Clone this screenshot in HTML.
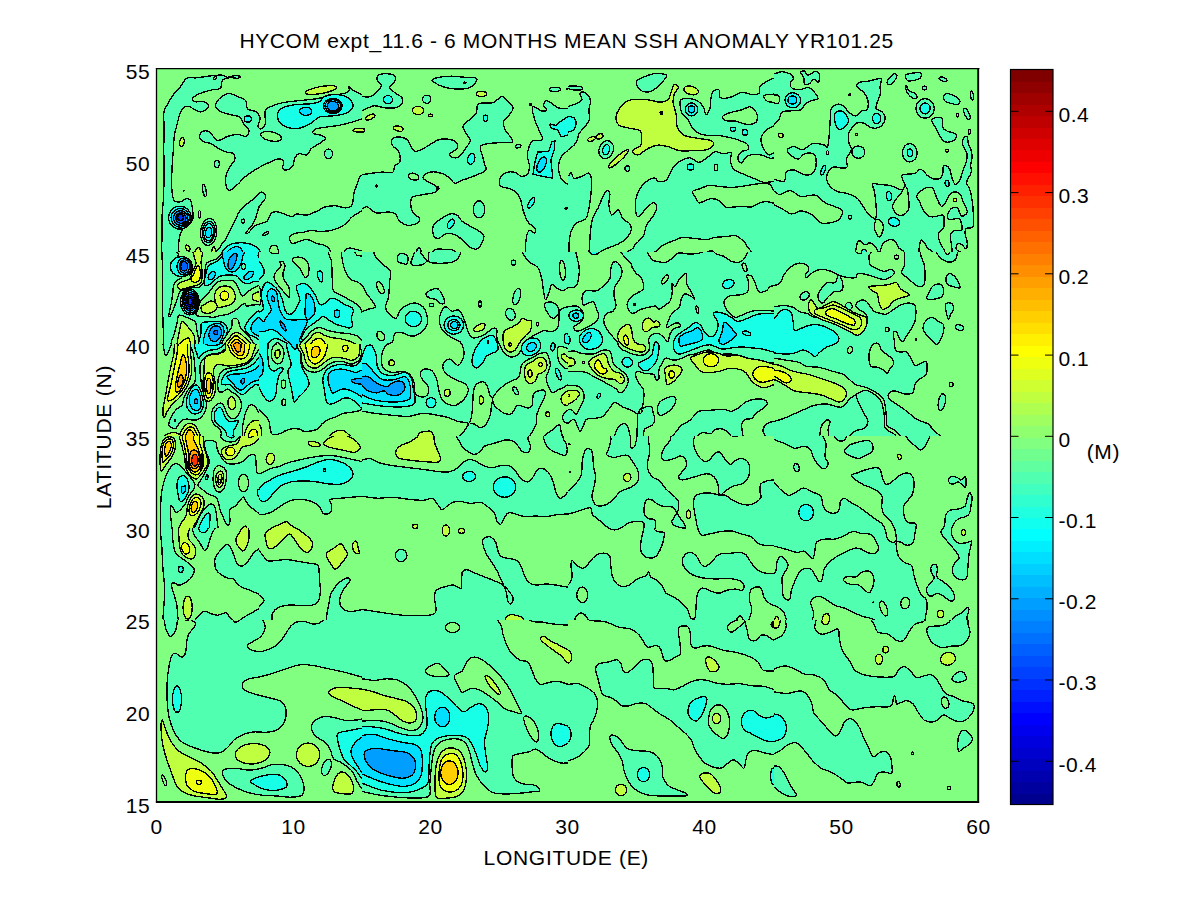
<!DOCTYPE html>
<html><head><meta charset="utf-8"><title>HYCOM expt_11.6 - 6 MONTHS MEAN SSH ANOMALY YR101.25</title>
<style>html,body{margin:0;padding:0;background:#fff}body{width:1200px;height:901px;overflow:hidden}svg{display:block}text{font-family:"Liberation Sans",Arial,Helvetica,sans-serif;font-size:21px;letter-spacing:0.55px;fill:#000}.f path,.f ellipse{stroke:#000;stroke-width:1.35;vector-effect:non-scaling-stroke;stroke-linejoin:round;shape-rendering:crispEdges}</style></head><body>
<svg width="1200" height="901" viewBox="0 0 1200 901">
<rect width="1200" height="901" fill="#fff"/>
<rect x="156.5" y="68.5" width="822" height="733.5" fill="#80FF80"/>
<defs>
<clipPath id="c0"><rect x="156.5" y="68.5" width="205.5" height="183.5"/></clipPath>
<clipPath id="c1"><rect x="362" y="68.5" width="206" height="183.5"/></clipPath>
<clipPath id="c2"><rect x="568" y="68.5" width="206" height="183.5"/></clipPath>
<clipPath id="c3"><rect x="774" y="68.5" width="204.5" height="183.5"/></clipPath>
<clipPath id="c4"><rect x="156.5" y="252" width="102.5" height="92"/></clipPath>
<clipPath id="c5"><rect x="259" y="252" width="103" height="92"/></clipPath>
<clipPath id="c6"><rect x="156.5" y="344" width="102.5" height="92"/></clipPath>
<clipPath id="c7"><rect x="259" y="344" width="103" height="92"/></clipPath>
<clipPath id="c8"><rect x="362" y="252" width="206" height="184"/></clipPath>
<clipPath id="c9"><rect x="568" y="252" width="206" height="184"/></clipPath>
<clipPath id="c10"><rect x="774" y="252" width="204.5" height="184"/></clipPath>
<clipPath id="c11"><rect x="259" y="436" width="103" height="184"/></clipPath>
<clipPath id="c12"><rect x="156.5" y="436" width="102.5" height="92"/></clipPath>
<clipPath id="c13"><rect x="156.5" y="528" width="102.5" height="92"/></clipPath>
<clipPath id="c14"><rect x="362" y="436" width="206" height="184"/></clipPath>
<clipPath id="c15"><rect x="568" y="436" width="206" height="184"/></clipPath>
<clipPath id="c16"><rect x="774" y="436" width="204.5" height="184"/></clipPath>
<clipPath id="c17"><rect x="156.5" y="620" width="205.5" height="182"/></clipPath>
<clipPath id="c18"><rect x="362" y="620" width="206" height="182"/></clipPath>
<clipPath id="c19"><rect x="568" y="620" width="206" height="182"/></clipPath>
<clipPath id="c20"><rect x="774" y="620" width="204.5" height="182"/></clipPath>
</defs>
<g class="f" clip-path="url(#c0)"><g transform="translate(156,68) scale(0.204165)">
<path d="M415,42 C412.5,40.0 395.8,37.5 385,38 C374.2,38.5 360.8,45.5 350,45 C339.2,44.5 333.3,36.2 320,35 C306.7,33.8 290.0,35.8 270,38 C250.0,40.2 220.0,46.0 200,48 C180.0,50.0 162.5,43.8 150,50 C137.5,56.2 135.8,71.7 125,85 C114.2,98.3 96.7,114.2 85,130 C73.3,145.8 62.8,165.0 55,180 C47.2,195.0 40.5,200.0 38,220 C35.5,240.0 40.0,270.0 40,300 C40.0,330.0 38.0,366.7 38,400 C38.0,433.3 40.0,466.7 40,500 C40.0,533.3 38.8,573.3 38,600 C37.2,626.7 36.3,640.0 35,660 C33.7,680.0 30.8,696.7 30,720 C29.2,743.3 29.2,761.7 30,800 C30.8,838.3 21.3,925.0 35,950 C48.7,975.0 99.5,961.7 112,950 C124.5,938.3 109.5,900.0 110,880 C110.5,860.0 111.7,845.0 115,830 C118.3,815.0 122.5,800.0 130,790 C137.5,780.0 151.7,778.3 160,770 C168.3,761.7 176.7,751.7 180,740 C183.3,728.3 181.7,715.0 180,700 C178.3,685.0 175.0,660.0 170,650 C165.0,640.0 158.3,639.2 150,640 C141.7,640.8 130.0,653.3 120,655 C110.0,656.7 97.0,659.2 90,650 C83.0,640.8 80.0,625.0 78,600 C76.0,575.0 76.8,533.3 78,500 C79.2,466.7 83.0,428.3 85,400 C87.0,371.7 86.7,351.7 90,330 C93.3,308.3 100.3,288.3 105,270 C109.7,251.7 113.0,232.5 118,220 C123.0,207.5 128.0,200.3 135,195 C142.0,189.7 146.7,184.7 160,188 C173.3,191.3 200.0,213.0 215,215 C230.0,217.0 243.3,205.8 250,200 C256.7,194.2 257.5,185.8 255,180 C252.5,174.2 245.8,167.5 235,165 C224.2,162.5 199.2,167.8 190,165 C180.8,162.2 175.8,154.7 180,148 C184.2,141.3 200.0,131.7 215,125 C230.0,118.3 253.3,112.2 270,108 C286.7,103.8 305.8,108.0 315,100 C324.2,92.0 317.5,68.7 325,60 C332.5,51.3 347.5,49.7 360,48 C372.5,46.3 390.8,51.0 400,50 C409.2,49.0 417.5,44.0 415,42 Z" fill="#50FFAF"/>
<ellipse cx="288" cy="50" rx="10" ry="5" fill="#80FF80" transform="rotate(-45 288 50)"/>
<ellipse cx="117" cy="733" rx="55" ry="56" fill="#18FFE7"/>
<ellipse cx="119" cy="734" rx="45" ry="46" fill="#00DFFF" stroke-width="0.55"/>
<ellipse cx="121" cy="735" rx="35" ry="36" fill="#009FFF" stroke-width="0.55"/>
<ellipse cx="122" cy="735" rx="25" ry="26" fill="#0060FF" stroke-width="0.55"/>
<ellipse cx="120" cy="731" rx="14" ry="16" fill="#0030FF" stroke-width="0.55"/>
<ellipse cx="143" cy="765" rx="7" ry="14" fill="#000000" transform="rotate(-35 143 765)"/>
<path d="M292,180 C294.5,172.5 299.5,159.2 310,150 C320.5,140.8 340.0,126.7 355,125 C370.0,123.3 385.8,134.2 400,140 C414.2,145.8 432.0,150.0 440,160 C448.0,170.0 439.7,190.8 448,200 C456.3,209.2 479.7,207.5 490,215 C500.3,222.5 508.3,233.3 510,245 C511.7,256.7 499.2,276.2 500,285 C500.8,293.8 509.2,299.7 515,298 C520.8,296.3 531.7,289.7 535,275 C538.3,260.3 530.8,224.2 535,210 C539.2,195.8 545.8,196.7 560,190 C574.2,183.3 596.7,175.0 620,170 C643.3,165.0 671.7,163.3 700,160 C728.3,156.7 765.0,154.2 790,150 C815.0,145.8 828.3,139.2 850,135 C871.7,130.8 904.2,129.2 920,125 C935.8,120.8 940.8,115.8 945,110 C949.2,104.2 942.5,90.8 945,90 C947.5,89.2 949.3,98.3 960,105 C970.7,111.7 994.0,125.8 1009,130 C1024.0,134.2 1043.2,111.7 1050,130 C1056.8,148.3 1056.8,220.0 1050,240 C1043.2,260.0 1024.0,245.8 1009,250 C994.0,254.2 978.2,260.0 960,265 C941.8,270.0 921.7,275.8 900,280 C878.3,284.2 850.0,286.7 830,290 C810.0,293.3 790.0,295.0 780,300 C770.0,305.0 765.0,315.0 770,320 C775.0,325.0 800.0,325.8 810,330 C820.0,334.2 831.7,338.3 830,345 C828.3,351.7 811.7,361.7 800,370 C788.3,378.3 770.0,385.8 760,395 C750.0,404.2 750.0,420.8 740,425 C730.0,429.2 710.0,417.5 700,420 C690.0,422.5 685.0,430.0 680,440 C675.0,450.0 676.7,470.0 670,480 C663.3,490.0 648.3,498.3 640,500 C631.7,501.7 622.5,496.7 620,490 C617.5,483.3 628.3,467.5 625,460 C621.7,452.5 610.8,445.0 600,445 C589.2,445.0 576.7,452.5 560,460 C543.3,467.5 520.0,478.3 500,490 C480.0,501.7 456.7,516.7 440,530 C423.3,543.3 413.3,558.3 400,570 C386.7,581.7 369.7,600.0 360,600 C350.3,600.0 344.5,583.3 342,570 C339.5,556.7 341.2,535.0 345,520 C348.8,505.0 358.3,491.7 365,480 C371.7,468.3 382.5,460.0 385,450 C387.5,440.0 387.5,426.7 380,420 C372.5,413.3 353.3,415.0 340,410 C326.7,405.0 311.7,396.7 300,390 C288.3,383.3 281.7,375.0 270,370 C258.3,365.0 239.7,365.8 230,360 C220.3,354.2 212.0,343.3 212,335 C212.0,326.7 221.2,313.3 230,310 C238.8,306.7 253.3,307.5 265,315 C276.7,322.5 285.8,351.7 300,355 C314.2,358.3 333.3,340.0 350,335 C366.7,330.0 385.0,325.0 400,325 C415.0,325.0 430.8,338.3 440,335 C449.2,331.7 456.7,315.0 455,305 C453.3,295.0 437.5,285.8 430,275 C422.5,264.2 420.0,247.5 410,240 C400.0,232.5 385.0,234.2 370,230 C355.0,225.8 332.5,220.8 320,215 C307.5,209.2 299.7,200.8 295,195 C290.3,189.2 289.5,187.5 292,180 Z" fill="#50FFAF"/>
<path d="M595,225 C597.5,213.3 605.8,202.5 620,195 C634.2,187.5 656.7,183.3 680,180 C703.3,176.7 740.0,177.5 760,175 C780.0,172.5 789.2,170.8 800,165 C810.8,159.2 813.3,145.8 825,140 C836.7,134.2 852.5,130.0 870,130 C887.5,130.0 914.7,133.3 930,140 C945.3,146.7 957.0,160.0 962,170 C967.0,180.0 967.0,190.8 960,200 C953.0,209.2 936.7,219.2 920,225 C903.3,230.8 880.0,232.5 860,235 C840.0,237.5 816.7,234.2 800,240 C783.3,245.8 776.7,260.8 760,270 C743.3,279.2 720.0,291.7 700,295 C680.0,298.3 655.8,295.0 640,290 C624.2,285.0 612.5,275.8 605,265 C597.5,254.2 592.5,236.7 595,225 Z" fill="#18FFE7"/>
<ellipse cx="733" cy="212" rx="30" ry="20" fill="#00DFFF"/>
<ellipse cx="866" cy="186" rx="46" ry="37" fill="#00DFFF"/>
<ellipse cx="866" cy="186" rx="38" ry="31" fill="#00DFFF"/>
<ellipse cx="866" cy="187" rx="28" ry="24" fill="#009FFF"/>
<ellipse cx="450" cy="250" rx="18" ry="15" fill="#18FFE7"/>
<ellipse cx="563" cy="335" rx="52" ry="22" fill="#80FF80" transform="rotate(12 563 335)"/>
<ellipse cx="808" cy="108" rx="78" ry="17" fill="#BFFF40" transform="rotate(-10 808 108)"/>
<ellipse cx="995" cy="305" rx="30" ry="9" fill="#BFFF40"/>
<ellipse cx="127" cy="362" rx="11" ry="22" fill="#BFFF40" transform="rotate(10 127 362)"/>
<ellipse cx="298" cy="470" rx="12" ry="18" fill="#50FFAF"/>
<ellipse cx="237" cy="600" rx="8" ry="30" fill="#50FFAF" transform="rotate(-10 237 600)"/>
<ellipse cx="135" cy="602" rx="2" ry="3" fill="#000000"/>
<ellipse cx="213" cy="717" rx="4" ry="18" fill="#BFFF40"/>
<ellipse cx="845" cy="420" rx="20" ry="23" fill="#50FFAF"/>
<ellipse cx="258" cy="803" rx="40" ry="66" fill="#50FFAF" transform="rotate(5 258 803)"/>
<ellipse cx="258" cy="803" rx="31" ry="52" fill="#18FFE7" stroke-width="0.8" transform="rotate(5 258 803)"/>
<ellipse cx="258" cy="804" rx="24" ry="42" fill="#18FFE7" stroke-width="0.7" transform="rotate(5 258 804)"/>
<ellipse cx="258" cy="806" rx="15" ry="26" fill="#00DFFF" stroke-width="0.7" transform="rotate(5 258 806)"/>
<path d="M510,610 C501.7,614.2 491.7,630.0 480,640 C468.3,650.0 451.7,660.0 440,670 C428.3,680.0 418.3,688.3 410,700 C401.7,711.7 397.5,725.0 390,740 C382.5,755.0 373.3,773.3 365,790 C356.7,806.7 348.8,825.0 340,840 C331.2,855.0 318.7,861.7 312,880 C305.3,898.3 210.3,938.3 300,950 C389.7,961.7 757.5,958.2 850,950 C942.5,941.8 858.3,914.3 855,901 C851.7,887.7 840.8,876.8 830,870 C819.2,863.2 805.0,865.0 790,860 C775.0,855.0 755.0,841.7 740,840 C725.0,838.3 712.5,846.7 700,850 C687.5,853.3 672.5,863.3 665,860 C657.5,856.7 652.5,838.3 655,830 C657.5,821.7 669.2,814.2 680,810 C690.8,805.8 706.7,807.5 720,805 C733.3,802.5 746.7,795.8 760,795 C773.3,794.2 783.3,800.0 800,800 C816.7,800.0 840.0,800.0 860,795 C880.0,790.0 903.3,780.8 920,770 C936.7,759.2 945.2,741.7 960,730 C974.8,718.3 994.0,706.7 1009,700 C1024.0,693.3 1043.2,720.0 1050,690 C1056.8,660.0 1056.8,547.5 1050,520 C1043.2,492.5 1018.2,521.7 1009,525 C999.8,528.3 999.0,532.5 995,540 C991.0,547.5 989.2,558.3 985,570 C980.8,581.7 974.2,593.3 970,610 C965.8,626.7 966.7,657.5 960,670 C953.3,682.5 943.3,684.2 930,685 C916.7,685.8 896.7,675.8 880,675 C863.3,674.2 845.0,675.8 830,680 C815.0,684.2 805.0,693.3 790,700 C775.0,706.7 756.7,717.5 740,720 C723.3,722.5 702.5,713.7 690,715 C677.5,716.3 673.3,727.2 665,728 C656.7,728.8 650.8,723.8 640,720 C629.2,716.2 612.5,706.7 600,705 C587.5,703.3 574.2,702.5 565,710 C555.8,717.5 552.5,741.7 545,750 C537.5,758.3 530.8,755.8 520,760 C509.2,764.2 490.8,767.5 480,775 C469.2,782.5 461.7,798.8 455,805 C448.3,811.2 441.7,812.8 440,812 C438.3,811.2 440.0,807.0 445,800 C450.0,793.0 462.5,781.7 470,770 C477.5,758.3 484.2,745.0 490,730 C495.8,715.0 497.5,695.0 505,680 C512.5,665.0 530.8,650.8 535,640 C539.2,629.2 534.2,620.0 530,615 C525.8,610.0 518.3,605.8 510,610 Z" fill="#50FFAF"/>
<path d="M915,950 C894.2,940.8 919.2,906.3 925,895 C930.8,883.7 940.0,882.8 950,882 C960.0,881.2 975.2,887.8 985,890 C994.8,892.2 998.2,893.3 1009,895 C1019.8,896.7 1043.2,890.8 1050,900 C1056.8,909.2 1072.5,941.7 1050,950 C1027.5,958.3 935.8,959.2 915,950 Z" fill="#50FFAF"/>
<ellipse cx="427" cy="750" rx="8" ry="10" fill="#50FFAF"/>
<ellipse cx="537" cy="812" rx="16" ry="6" fill="#50FFAF" transform="rotate(-30 537 812)"/>
<path d="M312,950 C279.5,941.7 317.0,914.0 325,900 C333.0,886.0 345.8,873.3 360,866 C374.2,858.7 393.3,856.7 410,856 C426.7,855.3 445.0,857.2 460,862 C475.0,866.8 490.0,870.3 500,885 C510.0,899.7 551.3,939.2 520,950 C488.7,960.8 344.5,958.3 312,950 Z" fill="#18FFE7"/>
<path d="M330,950 C315.8,942.5 337.5,916.7 345,905 C352.5,893.3 365.8,884.8 375,880 C384.2,875.2 392.5,874.3 400,876 C407.5,877.7 415.0,877.7 420,890 C425.0,902.3 445.0,940.0 430,950 C415.0,960.0 344.2,957.5 330,950 Z" fill="#00DFFF"/>
<path d="M555,950 C547.2,939.2 554.7,898.7 558,885 C561.3,871.3 568.8,868.8 575,868 C581.2,867.2 590.0,866.3 595,880 C600.0,893.7 611.7,938.3 605,950 C598.3,961.7 562.8,960.8 555,950 Z" fill="#80FF80"/>
<ellipse cx="155" cy="882" rx="9" ry="16" fill="#BFFF40" transform="rotate(-30 155 882)"/>
<path d="M185,950 C180.0,940.0 190.0,900.8 195,890 C200.0,879.2 210.0,875.0 215,885 C220.0,895.0 230.0,939.2 225,950 C220.0,960.8 190.0,960.0 185,950 Z" fill="#BFFF40"/>
<path d="M270,950 C266.7,940.0 272.0,901.7 275,890 C278.0,878.3 284.7,870.0 288,880 C291.3,890.0 298.0,938.3 295,950 C292.0,961.7 273.3,960.0 270,950 Z" fill="#BFFF40"/>
</g></g>
<g class="f" clip-path="url(#c1)"><g transform="translate(362,68) scale(0.204165)">
<path d="M-40,135 C-33.3,123.3 -13.3,139.2 0,140 C13.3,140.8 27.5,144.2 40,140 C52.5,135.8 65.8,124.2 75,115 C84.2,105.8 95.0,94.2 95,85 C95.0,75.8 77.5,68.3 75,60 C72.5,51.7 72.5,40.3 80,35 C87.5,29.7 106.7,27.5 120,28 C133.3,28.5 153.3,31.8 160,38 C166.7,44.2 164.2,55.5 160,65 C155.8,74.5 135.0,85.8 135,95 C135.0,104.2 150.0,111.7 160,120 C170.0,128.3 189.2,135.8 195,145 C200.8,154.2 200.8,166.7 195,175 C189.2,183.3 174.2,191.7 160,195 C145.8,198.3 126.7,196.7 110,195 C93.3,193.3 75.0,184.2 60,185 C45.0,185.8 30.0,196.2 20,200 C10.0,203.8 10.0,206.3 0,208 C-10.0,209.7 -33.3,222.2 -40,210 C-46.7,197.8 -46.7,146.7 -40,135 Z" fill="#50FFAF"/>
<ellipse cx="127" cy="155" rx="22" ry="20" fill="#18FFE7"/>
<path d="M343,60 C343.0,53.3 363.8,48.3 380,45 C396.2,41.7 420.0,40.0 440,40 C460.0,40.0 480.8,43.7 500,45 C519.2,46.3 545.0,44.7 555,48 C565.0,51.3 564.2,57.2 560,65 C555.8,72.8 543.3,88.7 530,95 C516.7,101.3 498.3,102.5 480,103 C461.7,103.5 436.7,101.0 420,98 C403.3,95.0 392.8,91.3 380,85 C367.2,78.7 343.0,66.7 343,60 Z" fill="#50FFAF"/>
<ellipse cx="503" cy="72" rx="7" ry="3" fill="#000000"/>
<ellipse cx="317" cy="153" rx="20" ry="20" fill="#50FFAF"/>
<ellipse cx="275" cy="208" rx="27" ry="20" fill="#BFFF40"/>
<ellipse cx="335" cy="232" rx="10" ry="6" fill="#BFFF40"/>
<ellipse cx="585" cy="127" rx="25" ry="12" fill="#BFFF40"/>
<ellipse cx="40" cy="240" rx="25" ry="11" fill="#BFFF40" transform="rotate(-25 40 240)"/>
<ellipse cx="178" cy="297" rx="24" ry="12" fill="#BFFF40" transform="rotate(15 178 297)"/>
<ellipse cx="0" cy="305" rx="12" ry="10" fill="#BFFF40"/>
<ellipse cx="945" cy="105" rx="27" ry="10" fill="#50FFAF"/>
<ellipse cx="1005" cy="102" rx="4" ry="2" fill="#000000"/>
<ellipse cx="825" cy="178" rx="4" ry="5" fill="#000000"/>
<path d="M570,175 C583.3,166.7 620.8,175.8 640,170 C659.2,164.2 672.5,140.8 685,140 C697.5,139.2 705.8,155.8 715,165 C724.2,174.2 738.3,185.0 740,195 C741.7,205.0 732.5,214.2 725,225 C717.5,235.8 699.2,247.5 695,260 C690.8,272.5 695.0,287.5 700,300 C705.0,312.5 718.8,324.7 725,335 C731.2,345.3 742.8,357.0 737,362 C731.2,367.0 709.5,363.7 690,365 C670.5,366.3 638.3,366.7 620,370 C601.7,373.3 585.0,375.0 580,385 C575.0,395.0 586.7,415.8 590,430 C593.3,444.2 597.2,458.3 600,470 C602.8,481.7 612.0,491.7 607,500 C602.0,508.3 584.5,513.3 570,520 C555.5,526.7 533.3,535.0 520,540 C506.7,545.0 500.8,545.8 490,550 C479.2,554.2 465.0,566.7 455,565 C445.0,563.3 439.2,547.5 430,540 C420.8,532.5 413.3,525.3 400,520 C386.7,514.7 365.0,508.0 350,508 C335.0,508.0 318.3,514.7 310,520 C301.7,525.3 298.3,534.2 300,540 C301.7,545.8 311.7,550.0 320,555 C328.3,560.0 341.7,564.2 350,570 C358.3,575.8 369.2,583.3 370,590 C370.8,596.7 366.7,605.0 355,610 C343.3,615.0 318.3,615.8 300,620 C281.7,624.2 255.0,625.0 245,635 C235.0,645.0 239.2,667.5 240,680 C240.8,692.5 243.3,700.8 250,710 C256.7,719.2 276.7,726.7 280,735 C283.3,743.3 280.0,754.2 270,760 C260.0,765.8 235.0,772.5 220,770 C205.0,767.5 189.2,754.2 180,745 C170.8,735.8 173.3,721.7 165,715 C156.7,708.3 145.8,705.8 130,705 C114.2,704.2 87.5,714.2 70,710 C52.5,705.8 36.7,683.3 25,680 C13.3,676.7 10.8,688.3 0,690 C-10.8,691.7 -33.3,718.3 -40,690 C-46.7,661.7 -46.7,548.0 -40,520 C-33.3,492.0 -15.0,522.8 0,522 C15.0,521.2 33.3,517.0 50,515 C66.7,513.0 83.3,510.5 100,510 C116.7,509.5 140.0,517.0 150,512 C160.0,507.0 154.2,488.7 160,480 C165.8,471.3 181.7,471.7 185,460 C188.3,448.3 185.8,423.3 180,410 C174.2,396.7 155.3,390.0 150,380 C144.7,370.0 143.8,357.0 148,350 C152.2,343.0 163.0,338.0 175,338 C187.0,338.0 209.2,342.2 220,350 C230.8,357.8 233.3,375.3 240,385 C246.7,394.7 250.0,406.3 260,408 C270.0,409.7 286.7,401.3 300,395 C313.3,388.7 326.7,377.5 340,370 C353.3,362.5 365.0,353.3 380,350 C395.0,346.7 416.3,347.5 430,350 C443.7,352.5 456.2,357.5 462,365 C467.8,372.5 470.3,385.8 465,395 C459.7,404.2 434.2,413.0 430,420 C425.8,427.0 432.5,434.5 440,437 C447.5,439.5 463.3,442.8 475,435 C486.7,427.2 500.8,403.3 510,390 C519.2,376.7 530.0,366.7 530,355 C530.0,343.3 515.8,331.7 510,320 C504.2,308.3 491.7,296.7 495,285 C498.3,273.3 519.2,260.8 530,250 C540.8,239.2 553.3,232.5 560,220 C566.7,207.5 556.7,183.3 570,175 Z" fill="#50FFAF"/>
<ellipse cx="605" cy="247" rx="10" ry="16" fill="#18FFE7"/>
<ellipse cx="535" cy="445" rx="17" ry="27" fill="#18FFE7" transform="rotate(15 535 445)"/>
<ellipse cx="253" cy="532" rx="26" ry="16" fill="#80FF80" transform="rotate(15 253 532)"/>
<ellipse cx="70" cy="578" rx="5" ry="5" fill="#000000"/>
<ellipse cx="370" cy="587" rx="6" ry="8" fill="#000000" transform="rotate(-30 370 587)"/>
<path d="M1050,200 C1043.2,75.0 1024.0,200.8 1009,200 C994.0,199.2 974.0,200.0 960,195 C946.0,190.0 935.0,175.8 925,170 C915.0,164.2 905.8,157.5 900,160 C894.2,162.5 889.2,177.5 890,185 C890.8,192.5 906.7,200.8 905,205 C903.3,209.2 891.7,212.5 880,210 C868.3,207.5 840.8,183.3 835,190 C829.2,196.7 840.0,231.7 845,250 C850.0,268.3 858.3,283.3 865,300 C871.7,316.7 889.2,340.8 885,350 C880.8,359.2 850.8,350.0 840,355 C829.2,360.0 825.0,367.5 820,380 C815.0,392.5 810.0,413.3 810,430 C810.0,446.7 820.0,465.0 820,480 C820.0,495.0 816.7,511.7 810,520 C803.3,528.3 790.8,531.7 780,530 C769.2,528.3 758.3,512.5 745,510 C731.7,507.5 711.7,509.2 700,515 C688.3,520.8 678.3,534.2 675,545 C671.7,555.8 672.5,572.5 680,580 C687.5,587.5 708.3,585.8 720,590 C731.7,594.2 740.8,596.7 750,605 C759.2,613.3 768.3,624.2 775,640 C781.7,655.8 784.2,681.7 790,700 C795.8,718.3 802.5,737.5 810,750 C817.5,762.5 828.3,768.3 835,775 C841.7,781.7 848.3,784.5 850,790 C851.7,795.5 850.0,807.2 845,808 C840.0,808.8 826.7,791.3 820,795 C813.3,798.7 808.3,812.3 805,830 C801.7,847.7 801.7,881.0 800,901 C798.3,921.0 753.3,941.8 795,950 C836.7,958.2 1007.5,1075.0 1050,950 C1092.5,825.0 1056.8,325.0 1050,200 Z" fill="#50FFAF"/>
<path d="M922,275 C925.3,272.5 941.2,282.5 950,280 C958.8,277.5 965.2,266.7 975,260 C984.8,253.3 996.5,244.2 1009,240 C1021.5,235.8 1043.2,220.0 1050,235 C1056.8,250.0 1056.8,314.5 1050,330 C1043.2,345.5 1021.5,327.2 1009,328 C996.5,328.8 983.2,338.8 975,335 C966.8,331.2 967.5,311.7 960,305 C952.5,298.3 936.3,300.0 930,295 C923.7,290.0 918.7,277.5 922,275 Z" fill="#18FFE7"/>
<path d="M860,412 L915,408 L930,362 L945,356 L942,400 L925,450 L935,540 L880,530 L838,520 L845,470 Z" fill="#18FFE7"/>
<ellipse cx="880" cy="473" rx="19" ry="40" fill="#00DFFF" transform="rotate(25 880 473)"/>
<path d="M1050,395 C1043.2,365.8 1020.7,399.2 1009,405 C997.3,410.8 987.8,417.5 980,430 C972.2,442.5 962.8,461.7 962,480 C961.2,498.3 967.2,525.0 975,540 C982.8,555.0 996.5,563.3 1009,570 C1021.5,576.7 1043.2,609.2 1050,580 C1056.8,550.8 1056.8,424.2 1050,395 Z" fill="#80FF80"/>
<ellipse cx="829" cy="660" rx="11" ry="30" fill="#18FFE7" transform="rotate(30 829 660)"/>
<ellipse cx="1000" cy="687" rx="6" ry="4" fill="#000000"/>
<ellipse cx="765" cy="383" rx="14" ry="8" fill="#50FFAF" transform="rotate(-15 765 383)"/>
<ellipse cx="573" cy="692" rx="28" ry="42" fill="#50FFAF"/>
<path d="M350,770 C355.8,756.7 371.7,749.2 385,740 C398.3,730.8 416.7,718.3 430,715 C443.3,711.7 455.0,714.2 465,720 C475.0,725.8 479.2,740.8 490,750 C500.8,759.2 515.8,766.7 530,775 C544.2,783.3 563.8,791.7 575,800 C586.2,808.3 596.2,813.3 597,825 C597.8,836.7 586.2,859.5 580,870 C573.8,880.5 569.2,887.2 560,888 C550.8,888.8 536.7,883.0 525,875 C513.3,867.0 502.5,850.0 490,840 C477.5,830.0 463.3,819.7 450,815 C436.7,810.3 422.5,808.7 410,812 C397.5,815.3 385.0,833.7 375,835 C365.0,836.3 354.2,830.8 350,820 C345.8,809.2 344.2,783.3 350,770 Z" fill="#50FFAF"/>
<ellipse cx="435" cy="763" rx="14" ry="25" fill="#18FFE7" transform="rotate(30 435 763)"/>
<path d="M262,950 C257.3,940.0 266.2,900.8 270,890 C273.8,879.2 280.3,875.0 285,885 C289.7,895.0 301.8,939.2 298,950 C294.2,960.8 266.7,960.0 262,950 Z" fill="#50FFAF"/>
<path d="M340,950 C320.8,940.3 345.0,902.3 355,892 C365.0,881.7 383.3,887.2 400,888 C416.7,888.8 443.3,886.7 455,897 C466.7,907.3 489.2,941.2 470,950 C450.8,958.8 359.2,959.7 340,950 Z" fill="#50FFAF"/>
</g></g>
<g class="f" clip-path="url(#c2)"><g transform="translate(568,68) scale(0.204165)">
<path d="M-40,195 C-33.3,158.8 -13.3,191.3 0,188 C13.3,184.7 28.7,180.5 40,175 C51.3,169.5 65.0,163.3 68,155 C71.0,146.7 56.8,131.2 58,125 C59.2,118.8 68.0,116.3 75,118 C82.0,119.7 94.2,127.2 100,135 C105.8,142.8 109.7,153.3 110,165 C110.3,176.7 102.8,190.8 102,205 C101.2,219.2 107.8,236.7 105,250 C102.2,263.3 93.3,273.3 85,285 C76.7,296.7 62.2,307.5 55,320 C47.8,332.5 48.7,348.3 42,360 C35.3,371.7 28.7,382.5 15,390 C1.3,397.5 -30.8,437.5 -40,405 C-49.2,372.5 -46.7,231.2 -40,195 Z" fill="#50FFAF"/>
<path d="M-40,235 C-33.3,221.5 -11.7,235.3 0,237 C11.7,238.7 23.3,239.5 30,245 C36.7,250.5 40.0,260.8 40,270 C40.0,279.2 36.7,292.5 30,300 C23.3,307.5 11.7,312.0 0,315 C-11.7,318.0 -33.3,331.3 -40,318 C-46.7,304.7 -46.7,248.5 -40,235 Z" fill="#18FFE7"/>
<ellipse cx="35" cy="98" rx="38" ry="10" fill="#50FFAF" transform="rotate(5 35 98)"/>
<path d="M335,65 C338.3,55.0 355.8,51.2 370,45 C384.2,38.8 403.3,30.5 420,28 C436.7,25.5 459.5,27.7 470,30 C480.5,32.3 484.7,35.3 483,42 C481.3,48.7 468.8,60.3 460,70 C451.2,79.7 441.7,92.0 430,100 C418.3,108.0 403.3,117.2 390,118 C376.7,118.8 359.2,113.8 350,105 C340.8,96.2 331.7,75.0 335,65 Z" fill="#50FFAF"/>
<ellipse cx="247" cy="445" rx="65" ry="13" fill="#BFFF40" transform="rotate(-42 247 445)"/>
<path d="M235,240 C235.8,225.8 245.8,208.0 255,195 C264.2,182.0 275.8,169.0 290,162 C304.2,155.0 321.7,153.8 340,153 C358.3,152.2 381.7,154.7 400,157 C418.3,159.3 435.0,167.3 450,167 C465.0,166.7 480.8,162.8 490,155 C499.2,147.2 500.0,132.2 505,120 C510.0,107.8 514.2,86.2 520,82 C525.8,77.8 540.0,87.0 540,95 C540.0,103.0 524.2,117.5 520,130 C515.8,142.5 513.3,153.3 515,170 C516.7,186.7 526.7,210.0 530,230 C533.3,250.0 528.3,273.3 535,290 C541.7,306.7 552.5,320.8 570,330 C587.5,339.2 618.3,340.8 640,345 C661.7,349.2 688.0,350.0 700,355 C712.0,360.0 715.3,367.5 712,375 C708.7,382.5 697.0,395.0 680,400 C663.0,405.0 632.5,404.2 610,405 C587.5,405.8 565.0,408.3 545,405 C525.0,401.7 507.5,389.5 490,385 C472.5,380.5 456.7,376.3 440,378 C423.3,379.7 405.8,387.2 390,395 C374.2,402.8 357.5,422.2 345,425 C332.5,427.8 317.5,417.0 315,412 C312.5,407.0 322.8,401.2 330,395 C337.2,388.8 353.8,389.2 358,375 C362.2,360.8 364.7,323.3 355,310 C345.3,296.7 317.5,300.0 300,295 C282.5,290.0 260.8,289.2 250,280 C239.2,270.8 234.2,254.2 235,240 Z" fill="#BFFF40"/>
<ellipse cx="457" cy="220" rx="6" ry="8" fill="#000000"/>
<ellipse cx="603" cy="110" rx="37" ry="20" fill="#BFFF40" transform="rotate(15 603 110)"/>
<ellipse cx="115" cy="348" rx="20" ry="10" fill="#BFFF40" transform="rotate(-20 115 348)"/>
<ellipse cx="155" cy="335" rx="18" ry="12" fill="#BFFF40" transform="rotate(-20 155 335)"/>
<ellipse cx="187" cy="400" rx="35" ry="45" fill="#50FFAF" transform="rotate(20 187 400)"/>
<ellipse cx="187" cy="400" rx="17" ry="25" fill="#18FFE7" transform="rotate(15 187 400)"/>
<ellipse cx="291" cy="493" rx="12" ry="13" fill="#50FFAF"/>
<path d="M553,155 C561.3,148.3 585.5,148.3 600,150 C614.5,151.7 629.2,157.5 640,165 C650.8,172.5 659.2,184.2 665,195 C670.8,205.8 670.0,229.2 675,230 C680.0,230.8 690.8,213.3 695,200 C699.2,186.7 697.5,164.2 700,150 C702.5,135.8 703.3,122.0 710,115 C716.7,108.0 734.2,103.0 740,108 C745.8,113.0 736.7,138.8 745,145 C753.3,151.2 772.5,149.2 790,145 C807.5,140.8 831.7,122.5 850,120 C868.3,117.5 885.8,129.2 900,130 C914.2,130.8 928.3,131.7 935,125 C941.7,118.3 933.3,100.0 940,90 C946.7,80.0 963.5,71.7 975,65 C986.5,58.3 996.5,54.2 1009,50 C1021.5,45.8 1043.2,-25.0 1050,40 C1056.8,105.0 1056.8,373.3 1050,440 C1043.2,506.7 1019.0,439.7 1009,440 C999.0,440.3 1001.5,444.5 990,442 C978.5,439.5 958.3,427.0 940,425 C921.7,423.0 895.0,423.3 880,430 C865.0,436.7 858.0,463.3 850,465 C842.0,466.7 832.0,449.2 832,440 C832.0,430.8 842.0,416.7 850,410 C858.0,403.3 875.0,405.8 880,400 C885.0,394.2 886.7,382.5 880,375 C873.3,367.5 855.0,360.8 840,355 C825.0,349.2 808.3,344.2 790,340 C771.7,335.8 748.3,331.7 730,330 C711.7,328.3 695.0,331.7 680,330 C665.0,328.3 651.7,325.8 640,320 C628.3,314.2 618.3,305.8 610,295 C601.7,284.2 598.3,266.7 590,255 C581.7,243.3 566.7,235.8 560,225 C553.3,214.2 551.2,201.7 550,190 C548.8,178.3 544.7,161.7 553,155 Z" fill="#50FFAF"/>
<path d="M755,240 C757.5,233.7 774.2,225.8 790,220 C805.8,214.2 833.3,210.0 850,205 C866.7,200.0 879.2,190.0 890,190 C900.8,190.0 908.7,196.7 915,205 C921.3,213.3 928.0,229.2 928,240 C928.0,250.8 924.7,264.2 915,270 C905.3,275.8 885.8,276.7 870,275 C854.2,273.3 835.8,262.8 820,260 C804.2,257.2 785.8,261.3 775,258 C764.2,254.7 752.5,246.3 755,240 Z" fill="#80FF80"/>
<path d="M960,135 C965.7,129.3 994.0,129.2 1009,128 C1024.0,126.8 1043.2,121.8 1050,128 C1056.8,134.2 1056.8,158.3 1050,165 C1043.2,171.7 1021.5,168.5 1009,168 C996.5,167.5 983.2,167.5 975,162 C966.8,156.5 954.3,140.7 960,135 Z" fill="#80FF80"/>
<path d="M1050,270 C1043.2,248.7 1023.2,275.3 1009,282 C994.8,288.7 975.7,298.7 965,310 C954.3,321.3 946.2,335.8 945,350 C943.8,364.2 951.3,382.5 958,395 C964.7,407.5 976.5,421.7 985,425 C993.5,428.3 998.2,417.5 1009,415 C1019.8,412.5 1043.2,434.2 1050,410 C1056.8,385.8 1056.8,291.3 1050,270 Z" fill="#80FF80"/>
<ellipse cx="605" cy="203" rx="30" ry="32" fill="#18FFE7"/>
<ellipse cx="605" cy="203" rx="16" ry="17" fill="#00DFFF"/>
<ellipse cx="808" cy="300" rx="13" ry="10" fill="#18FFE7"/>
<ellipse cx="867" cy="315" rx="13" ry="15" fill="#18FFE7"/>
<path d="M-40,520 C-33.3,449.7 -9.2,529.3 0,528 C9.2,526.7 10.0,510.0 15,512 C20.0,514.0 20.8,537.0 30,540 C39.2,543.0 58.3,534.2 70,530 C81.7,525.8 92.5,512.5 100,515 C107.5,517.5 113.0,527.5 115,545 C117.0,562.5 114.5,594.2 112,620 C109.5,645.8 104.5,680.0 100,700 C95.5,720.0 95.0,730.0 85,740 C75.0,750.0 51.7,750.0 40,760 C28.3,770.0 20.8,783.3 15,800 C9.2,816.7 7.5,835.0 5,860 C2.5,885.0 7.5,935.0 0,950 C-7.5,965.0 -33.3,1021.7 -40,950 C-46.7,878.3 -46.7,590.3 -40,520 Z" fill="#50FFAF"/>
<path d="M195,600 C200.0,600.0 204.2,608.3 205,620 C205.8,631.7 198.3,653.3 200,670 C201.7,686.7 207.5,715.8 215,720 C222.5,724.2 235.8,691.7 245,695 C254.2,698.3 260.8,729.2 270,740 C279.2,750.8 293.3,751.7 300,760 C306.7,768.3 311.7,778.3 310,790 C308.3,801.7 300.0,818.3 290,830 C280.0,841.7 265.0,851.7 250,860 C235.0,868.3 215.0,873.2 200,880 C185.0,886.8 168.3,889.3 160,901 C151.7,912.7 160.0,941.8 150,950 C140.0,958.2 107.5,961.7 100,950 C92.5,938.3 103.3,905.0 105,880 C106.7,855.0 107.5,823.3 110,800 C112.5,776.7 113.3,760.0 120,740 C126.7,720.0 140.8,700.0 150,680 C159.2,660.0 167.5,633.3 175,620 C182.5,606.7 190.0,600.0 195,600 Z" fill="#50FFAF"/>
<path d="M310,950 C188.3,938.3 314.2,896.7 320,880 C325.8,863.3 336.7,860.0 345,850 C353.3,840.0 363.3,833.3 370,820 C376.7,806.7 376.7,786.7 385,770 C393.3,753.3 411.7,735.0 420,720 C428.3,705.0 435.0,690.0 435,680 C435.0,670.0 427.5,660.0 420,660 C412.5,660.0 400.8,670.0 390,680 C379.2,690.0 363.7,712.5 355,720 C346.3,727.5 342.2,731.7 338,725 C333.8,718.3 330.5,695.8 330,680 C329.5,664.2 330.0,646.7 335,630 C340.0,613.3 349.2,594.2 360,580 C370.8,565.8 388.3,551.7 400,545 C411.7,538.3 423.3,538.3 430,540 C436.7,541.7 431.7,553.3 440,555 C448.3,556.7 470.0,556.7 480,550 C490.0,543.3 493.3,526.7 500,515 C506.7,503.3 510.0,490.8 520,480 C530.0,469.2 546.7,456.7 560,450 C573.3,443.3 586.7,438.0 600,440 C613.3,442.0 626.7,462.0 640,462 C653.3,462.0 666.7,448.7 680,440 C693.3,431.3 706.7,413.3 720,410 C733.3,406.7 746.7,419.2 760,420 C773.3,420.8 794.2,410.0 800,415 C805.8,420.0 793.3,436.7 795,450 C796.7,463.3 799.2,483.3 810,495 C820.8,506.7 841.7,511.7 860,520 C878.3,528.3 903.3,538.3 920,545 C936.7,551.7 945.2,558.3 960,560 C974.8,561.7 994.0,556.7 1009,555 C1024.0,553.3 1043.2,484.2 1050,550 C1056.8,615.8 1173.3,883.3 1050,950 C926.7,1016.7 431.7,961.7 310,950 Z" fill="#50FFAF"/>
<path d="M610,605 C614.2,597.5 636.7,595.0 650,590 C663.3,585.0 675.0,576.7 690,575 C705.0,573.3 721.7,578.3 740,580 C758.3,581.7 781.7,585.0 800,585 C818.3,585.0 833.3,582.2 850,580 C866.7,577.8 883.3,574.5 900,572 C916.7,569.5 935.0,565.3 950,565 C965.0,564.7 980.2,564.2 990,570 C999.8,575.8 999.0,591.7 1009,600 C1019.0,608.3 1043.2,609.2 1050,620 C1056.8,630.8 1056.8,658.0 1050,665 C1043.2,672.0 1021.5,663.7 1009,662 C996.5,660.3 986.5,655.3 975,655 C963.5,654.7 952.5,655.8 940,660 C927.5,664.2 915.0,677.0 900,680 C885.0,683.0 866.7,677.7 850,678 C833.3,678.3 813.3,681.7 800,682 C786.7,682.3 780.0,685.3 770,680 C760.0,674.7 751.7,656.7 740,650 C728.3,643.3 713.3,639.2 700,640 C686.7,640.8 670.0,651.7 660,655 C650.0,658.3 645.8,663.3 640,660 C634.2,656.7 630.0,644.2 625,635 C620.0,625.8 605.8,612.5 610,605 Z" fill="#80FF80"/>
<path d="M415,950 C341.7,940.0 430.8,904.2 440,890 C449.2,875.8 456.7,872.5 470,865 C483.3,857.5 505.0,850.8 520,845 C535.0,839.2 543.3,831.7 560,830 C576.7,828.3 600.0,833.3 620,835 C640.0,836.7 663.3,840.8 680,840 C696.7,839.2 703.3,832.5 720,830 C736.7,827.5 763.3,826.7 780,825 C796.7,823.3 808.3,817.5 820,820 C831.7,822.5 840.8,831.7 850,840 C859.2,848.3 870.0,851.7 875,870 C880.0,888.3 956.7,936.7 880,950 C803.3,963.3 488.3,960.0 415,950 Z" fill="#80FF80"/>
<ellipse cx="600" cy="485" rx="16" ry="15" fill="#18FFE7"/>
<ellipse cx="725" cy="487" rx="8" ry="16" fill="#80FF80"/>
<ellipse cx="700" cy="899" rx="14" ry="3" fill="#000000"/>
</g></g>
<g class="f" clip-path="url(#c3)"><g transform="translate(774,68) scale(0.204165)">
<path d="M-40,20 C-33.3,-22.0 -13.3,28.3 0,28 C13.3,27.7 26.7,17.7 40,18 C53.3,18.3 70.8,24.7 80,30 C89.2,35.3 95.0,42.5 95,50 C95.0,57.5 80.8,66.7 80,75 C79.2,83.3 81.7,95.0 90,100 C98.3,105.0 116.7,105.8 130,105 C143.3,104.2 159.2,93.3 170,95 C180.8,96.7 187.5,105.8 195,115 C202.5,124.2 217.5,142.5 215,150 C212.5,157.5 190.8,155.0 180,160 C169.2,165.0 158.3,172.5 150,180 C141.7,187.5 141.7,200.0 130,205 C118.3,210.0 95.0,208.3 80,210 C65.0,211.7 49.2,208.3 40,215 C30.8,221.7 31.7,240.0 25,250 C18.3,260.0 10.8,270.0 0,275 C-10.8,280.0 -33.3,322.5 -40,280 C-46.7,237.5 -46.7,62.0 -40,20 Z" fill="#50FFAF"/>
<path d="M-40,130 C-33.3,123.3 -10.3,131.2 0,132 C10.3,132.8 17.3,131.2 22,135 C26.7,138.8 28.3,148.8 28,155 C27.7,161.2 24.7,169.2 20,172 C15.3,174.8 10.0,172.0 0,172 C-10.0,172.0 -33.3,179.0 -40,172 C-46.7,165.0 -46.7,136.7 -40,130 Z" fill="#80FF80"/>
<ellipse cx="92" cy="158" rx="38" ry="37" fill="#18FFE7"/>
<ellipse cx="90" cy="157" rx="22" ry="20" fill="#00DFFF"/>
<path d="M130,20 C130.8,15.0 144.2,12.5 150,15 C155.8,17.5 156.7,34.5 165,35 C173.3,35.5 190.5,19.2 200,18 C209.5,16.8 219.0,19.3 222,28 C225.0,36.7 222.5,65.5 218,70 C213.5,74.5 202.2,54.2 195,55 C187.8,55.8 182.5,71.2 175,75 C167.5,78.8 155.0,83.0 150,78 C145.0,73.0 148.3,54.7 145,45 C141.7,35.3 129.2,25.0 130,20 Z" fill="#50FFAF"/>
<path d="M405,90 C401.7,81.7 410.8,74.2 420,70 C429.2,65.8 446.7,67.5 460,65 C473.3,62.5 489.2,57.2 500,55 C510.8,52.8 521.7,46.2 525,52 C528.3,57.8 520.8,77.0 520,90 C519.2,103.0 522.5,116.7 520,130 C517.5,143.3 508.3,158.3 505,170 C501.7,181.7 495.8,192.5 500,200 C504.2,207.5 522.5,207.5 530,215 C537.5,222.5 545.0,234.2 545,245 C545.0,255.8 537.5,271.7 530,280 C522.5,288.3 510.0,293.3 500,295 C490.0,296.7 480.0,294.2 470,290 C460.0,285.8 450.8,273.3 440,270 C429.2,266.7 414.2,266.7 405,270 C395.8,273.3 391.7,281.7 385,290 C378.3,298.3 367.8,306.7 365,320 C362.2,333.3 365.5,356.7 368,370 C370.5,383.3 382.2,387.5 380,400 C377.8,412.5 358.7,430.8 355,445 C351.3,459.2 362.2,477.5 358,485 C353.8,492.5 341.3,490.0 330,490 C318.7,490.0 300.8,481.7 290,485 C279.2,488.3 270.3,500.0 265,510 C259.7,520.0 256.3,533.3 258,545 C259.7,556.7 266.3,570.0 275,580 C283.7,590.0 295.8,599.2 310,605 C324.2,610.8 343.3,609.2 360,615 C376.7,620.8 394.8,625.7 410,640 C425.2,654.3 439.2,685.8 451,701 C462.8,716.2 473.2,724.8 481,731 C488.8,737.2 494.7,743.0 498,738 C501.3,733.0 501.0,715.5 501,701 C501.0,686.5 499.7,667.7 498,651 C496.3,634.3 493.5,614.8 491,601 C488.5,587.2 478.0,573.0 483,568 C488.0,563.0 506.3,569.7 521,571 C535.7,572.3 554.3,571.8 571,576 C587.7,580.2 610.2,594.0 621,596 C631.8,598.0 632.7,592.2 636,588 C639.3,583.8 642.3,578.8 641,571 C639.7,563.2 629.7,549.0 628,541 C626.3,533.0 620.5,527.2 631,523 C641.5,518.8 677.7,520.2 691,516 C704.3,511.8 704.3,500.2 711,498 C717.7,495.8 724.3,498.3 731,503 C737.7,507.7 742.7,519.3 751,526 C759.3,532.7 771.0,540.5 781,543 C791.0,545.5 803.5,544.7 811,541 C818.5,537.3 823.2,530.2 826,521 C828.8,511.8 825.5,493.2 828,486 C830.5,478.8 835.5,476.3 841,478 C846.5,479.7 856.0,486.3 861,496 C866.0,505.7 866.5,523.5 871,536 C875.5,548.5 881.3,569.3 888,571 C894.7,572.7 904.7,557.7 911,546 C917.3,534.3 921.0,515.2 926,501 C931.0,486.8 937.8,474.5 941,461 C944.2,447.5 947.7,433.5 945,420 C942.3,406.5 928.3,391.7 925,380 C921.7,368.3 921.7,357.5 925,350 C928.3,342.5 940.5,331.7 945,335 C949.5,338.3 948.7,359.2 952,370 C955.3,380.8 962.0,388.3 965,400 C968.0,411.7 970.3,427.3 970,440 C969.7,452.7 963.7,464.2 963,476 C962.3,487.8 969.3,496.8 966,511 C962.7,525.2 944.3,547.7 943,561 C941.7,574.3 953.3,576.0 958,591 C962.7,606.0 968.0,631.0 971,651 C974.0,671.0 975.2,690.2 976,711 C976.8,731.8 981.8,763.5 976,776 C970.2,788.5 947.7,780.2 941,786 C934.3,791.8 935.2,800.2 936,811 C936.8,821.8 945.2,838.5 946,851 C946.8,863.5 945.2,883.5 941,886 C936.8,888.5 927.7,870.2 921,866 C914.3,861.8 906.0,857.7 901,861 C896.0,864.3 892.3,871.2 891,886 C889.7,900.8 1048.2,939.3 893,950 C737.8,960.7 115.5,1018.3 -40,950 C-195.5,881.7 -46.7,607.5 -40,540 C-33.3,472.5 -15.0,542.5 0,545 C15.0,547.5 40.0,560.8 50,555 C60.0,549.2 51.7,519.2 60,510 C68.3,500.8 83.3,497.5 100,500 C116.7,502.5 143.3,525.0 160,525 C176.7,525.0 192.5,514.2 200,500 C207.5,485.8 206.7,453.3 205,440 C203.3,426.7 199.2,423.3 190,420 C180.8,416.7 161.7,415.8 150,420 C138.3,424.2 130.8,443.3 120,445 C109.2,446.7 94.2,437.5 85,430 C75.8,422.5 62.5,407.5 65,400 C67.5,392.5 87.5,385.0 100,385 C112.5,385.0 125.0,402.5 140,400 C155.0,397.5 173.3,374.2 190,370 C206.7,365.8 228.0,372.5 240,375 C252.0,377.5 257.0,392.5 262,385 C267.0,377.5 267.8,350.8 270,330 C272.2,309.2 273.3,281.7 275,260 C276.7,238.3 274.2,213.7 280,200 C285.8,186.3 300.0,180.5 310,178 C320.0,175.5 330.8,178.8 340,185 C349.2,191.2 355.0,206.7 365,215 C375.0,223.3 389.2,235.8 400,235 C410.8,234.2 420.8,215.0 430,210 C439.2,205.0 450.0,213.3 455,205 C460.0,196.7 462.5,174.2 460,160 C457.5,145.8 449.2,131.7 440,120 C430.8,108.3 408.3,98.3 405,90 Z" fill="#50FFAF"/>
<ellipse cx="413" cy="412" rx="32" ry="30" fill="#50FFAF"/>
<path d="M-40,600 C-33.3,590.0 -11.7,601.7 0,605 C11.7,608.3 16.7,620.8 30,620 C43.3,619.2 63.3,598.3 80,600 C96.7,601.7 115.0,625.8 130,630 C145.0,634.2 156.7,625.8 170,625 C183.3,624.2 196.7,619.2 210,625 C223.3,630.8 235.0,650.8 250,660 C265.0,669.2 285.8,673.3 300,680 C314.2,686.7 331.7,690.0 335,700 C338.3,710.0 327.5,730.8 320,740 C312.5,749.2 304.2,751.7 290,755 C275.8,758.3 250.0,764.2 235,760 C220.0,755.8 210.8,738.3 200,730 C189.2,721.7 181.7,715.0 170,710 C158.3,705.0 144.2,699.2 130,700 C115.8,700.8 100.0,716.7 85,715 C70.0,713.3 54.2,697.5 40,690 C25.8,682.5 13.3,674.2 0,670 C-13.3,665.8 -33.3,676.7 -40,665 C-46.7,653.3 -46.7,610.0 -40,600 Z" fill="#80FF80"/>
<path d="M496,751 C493.5,757.7 490.2,771.0 491,781 C491.8,791.0 496.8,803.2 501,811 C505.2,818.8 511.5,828.0 516,828 C520.5,828.0 524.7,818.8 528,811 C531.3,803.2 536.0,790.2 536,781 C536.0,771.8 533.0,762.7 528,756 C523.0,749.3 511.3,741.8 506,741 C500.7,740.2 498.5,744.3 496,751 Z" fill="#80FF80"/>
<path d="M636,588 C631.8,593.7 628.5,605.5 621,616 C613.5,626.5 597.7,640.2 591,651 C584.3,661.8 580.2,671.0 581,681 C581.8,691.0 589.3,704.0 596,711 C602.7,718.0 612.7,723.0 621,723 C629.3,723.0 639.3,717.2 646,711 C652.7,704.8 659.0,700.2 661,686 C663.0,671.8 659.3,641.0 658,626 C656.7,611.0 655.0,603.3 653,596 C651.0,588.7 648.8,583.3 646,582 C643.2,580.7 640.2,582.3 636,588 Z" fill="#80FF80"/>
<path d="M698,628 C699.7,619.7 713.0,608.0 721,601 C729.0,594.0 736.8,588.2 746,586 C755.2,583.8 768.5,582.2 776,588 C783.5,593.8 785.7,608.8 791,621 C796.3,633.2 803.0,651.5 808,661 C813.0,670.5 816.3,677.2 821,678 C825.7,678.8 831.0,673.0 836,666 C841.0,659.0 846.0,644.3 851,636 C856.0,627.7 861.0,620.8 866,616 C871.0,611.2 875.2,607.8 881,607 C886.8,606.2 895.2,607.8 901,611 C906.8,614.2 911.8,618.5 916,626 C920.2,633.5 921.8,646.0 926,656 C930.2,666.0 937.7,677.7 941,686 C944.3,694.3 947.7,699.8 946,706 C944.3,712.2 936.0,720.2 931,723 C926.0,725.8 919.8,725.8 916,723 C912.2,720.2 910.5,711.8 908,706 C905.5,700.2 904.7,691.8 901,688 C897.3,684.2 891.8,682.5 886,683 C880.2,683.5 871.5,686.3 866,691 C860.5,695.7 855.5,704.3 853,711 C850.5,717.7 850.5,726.0 851,731 C851.5,736.0 851.0,739.5 856,741 C861.0,742.5 873.5,740.8 881,740 C888.5,739.2 895.7,735.0 901,736 C906.3,737.0 909.7,739.3 913,746 C916.3,752.7 920.2,767.7 921,776 C921.8,784.3 921.3,792.7 918,796 C914.7,799.3 907.2,795.7 901,796 C894.8,796.3 886.8,795.5 881,798 C875.2,800.5 869.0,805.5 866,811 C863.0,816.5 862.7,823.5 863,831 C863.3,838.5 866.7,847.7 868,856 C869.3,864.3 870.2,865.3 871,881 C871.8,896.7 878.0,938.5 873,950 C868.0,961.5 847.2,958.7 841,950 C834.8,941.3 839.3,911.2 836,898 C832.7,884.8 825.7,880.5 821,871 C816.3,861.5 810.5,851.0 808,841 C805.5,831.0 804.7,818.5 806,811 C807.3,803.5 811.8,801.0 816,796 C820.2,791.0 828.2,788.5 831,781 C833.8,773.5 833.0,760.7 833,751 C833.0,741.3 833.8,728.0 831,723 C828.2,718.0 822.7,720.2 816,721 C809.3,721.8 799.3,726.8 791,728 C782.7,729.2 773.5,730.0 766,728 C758.5,726.0 752.7,723.0 746,716 C739.3,709.0 731.8,696.8 726,686 C720.2,675.2 715.7,660.7 711,651 C706.3,641.3 696.3,636.3 698,628 Z" fill="#80FF80"/>
<path d="M405,950 C386.7,936.7 402.3,887.3 405,870 C407.7,852.7 414.2,846.7 421,846 C427.8,845.3 437.7,864.3 446,866 C454.3,867.7 462.7,854.3 471,856 C479.3,857.7 489.3,868.5 496,876 C502.7,883.5 507.8,888.7 511,901 C514.2,913.3 532.7,941.8 515,950 C497.3,958.2 423.3,963.3 405,950 Z" fill="#80FF80"/>
<path d="M526,950 C507.3,936.8 521.3,889.2 528,871 C534.7,852.8 554.7,844.3 566,841 C577.3,837.7 588.5,844.3 596,851 C603.5,857.7 604.3,872.7 611,881 C617.7,889.3 631.2,889.5 636,901 C640.8,912.5 658.3,941.8 640,950 C621.7,958.2 544.7,963.2 526,950 Z" fill="#80FF80"/>
<path d="M713,950 C702.3,933.5 712.7,867.5 716,851 C719.3,834.5 727.2,846.0 733,851 C738.8,856.0 743.8,872.7 751,881 C758.2,889.3 771.2,889.5 776,901 C780.8,912.5 790.5,941.8 780,950 C769.5,958.2 723.7,966.5 713,950 Z" fill="#80FF80"/>
<ellipse cx="588" cy="754" rx="29" ry="21" fill="#18FFE7" transform="rotate(10 588 754)"/>
<ellipse cx="563" cy="627" rx="13" ry="23" fill="#18FFE7" transform="rotate(-5 563 627)"/>
<ellipse cx="848" cy="565" rx="10" ry="15" fill="#18FFE7" transform="rotate(-10 848 565)"/>
<ellipse cx="887" cy="646" rx="7" ry="8" fill="#EFFF10"/>
<ellipse cx="441" cy="898" rx="12" ry="8" fill="#18FFE7"/>
<path d="M298,225 C301.3,215.0 312.2,210.8 320,210 C327.8,209.2 337.5,212.5 345,220 C352.5,227.5 364.2,244.2 365,255 C365.8,265.8 357.5,277.5 350,285 C342.5,292.5 328.3,302.5 320,300 C311.7,297.5 303.7,282.5 300,270 C296.3,257.5 294.7,235.0 298,225 Z" fill="#18FFE7"/>
<ellipse cx="503" cy="247" rx="20" ry="25" fill="#18FFE7"/>
<ellipse cx="241" cy="500" rx="9" ry="25" fill="#18FFE7" transform="rotate(20 241 500)"/>
<ellipse cx="262" cy="415" rx="5" ry="10" fill="#BFFF40"/>
<ellipse cx="404" cy="325" rx="5" ry="5" fill="#BFFF40"/>
<ellipse cx="370" cy="130" rx="3" ry="5" fill="#000000"/>
<ellipse cx="372" cy="731" rx="8" ry="10" fill="#50FFAF"/>
<ellipse cx="578" cy="55" rx="32" ry="14" fill="#50FFAF" transform="rotate(-50 578 55)"/>
<path d="M645,35 C649.2,28.8 667.5,26.7 680,25 C692.5,23.3 714.2,20.8 720,25 C725.8,29.2 720.0,44.2 715,50 C710.0,55.8 700.0,58.0 690,60 C680.0,62.0 662.5,66.2 655,62 C647.5,57.8 640.8,41.2 645,35 Z" fill="#50FFAF"/>
<path d="M648,85 C650.5,86.7 653.0,103.3 660,110 C667.0,116.7 683.3,119.2 690,125 C696.7,130.8 701.7,141.2 700,145 C698.3,148.8 687.5,151.3 680,148 C672.5,144.7 660.8,133.0 655,125 C649.2,117.0 646.2,106.7 645,100 C643.8,93.3 645.5,83.3 648,85 Z" fill="#50FFAF"/>
<ellipse cx="737" cy="98" rx="10" ry="9" fill="#50FFAF"/>
<ellipse cx="828" cy="55" rx="20" ry="9" fill="#50FFAF" transform="rotate(20 828 55)"/>
<path d="M832,135 C834.5,129.2 840.3,124.2 850,125 C859.7,125.8 880.0,134.2 890,140 C900.0,145.8 908.3,153.7 910,160 C911.7,166.3 908.3,176.0 900,178 C891.7,180.0 870.8,175.0 860,172 C849.2,169.0 839.7,166.2 835,160 C830.3,153.8 829.5,140.8 832,135 Z" fill="#50FFAF"/>
<ellipse cx="970" cy="135" rx="8" ry="22" fill="#50FFAF" transform="rotate(-10 970 135)"/>
<ellipse cx="945" cy="225" rx="11" ry="30" fill="#50FFAF" transform="rotate(-25 945 225)"/>
<ellipse cx="898" cy="232" rx="5" ry="9" fill="#BFFF40"/>
<ellipse cx="957" cy="313" rx="5" ry="12" fill="#50FFAF" transform="rotate(10 957 313)"/>
<ellipse cx="848" cy="405" rx="7" ry="7" fill="#BFFF40"/>
<ellipse cx="33" cy="330" rx="12" ry="10" fill="#BFFF40"/>
<ellipse cx="740" cy="198" rx="45" ry="48" fill="#50FFAF"/>
<ellipse cx="740" cy="198" rx="25" ry="27" fill="#18FFE7"/>
<path d="M772,255 C773.7,247.0 791.2,242.8 800,242 C808.8,241.2 820.8,242.0 825,250 C829.2,258.0 820.8,280.0 825,290 C829.2,300.0 840.0,305.0 850,310 C860.0,315.0 877.8,315.0 885,320 C892.2,325.0 895.5,333.3 893,340 C890.5,346.7 879.7,356.7 870,360 C860.3,363.3 845.0,365.0 835,360 C825.0,355.0 817.5,341.7 810,330 C802.5,318.3 796.3,302.5 790,290 C783.7,277.5 770.3,263.0 772,255 Z" fill="#50FFAF"/>
<ellipse cx="665" cy="415" rx="36" ry="45" fill="#50FFAF"/>
<ellipse cx="666" cy="415" rx="13" ry="18" fill="#18FFE7"/>
</g></g>
<g class="f" clip-path="url(#c4)"><g transform="translate(156,252) scale(0.102082)">
<path d="M-20,-20 L1030,-20 L1030,920 L-20,920 Z" fill="#50FFAF"/>
<path d="M-20,-20 L60,-20 L62,300 L66,600 L76,920 L-20,920 Z" fill="#80FF80"/>
<path d="M222,-20 C149.0,-12.5 224.0,12.5 222,25 C220.0,37.5 207.0,34.2 210,55 C213.0,75.8 232.5,118.3 240,150 C247.5,181.7 261.7,223.3 255,245 C248.3,266.7 213.8,265.8 200,280 C186.2,294.2 177.8,310.0 172,330 C166.2,350.0 168.7,371.7 165,400 C161.3,428.3 156.2,466.7 150,500 C143.8,533.3 132.2,577.5 128,600 C123.8,622.5 121.3,633.3 125,635 C128.7,636.7 139.2,630.8 150,610 C160.8,589.2 177.5,543.3 190,510 C202.5,476.7 215.0,432.5 225,410 C235.0,387.5 237.5,384.2 250,375 C262.5,365.8 284.2,360.0 300,355 C315.8,350.0 328.3,345.8 345,345 C361.7,344.2 383.3,352.5 400,350 C416.7,347.5 433.3,340.8 445,330 C456.7,319.2 464.5,306.7 470,285 C475.5,263.3 473.0,230.0 478,200 C483.0,170.0 481.3,126.7 500,105 C518.7,83.3 568.3,82.5 590,70 C611.7,57.5 618.3,45.0 630,30 C641.7,15.0 728.0,-11.7 660,-20 C592.0,-28.3 295.0,-27.5 222,-20 Z" fill="#80FF80"/>
<path d="M365,-20 C352.7,-6.7 373.5,38.3 378,60 C382.5,81.7 392.0,95.0 392,110 C392.0,125.0 384.7,135.0 378,150 C371.3,165.0 358.3,183.3 352,200 C345.7,216.7 347.0,237.5 340,250 C333.0,262.5 323.3,268.3 310,275 C296.7,281.7 275.0,284.2 260,290 C245.0,295.8 227.5,300.8 220,310 C212.5,319.2 212.5,335.8 215,345 C217.5,354.2 224.2,362.5 235,365 C245.8,367.5 262.5,364.2 280,360 C297.5,355.8 316.7,346.7 340,340 C363.3,333.3 402.5,328.3 420,320 C437.5,311.7 439.7,310.0 445,290 C450.3,270.0 452.5,231.7 452,200 C451.5,168.3 442.0,136.7 442,100 C442.0,63.3 464.8,0.0 452,-20 C439.2,-40.0 377.3,-33.3 365,-20 Z" fill="#BFFF40"/>
<path d="M410,135 C417.5,133.3 425.7,154.2 430,170 C434.3,185.8 437.7,211.7 436,230 C434.3,248.3 428.5,268.8 420,280 C411.5,291.2 396.7,296.2 385,297 C373.3,297.8 356.7,291.2 350,285 C343.3,278.8 342.5,270.0 345,260 C347.5,250.0 358.3,238.3 365,225 C371.7,211.7 377.5,195.0 385,180 C392.5,165.0 402.5,136.7 410,135 Z" fill="#EFFF10"/>
<path d="M700,-20 C644.2,-10.0 666.7,21.7 650,40 C633.3,58.3 621.7,75.0 600,90 C578.3,105.0 538.0,111.7 520,130 C502.0,148.3 500.3,171.7 492,200 C483.7,228.3 468.7,278.3 470,300 C471.3,321.7 485.0,331.7 500,330 C515.0,328.3 540.0,305.0 560,290 C580.0,275.0 596.7,250.8 620,240 C643.3,229.2 671.7,225.8 700,225 C728.3,224.2 766.7,224.2 790,235 C813.3,245.8 821.7,277.5 840,290 C858.3,302.5 880.0,310.0 900,310 C920.0,310.0 938.3,297.0 960,290 C981.7,283.0 1018.3,301.3 1030,268 C1041.7,234.7 1035.0,128.0 1030,90 C1025.0,52.0 1007.5,58.3 1000,40 C992.5,21.7 1035.0,-10.0 985,-20 C935.0,-30.0 755.8,-30.0 700,-20 Z" fill="#18FFE7"/>
<path d="M405,625 C391.7,616.7 394.2,604.2 400,580 C405.8,555.8 423.3,506.7 440,480 C456.7,453.3 480.0,443.3 500,420 C520.0,396.7 541.7,361.7 560,340 C578.3,318.3 590.0,300.0 610,290 C630.0,280.0 655.0,280.8 680,280 C705.0,279.2 740.0,275.0 760,285 C780.0,295.0 788.3,319.2 800,340 C811.7,360.8 821.7,395.0 830,410 C838.3,425.0 838.3,433.3 850,430 C861.7,426.7 881.7,403.3 900,390 C918.3,376.7 938.3,358.7 960,350 C981.7,341.3 1018.3,313.8 1030,338 C1041.7,362.2 1045.0,464.7 1030,495 C1015.0,525.3 964.2,514.2 940,520 C915.8,525.8 896.7,532.5 885,530 C873.3,527.5 877.5,506.7 870,505 C862.5,503.3 855.0,509.2 840,520 C825.0,530.8 803.3,555.0 780,570 C756.7,585.0 726.7,600.8 700,610 C673.3,619.2 643.3,620.0 620,625 C596.7,630.0 583.3,639.2 560,640 C536.7,640.8 505.8,632.5 480,630 C454.2,627.5 418.3,633.3 405,625 Z" fill="#80FF80"/>
<path d="M575,420 C578.3,400.0 585.8,374.2 600,360 C614.2,345.8 638.3,337.5 660,335 C681.7,332.5 711.7,334.2 730,345 C748.3,355.8 762.5,380.8 770,400 C777.5,419.2 780.0,441.7 775,460 C770.0,478.3 755.8,498.3 740,510 C724.2,521.7 701.7,524.2 680,530 C658.3,535.8 624.2,546.7 610,545 C595.8,543.3 600.0,530.8 595,520 C590.0,509.2 583.3,496.7 580,480 C576.7,463.3 571.7,440.0 575,420 Z" fill="#BFFF40"/>
<path d="M440,540 C443.3,526.7 463.3,520.0 480,510 C496.7,500.0 522.5,481.7 540,480 C557.5,478.3 575.0,490.0 585,500 C595.0,510.0 602.5,526.7 600,540 C597.5,553.3 583.3,570.0 570,580 C556.7,590.0 538.3,598.3 520,600 C501.7,601.7 473.3,600.0 460,590 C446.7,580.0 436.7,553.3 440,540 Z" fill="#BFFF40"/>
<ellipse cx="670" cy="428" rx="42" ry="45" fill="#EFFF10"/>
<path d="M1030,395 C1023.3,381.2 1003.3,390.8 990,395 C976.7,399.2 957.5,410.8 950,420 C942.5,429.2 942.5,440.8 945,450 C947.5,459.2 950.8,470.3 965,475 C979.2,479.7 1019.2,491.3 1030,478 C1040.8,464.7 1036.7,408.8 1030,395 Z" fill="#BFFF40"/>
<ellipse cx="248" cy="143" rx="108" ry="98" fill="#18FFE7"/>
<ellipse cx="275" cy="143" rx="70" ry="84" fill="#00DFFF" stroke-width="0.7"/>
<ellipse cx="280" cy="142" rx="52" ry="66" fill="#009FFF" stroke-width="0.7"/>
<ellipse cx="276" cy="140" rx="33" ry="46" fill="#0060FF" stroke-width="0.7"/>
<path d="M320,90 C322.2,90.0 340.3,113.3 345,130 C349.7,146.7 350.5,174.2 348,190 C345.5,205.8 332.2,226.7 330,225 C327.8,223.3 334.7,195.8 335,180 C335.3,164.2 334.5,145.0 332,130 C329.5,115.0 317.8,90.0 320,90 Z" fill="#000000"/>
<ellipse cx="330" cy="488" rx="90" ry="128" fill="#18FFE7"/>
<ellipse cx="332" cy="488" rx="76" ry="110" fill="#00DFFF" stroke-width="0.7"/>
<ellipse cx="334" cy="488" rx="62" ry="91" fill="#0060FF" stroke-width="0.7"/>
<ellipse cx="336" cy="488" rx="48" ry="72" fill="#0030FF" stroke-width="0.7"/>
<ellipse cx="336" cy="487" rx="34" ry="53" fill="#0000BF" stroke-width="0.7"/>
<ellipse cx="335" cy="485" rx="20" ry="34" fill="#0030FF" stroke-width="0.7"/>
<path d="M395,400 C397.7,396.7 413.5,430.0 418,450 C422.5,470.0 424.2,498.3 422,520 C419.8,541.7 411.2,565.0 405,580 C398.8,595.0 385.8,616.7 385,610 C384.2,603.3 397.2,563.3 400,540 C402.8,516.7 402.8,493.3 402,470 C401.2,446.7 392.3,403.3 395,400 Z" fill="#000000"/>
<path d="M262,400 C267.0,388.3 273.7,377.0 285,370 C296.3,363.0 327.5,355.5 330,358 C332.5,360.5 309.2,373.0 300,385 C290.8,397.0 281.3,414.2 275,430 C268.7,445.8 265.3,478.3 262,480 C258.7,481.7 255.0,453.3 255,440 C255.0,426.7 257.0,411.7 262,400 Z" fill="#000000"/>
<path d="M660,-20 C628.3,0.0 660.0,68.3 665,100 C670.0,131.7 677.5,154.2 690,170 C702.5,185.8 723.3,193.3 740,195 C756.7,196.7 775.0,192.5 790,180 C805.0,167.5 820.0,143.3 830,120 C840.0,96.7 845.8,63.3 850,40 C854.2,16.7 886.7,-10.0 855,-20 C823.3,-30.0 691.7,-40.0 660,-20 Z" fill="#00DFFF"/>
<path d="M705,120 C705.8,103.3 710.8,76.7 720,60 C729.2,43.3 748.3,27.5 760,20 C771.7,12.5 785.0,8.3 790,15 C795.0,21.7 793.3,42.5 790,60 C786.7,77.5 778.3,102.5 770,120 C761.7,137.5 749.2,158.3 740,165 C730.8,171.7 720.8,167.5 715,160 C709.2,152.5 704.2,136.7 705,120 Z" fill="#009FFF"/>
<ellipse cx="858" cy="142" rx="20" ry="28" fill="#50FFAF"/>
<ellipse cx="545" cy="232" rx="28" ry="45" fill="#00DFFF" transform="rotate(35 545 232)"/>
<ellipse cx="908" cy="230" rx="28" ry="55" fill="#00DFFF" transform="rotate(50 908 230)"/>
<path d="M225,620 C240.8,610.0 274.2,630.0 300,640 C325.8,650.0 363.3,660.0 380,680 C396.7,700.0 396.7,720.0 400,760 C403.3,800.0 440.0,893.3 400,920 C360.0,946.7 196.7,940.0 160,920 C123.3,900.0 172.5,836.7 180,800 C187.5,763.3 197.5,730.0 205,700 C212.5,670.0 209.2,630.0 225,620 Z" fill="#80FF80"/>
<path d="M255,680 C265.0,680.0 284.2,703.3 300,720 C315.8,736.7 337.5,761.7 350,780 C362.5,798.3 371.7,806.7 375,830 C378.3,853.3 396.7,905.0 370,920 C343.3,935.0 239.2,940.0 215,920 C190.8,900.0 220.8,833.3 225,800 C229.2,766.7 235.0,740.0 240,720 C245.0,700.0 245.0,680.0 255,680 Z" fill="#BFFF40"/>
<path d="M235,920 C223.3,911.7 245.8,882.5 260,870 C274.2,857.5 308.3,836.7 320,845 C331.7,853.3 344.2,907.5 330,920 C315.8,932.5 246.7,928.3 235,920 Z" fill="#EFFF10"/>
<path d="M445,700 C455.0,680.8 474.2,688.3 500,685 C525.8,681.7 571.7,677.5 600,680 C628.3,682.5 653.3,686.7 670,700 C686.7,713.3 698.3,738.3 700,760 C701.7,781.7 690.0,803.3 680,830 C670.0,856.7 681.7,905.0 640,920 C598.3,935.0 463.3,940.0 430,920 C396.7,900.0 437.5,836.7 440,800 C442.5,763.3 435.0,719.2 445,700 Z" fill="#18FFE7"/>
<path d="M470,920 C450.0,900.0 471.7,831.7 480,800 C488.3,768.3 501.7,746.7 520,730 C538.3,713.3 568.3,701.7 590,700 C611.7,698.3 637.5,705.0 650,720 C662.5,735.0 666.7,766.7 665,790 C663.3,813.3 650.8,838.3 640,860 C629.2,881.7 628.3,910.0 600,920 C571.7,930.0 490.0,940.0 470,920 Z" fill="#00DFFF"/>
<ellipse cx="580" cy="800" rx="60" ry="78" fill="#009FFF" transform="rotate(20 580 800)"/>
<ellipse cx="585" cy="788" rx="20" ry="22" fill="#0060FF"/>
<path d="M660,920 C615.0,900.0 686.7,830.0 700,800 C713.3,770.0 731.7,763.3 740,740 C748.3,716.7 740.0,673.3 750,660 C760.0,646.7 788.3,650.0 800,660 C811.7,670.0 811.7,701.7 820,720 C828.3,738.3 835.8,753.3 850,770 C864.2,786.7 886.7,798.3 905,820 C923.3,841.7 949.2,883.3 960,900 C970.8,916.7 1020.0,916.7 970,920 C920.0,923.3 705.0,940.0 660,920 Z" fill="#80FF80"/>
<path d="M685,920 C650.8,906.7 705.8,861.7 720,840 C734.2,818.3 754.2,797.5 770,790 C785.8,782.5 798.3,786.7 815,795 C831.7,803.3 851.7,819.2 870,840 C888.3,860.8 955.8,906.7 925,920 C894.2,933.3 719.2,933.3 685,920 Z" fill="#BFFF40"/>
<path d="M712,920 C689.2,907.0 735.8,858.7 748,842 C760.2,825.3 772.2,819.5 785,820 C797.8,820.5 808.3,828.3 825,845 C841.7,861.7 903.8,907.5 885,920 C866.2,932.5 734.8,933.0 712,920 Z" fill="#EFFF10"/>
<path d="M738,920 C724.3,910.3 757.3,872.0 768,862 C778.7,852.0 788.3,850.3 802,860 C815.7,869.7 860.7,910.0 850,920 C839.3,930.0 751.7,929.7 738,920 Z" fill="#FFCF00"/>
<path d="M765,920 C758.8,915.0 777.5,894.2 785,890 C792.5,885.8 803.8,890.0 810,895 C816.2,900.0 829.5,915.8 822,920 C814.5,924.2 771.2,925.0 765,920 Z" fill="#FF9F00"/>
<path d="M870,740 C870.0,720.0 886.7,700.0 900,680 C913.3,660.0 928.3,635.8 950,620 C971.7,604.2 1016.7,548.3 1030,585 C1043.3,621.7 1041.7,799.2 1030,840 C1018.3,880.8 981.7,836.7 960,830 C938.3,823.3 915.0,815.0 900,800 C885.0,785.0 870.0,760.0 870,740 Z" fill="#18FFE7"/>
<path d="M930,760 C928.3,741.7 933.3,710.0 950,690 C966.7,670.0 1016.7,619.2 1030,640 C1043.3,660.8 1041.7,788.3 1030,815 C1018.3,841.7 976.7,809.2 960,800 C943.3,790.8 931.7,778.3 930,760 Z" fill="#00DFFF"/>
</g></g>
<g class="f" clip-path="url(#c5)"><g transform="translate(259,252) scale(0.102082)">
<path d="M-20,-20 L1030,-20 L1030,920 L-20,920 Z" fill="#50FFAF"/>
<path d="M705,-20 C652.0,0.0 710.3,63.3 712,100 C713.7,136.7 713.7,166.7 715,200 C716.3,233.3 717.5,270.0 720,300 C722.5,330.0 716.7,360.0 730,380 C743.3,400.0 776.7,406.7 800,420 C823.3,433.3 846.7,446.7 870,460 C893.3,473.3 920.0,485.8 940,500 C960.0,514.2 975.0,530.0 990,545 C1005.0,560.0 1023.3,684.2 1030,590 C1036.7,495.8 1084.2,81.7 1030,-20 C975.8,-121.7 758.0,-40.0 705,-20 Z" fill="#80FF80"/>
<path d="M815,-20 C799.2,0.0 814.2,63.3 820,100 C825.8,136.7 836.7,171.7 850,200 C863.3,228.3 881.7,255.0 900,270 C918.3,285.0 938.3,282.5 960,290 C981.7,297.5 1018.3,351.7 1030,315 C1041.7,278.3 1041.7,117.5 1030,70 C1018.3,22.5 979.2,45.0 960,30 C940.8,15.0 939.2,-11.7 915,-20 C890.8,-28.3 830.8,-40.0 815,-20 Z" fill="#50FFAF"/>
<path d="M330,70 C334.2,62.0 345.0,54.5 360,52 C375.0,49.5 403.3,50.3 420,55 C436.7,59.7 449.2,69.2 460,80 C470.8,90.8 480.3,100.0 485,120 C489.7,140.0 489.7,180.0 488,200 C486.3,220.0 481.3,232.5 475,240 C468.7,247.5 458.3,250.0 450,245 C441.7,240.0 433.3,224.2 425,210 C416.7,195.8 410.8,175.0 400,160 C389.2,145.0 370.8,130.0 360,120 C349.2,110.0 340.0,108.3 335,100 C330.0,91.7 325.8,78.0 330,70 Z" fill="#80FF80"/>
<path d="M205,95 C208.3,89.2 226.7,87.5 235,95 C243.3,102.5 255.0,120.8 255,140 C255.0,159.2 236.7,188.3 235,210 C233.3,231.7 235.8,248.3 245,270 C254.2,291.7 280.8,318.3 290,340 C299.2,361.7 299.2,382.5 300,400 C300.8,417.5 301.7,443.3 295,445 C288.3,446.7 275.8,427.5 260,410 C244.2,392.5 217.5,361.7 200,340 C182.5,318.3 163.3,300.0 155,280 C146.7,260.0 144.2,238.3 150,220 C155.8,201.7 179.2,185.0 190,170 C200.8,155.0 212.5,142.5 215,130 C217.5,117.5 201.7,100.8 205,95 Z" fill="#80FF80"/>
<path d="M115,-20 C103.3,-15.0 108.3,4.7 120,10 C131.7,15.3 173.3,17.0 185,12 C196.7,7.0 201.7,-14.7 190,-20 C178.3,-25.3 126.7,-25.0 115,-20 Z" fill="#80FF80"/>
<path d="M575,195 C581.2,186.7 603.7,182.5 612,190 C620.3,197.5 623.7,223.3 625,240 C626.3,256.7 625.0,282.5 620,290 C615.0,297.5 602.5,293.3 595,285 C587.5,276.7 578.3,255.0 575,240 C571.7,225.0 568.8,203.3 575,195 Z" fill="#18FFE7"/>
<path d="M-20,85 C-16.7,54.2 -7.5,84.2 0,90 C7.5,95.8 16.7,105.0 25,120 C33.3,135.0 47.5,161.7 50,180 C52.5,198.3 48.3,215.0 40,230 C31.7,245.0 10.0,262.5 0,270 C-10.0,277.5 -16.7,305.8 -20,275 C-23.3,244.2 -23.3,115.8 -20,85 Z" fill="#18FFE7"/>
<path d="M-20,340 C-15.0,311.7 3.0,345.0 10,360 C17.0,375.0 21.2,406.7 22,430 C22.8,453.3 22.0,483.3 15,500 C8.0,516.7 -14.2,556.7 -20,530 C-25.8,503.3 -25.0,368.3 -20,340 Z" fill="#80FF80"/>
<path d="M-20,590 C-16.7,535.0 -10.0,595.0 0,590 C10.0,585.0 34.2,575.0 40,560 C45.8,545.0 38.3,521.7 35,500 C31.7,478.3 19.2,456.7 20,430 C20.8,403.3 30.0,362.5 40,340 C50.0,317.5 65.0,298.3 80,295 C95.0,291.7 111.7,305.8 130,320 C148.3,334.2 173.3,355.0 190,380 C206.7,405.0 219.2,438.3 230,470 C240.8,501.7 245.0,546.7 255,570 C265.0,593.3 275.8,606.7 290,610 C304.2,613.3 323.3,608.3 340,590 C356.7,571.7 380.0,520.0 390,500 C400.0,480.0 401.7,486.7 400,470 C398.3,453.3 385.8,421.7 380,400 C374.2,378.3 361.7,354.2 365,340 C368.3,325.8 385.8,320.0 400,315 C414.2,310.0 433.3,304.2 450,310 C466.7,315.8 483.3,331.7 500,350 C516.7,368.3 536.7,396.7 550,420 C563.3,443.3 570.0,473.3 580,490 C590.0,506.7 598.3,518.3 610,520 C621.7,521.7 636.7,510.0 650,500 C663.3,490.0 675.0,467.5 690,460 C705.0,452.5 721.7,450.0 740,455 C758.3,460.0 781.7,479.2 800,490 C818.3,500.8 831.7,510.8 850,520 C868.3,529.2 897.5,535.0 910,545 C922.5,555.0 925.8,564.2 925,580 C924.2,595.8 906.7,616.7 905,640 C903.3,663.3 917.5,702.5 915,720 C912.5,737.5 904.2,743.3 890,745 C875.8,746.7 851.7,735.8 830,730 C808.3,724.2 783.3,720.0 760,710 C736.7,700.0 711.7,683.3 690,670 C668.3,656.7 646.7,631.7 630,630 C613.3,628.3 608.3,646.7 590,660 C571.7,673.3 541.7,693.3 520,710 C498.3,726.7 476.7,740.0 460,760 C443.3,780.0 431.7,803.3 420,830 C408.3,856.7 463.3,905.0 390,920 C316.7,935.0 48.3,975.0 -20,920 C-88.3,865.0 -23.3,645.0 -20,590 Z" fill="#18FFE7"/>
<path d="M-20,650 C-9.2,610.0 30.0,681.7 45,680 C60.0,678.3 57.5,658.3 70,640 C82.5,621.7 115.0,591.7 120,570 C125.0,548.3 106.7,531.7 100,510 C93.3,488.3 81.7,461.7 80,440 C78.3,418.3 81.7,393.3 90,380 C98.3,366.7 116.7,358.3 130,360 C143.3,361.7 160.8,371.7 170,390 C179.2,408.3 180.0,441.7 185,470 C190.0,498.3 192.5,535.0 200,560 C207.5,585.0 218.3,603.3 230,620 C241.7,636.7 250.0,652.5 270,660 C290.0,667.5 316.7,663.7 350,665 C383.3,666.3 455.0,652.2 470,668 C485.0,683.8 451.7,729.7 440,760 C428.3,790.3 411.7,823.3 400,850 C388.3,876.7 440.0,908.3 370,920 C300.0,931.7 45.0,965.0 -20,920 C-85.0,875.0 -30.8,690.0 -20,650 Z" fill="#00DFFF"/>
<path d="M465,410 C471.7,405.0 489.2,410.0 500,420 C510.8,430.0 522.0,450.0 530,470 C538.0,490.0 545.5,518.3 548,540 C550.5,561.7 553.0,581.7 545,600 C537.0,618.3 512.5,640.0 500,650 C487.5,660.0 478.3,668.3 470,660 C461.7,651.7 452.5,623.3 450,600 C447.5,576.7 453.3,545.0 455,520 C456.7,495.0 458.3,468.3 460,450 C461.7,431.7 458.3,415.0 465,410 Z" fill="#00DFFF"/>
<ellipse cx="765" cy="605" rx="27" ry="37" fill="#00DFFF"/>
<ellipse cx="137" cy="460" rx="15" ry="28" fill="#009FFF" transform="rotate(-10 137 460)"/>
<ellipse cx="235" cy="725" rx="14" ry="55" fill="#009FFF" transform="rotate(-30 235 725)"/>
<path d="M-20,795 C-6.7,770.8 35.0,780.8 60,775 C85.0,769.2 106.7,755.8 130,760 C153.3,764.2 178.3,783.3 200,800 C221.7,816.7 243.3,840.0 260,860 C276.7,880.0 346.7,910.0 300,920 C253.3,930.0 33.3,940.8 -20,920 C-73.3,899.2 -33.3,819.2 -20,795 Z" fill="#18FFE7"/>
<path d="M80,920 C57.5,908.3 125.0,858.3 150,850 C175.0,841.7 207.5,858.3 230,870 C252.5,881.7 310.0,911.7 285,920 C260.0,928.3 102.5,931.7 80,920 Z" fill="#50FFAF"/>
<path d="M150,920 C145.0,914.2 170.0,885.0 180,885 C190.0,885.0 215.0,914.2 210,920 C205.0,925.8 155.0,925.8 150,920 Z" fill="#80FF80"/>
<path d="M440,920 C351.7,905.0 456.7,855.0 470,830 C483.3,805.0 500.0,785.0 520,770 C540.0,755.0 563.3,740.0 590,740 C616.7,740.0 648.3,761.7 680,770 C711.7,778.3 746.7,785.0 780,790 C813.3,795.0 850.0,795.0 880,800 C910.0,805.0 941.7,811.7 960,820 C978.3,828.3 983.3,833.3 990,850 C996.7,866.7 1091.7,908.3 1000,920 C908.3,931.7 528.3,935.0 440,920 Z" fill="#80FF80"/>
<path d="M470,920 C400.0,908.3 488.3,870.0 500,850 C511.7,830.0 525.0,810.0 540,800 C555.0,790.0 571.7,786.7 590,790 C608.3,793.3 628.3,811.7 650,820 C671.7,828.3 695.0,835.0 720,840 C745.0,845.0 770.0,843.3 800,850 C830.0,856.7 880.0,868.3 900,880 C920.0,891.7 991.7,913.3 920,920 C848.3,926.7 540.0,931.7 470,920 Z" fill="#BFFF40"/>
<path d="M510,920 C490.8,911.7 519.2,882.0 530,870 C540.8,858.0 560.0,849.7 575,848 C590.0,846.3 608.3,848.0 620,860 C631.7,872.0 663.3,910.0 645,920 C626.7,930.0 529.2,928.3 510,920 Z" fill="#EFFF10"/>
</g></g>
<g class="f" clip-path="url(#c6)"><g transform="translate(156,344) scale(0.102082)">
<path d="M-20,-20 L1030,-20 L1030,920 L-20,920 Z" fill="#80FF80"/>
<path d="M75,-20 C62.2,-6.7 74.7,38.3 78,60 C81.3,81.7 88.8,105.0 95,110 C101.2,115.0 107.5,103.3 115,90 C122.5,76.7 133.3,48.3 140,30 C146.7,11.7 165.8,-11.7 155,-20 C144.2,-28.3 87.8,-33.3 75,-20 Z" fill="#50FFAF"/>
<path d="M195,-20 C168.3,0.0 182.5,63.3 175,100 C167.5,136.7 159.2,158.3 150,200 C140.8,241.7 129.2,300.0 120,350 C110.8,400.0 103.3,455.0 95,500 C86.7,545.0 74.2,586.7 70,620 C65.8,653.3 67.5,684.2 70,700 C72.5,715.8 78.3,721.7 85,715 C91.7,708.3 97.5,680.8 110,660 C122.5,639.2 143.3,609.2 160,590 C176.7,570.8 195.0,560.0 210,545 C225.0,530.0 236.7,517.5 250,500 C263.3,482.5 278.3,460.0 290,440 C301.7,420.0 310.8,403.3 320,380 C329.2,356.7 340.0,330.0 345,300 C350.0,270.0 350.8,233.3 350,200 C349.2,166.7 342.5,136.7 340,100 C337.5,63.3 359.2,0.0 335,-20 C310.8,-40.0 221.7,-40.0 195,-20 Z" fill="#BFFF40"/>
<path d="M225,-20 C209.2,0.0 213.3,55.0 205,100 C196.7,145.0 185.0,200.0 175,250 C165.0,300.0 154.2,358.3 145,400 C135.8,441.7 125.0,474.2 120,500 C115.0,525.8 108.3,547.5 115,555 C121.7,562.5 143.3,554.2 160,545 C176.7,535.8 197.5,517.5 215,500 C232.5,482.5 250.8,461.7 265,440 C279.2,418.3 290.8,393.3 300,370 C309.2,346.7 316.3,328.3 320,300 C323.7,271.7 323.7,233.3 322,200 C320.3,166.7 313.7,136.7 310,100 C306.3,63.3 314.2,0.0 300,-20 C285.8,-40.0 240.8,-40.0 225,-20 Z" fill="#EFFF10"/>
<path d="M268,105 C273.8,110.0 284.7,125.8 290,150 C295.3,174.2 300.8,216.7 300,250 C299.2,283.3 293.3,320.0 285,350 C276.7,380.0 261.7,410.0 250,430 C238.3,450.0 225.0,465.8 215,470 C205.0,474.2 193.3,470.0 190,455 C186.7,440.0 190.8,409.2 195,380 C199.2,350.8 207.5,313.3 215,280 C222.5,246.7 233.3,206.7 240,180 C246.7,153.3 250.3,132.5 255,120 C259.7,107.5 262.2,100.0 268,105 Z" fill="#FFCF00"/>
<path d="M245,300 C251.7,296.7 258.7,308.3 262,320 C265.3,331.7 267.8,355.0 265,370 C262.2,385.0 252.5,401.7 245,410 C237.5,418.3 225.5,423.3 220,420 C214.5,416.7 211.7,403.3 212,390 C212.3,376.7 216.5,355.0 222,340 C227.5,325.0 238.3,303.3 245,300 Z" fill="#FF9F00"/>
<path d="M360,-20 C303.8,0.0 365.0,63.3 368,100 C371.0,136.7 375.2,166.7 378,200 C380.8,233.3 384.7,271.7 385,300 C385.3,328.3 387.5,350.0 380,370 C372.5,390.0 353.3,403.3 340,420 C326.7,436.7 311.7,450.0 300,470 C288.3,490.0 277.5,518.3 270,540 C262.5,561.7 266.7,583.3 255,600 C243.3,616.7 217.5,621.7 200,640 C182.5,658.3 162.5,685.0 150,710 C137.5,735.0 125.0,772.5 125,790 C125.0,807.5 139.2,808.3 150,815 C160.8,821.7 179.2,833.3 190,830 C200.8,826.7 205.0,808.3 215,795 C225.0,781.7 235.8,760.0 250,750 C264.2,740.0 281.7,735.8 300,735 C318.3,734.2 341.7,744.2 360,745 C378.3,745.8 395.0,745.8 410,740 C425.0,734.2 438.3,723.3 450,710 C461.7,696.7 472.5,680.0 480,660 C487.5,640.0 495.8,616.7 495,590 C494.2,563.3 482.2,525.0 475,500 C467.8,475.0 457.8,465.0 452,440 C446.2,415.0 443.7,381.7 440,350 C436.3,318.3 430.0,278.3 430,250 C430.0,221.7 431.7,200.0 440,180 C448.3,160.0 463.3,143.7 480,130 C496.7,116.3 516.7,105.0 540,98 C563.3,91.0 596.7,96.8 620,88 C643.3,79.2 665.8,63.0 680,45 C694.2,27.0 758.3,-9.2 705,-20 C651.7,-30.8 416.2,-40.0 360,-20 Z" fill="#50FFAF"/>
<ellipse cx="185" cy="750" rx="6" ry="14" fill="#000000"/>
<path d="M395,-20 C350.3,0.0 397.8,73.3 402,100 C406.2,126.7 412.0,140.0 420,140 C428.0,140.0 433.3,113.0 450,100 C466.7,87.0 495.0,70.0 520,62 C545.0,54.0 578.3,59.0 600,52 C621.7,45.0 638.3,32.0 650,20 C661.7,8.0 712.5,-13.3 670,-20 C627.5,-26.7 439.7,-40.0 395,-20 Z" fill="#18FFE7"/>
<path d="M470,-20 C450.0,-14.2 498.3,10.0 520,15 C541.7,20.0 580.0,15.8 600,10 C620.0,4.2 661.7,-15.0 640,-20 C618.3,-25.0 490.0,-25.8 470,-20 Z" fill="#00DFFF"/>
<path d="M300,560 C300.8,540.0 301.7,521.7 310,500 C318.3,478.3 335.8,446.7 350,430 C364.2,413.3 381.7,398.3 395,400 C408.3,401.7 420.0,420.0 430,440 C440.0,460.0 449.2,493.3 455,520 C460.8,546.7 467.5,576.7 465,600 C462.5,623.3 452.5,645.8 440,660 C427.5,674.2 406.7,683.3 390,685 C373.3,686.7 354.2,680.8 340,670 C325.8,659.2 311.7,638.3 305,620 C298.3,601.7 299.2,580.0 300,560 Z" fill="#18FFE7"/>
<path d="M325,560 C323.3,540.0 328.3,517.5 335,500 C341.7,482.5 354.2,463.8 365,455 C375.8,446.2 390.0,442.8 400,447 C410.0,451.2 418.7,462.8 425,480 C431.3,497.2 435.5,528.3 438,550 C440.5,571.7 443.8,594.2 440,610 C436.2,625.8 425.0,638.3 415,645 C405.0,651.7 391.7,654.2 380,650 C368.3,645.8 354.2,635.0 345,620 C335.8,605.0 326.7,580.0 325,560 Z" fill="#00DFFF"/>
<ellipse cx="392" cy="560" rx="15" ry="25" fill="#009FFF"/>
<path d="M480,140 C491.7,110.8 516.7,112.5 540,105 C563.3,97.5 596.7,102.5 620,95 C643.3,87.5 665.8,79.2 680,60 C694.2,40.8 658.3,-6.7 705,-20 C751.7,-33.3 918.3,-36.7 960,-20 C1001.7,-3.3 960.0,53.3 955,80 C950.0,106.7 942.5,122.5 930,140 C917.5,157.5 901.7,174.2 880,185 C858.3,195.8 830.0,200.0 800,205 C770.0,210.0 728.3,215.8 700,215 C671.7,214.2 650.0,200.0 630,200 C610.0,200.0 591.3,201.7 580,215 C568.7,228.3 562.8,257.5 562,280 C561.2,302.5 571.7,321.7 575,350 C578.3,378.3 584.2,421.7 582,450 C579.8,478.3 572.3,501.7 562,520 C551.7,538.3 533.7,556.7 520,560 C506.3,563.3 489.2,553.3 480,540 C470.8,526.7 468.3,506.7 465,480 C461.7,453.3 459.2,413.3 460,380 C460.8,346.7 466.7,320.0 470,280 C473.3,240.0 468.3,169.2 480,140 Z" fill="#BFFF40"/>
<path d="M715,-20 C685.0,-6.7 717.5,38.3 725,60 C732.5,81.7 744.2,95.8 760,110 C775.8,124.2 800.0,141.7 820,145 C840.0,148.3 865.8,140.8 880,130 C894.2,119.2 900.8,105.0 905,80 C909.2,55.0 936.7,-3.3 905,-20 C873.3,-36.7 745.0,-33.3 715,-20 Z" fill="#EFFF10"/>
<path d="M738,-20 C719.3,-8.3 741.0,30.8 748,50 C755.0,69.2 766.3,84.2 780,95 C793.7,105.8 816.7,115.8 830,115 C843.3,114.2 854.2,104.2 860,90 C865.8,75.8 865.0,48.3 865,30 C865.0,11.7 881.2,-11.7 860,-20 C838.8,-28.3 756.7,-31.7 738,-20 Z" fill="#FFCF00"/>
<path d="M762,-20 C752.8,-10.0 764.5,24.2 770,40 C775.5,55.8 785.8,70.0 795,75 C804.2,80.0 818.8,77.5 825,70 C831.2,62.5 832.0,45.0 832,30 C832.0,15.0 836.7,-11.7 825,-20 C813.3,-28.3 771.2,-30.0 762,-20 Z" fill="#FF9F00"/>
<path d="M480,330 C483.7,306.7 491.7,297.5 500,290 C508.3,282.5 520.8,280.0 530,285 C539.2,290.0 550.0,297.5 555,320 C560.0,342.5 561.7,390.0 560,420 C558.3,450.0 552.5,481.7 545,500 C537.5,518.3 524.2,528.3 515,530 C505.8,531.7 496.2,526.7 490,510 C483.8,493.3 479.7,460.0 478,430 C476.3,400.0 476.3,353.3 480,330 Z" fill="#EFFF10"/>
<ellipse cx="517" cy="410" rx="22" ry="75" fill="#FFCF00"/>
<path d="M1030,85 C1016.7,0.8 971.7,122.5 950,140 C928.3,157.5 925.0,175.8 900,190 C875.0,204.2 833.3,216.7 800,225 C766.7,233.3 726.7,232.5 700,240 C673.3,247.5 654.7,255.0 640,270 C625.3,285.0 617.8,308.3 612,330 C606.2,351.7 605.0,378.3 605,400 C605.0,421.7 604.5,448.3 612,460 C619.5,471.7 635.3,473.3 650,470 C664.7,466.7 685.0,440.0 700,440 C715.0,440.0 725.0,460.0 740,470 C755.0,480.0 775.0,485.0 790,500 C805.0,515.0 822.5,540.0 830,560 C837.5,580.0 836.7,601.7 835,620 C833.3,638.3 827.5,654.2 820,670 C812.5,685.8 800.0,705.0 790,715 C780.0,725.0 771.7,729.2 760,730 C748.3,730.8 731.7,730.0 720,720 C708.3,710.0 699.2,688.3 690,670 C680.8,651.7 673.3,625.0 665,610 C656.7,595.0 650.8,583.3 640,580 C629.2,576.7 613.3,581.7 600,590 C586.7,598.3 569.2,615.0 560,630 C550.8,645.0 547.5,661.7 545,680 C542.5,698.3 540.8,721.7 545,740 C549.2,758.3 557.5,775.0 570,790 C582.5,805.0 608.3,816.7 620,830 C631.7,843.3 635.0,855.0 640,870 C645.0,885.0 618.3,911.7 650,920 C681.7,928.3 796.7,940.0 830,920 C863.3,900.0 843.3,836.7 850,800 C856.7,763.3 861.7,730.0 870,700 C878.3,670.0 890.0,637.5 900,620 C910.0,602.5 918.3,596.7 930,595 C941.7,593.3 953.3,601.7 970,610 C986.7,618.3 1020.0,732.5 1030,645 C1040.0,557.5 1043.3,169.2 1030,85 Z" fill="#50FFAF"/>
<path d="M1030,130 C1018.3,98.3 981.7,173.3 960,190 C938.3,206.7 923.3,220.0 900,230 C876.7,240.0 848.3,244.2 820,250 C791.7,255.8 753.3,258.3 730,265 C706.7,271.7 693.3,277.5 680,290 C666.7,302.5 656.7,323.3 650,340 C643.3,356.7 635.0,380.0 640,390 C645.0,400.0 666.7,399.2 680,400 C693.3,400.8 706.7,390.0 720,395 C733.3,400.0 746.7,417.5 760,430 C773.3,442.5 786.7,459.2 800,470 C813.3,480.8 826.7,493.3 840,495 C853.3,496.7 866.7,489.2 880,480 C893.3,470.8 905.0,453.3 920,440 C935.0,426.7 951.7,410.0 970,400 C988.3,390.0 1020.0,425.0 1030,380 C1040.0,335.0 1041.7,161.7 1030,130 Z" fill="#18FFE7"/>
<path d="M1030,200 C1021.7,185.0 998.3,228.3 980,240 C961.7,251.7 941.7,261.7 920,270 C898.3,278.3 876.7,285.8 850,290 C823.3,294.2 784.2,291.7 760,295 C735.8,298.3 715.0,304.2 705,310 C695.0,315.8 694.2,320.0 700,330 C705.8,340.0 726.7,355.0 740,370 C753.3,385.0 766.7,406.7 780,420 C793.3,433.3 808.3,445.8 820,450 C831.7,454.2 838.3,451.7 850,445 C861.7,438.3 873.3,422.5 890,410 C906.7,397.5 926.7,383.3 950,370 C973.3,356.7 1016.7,358.3 1030,330 C1043.3,301.7 1038.3,215.0 1030,200 Z" fill="#00DFFF"/>
<ellipse cx="850" cy="365" rx="18" ry="28" fill="#009FFF" transform="rotate(15 850 365)"/>
<path d="M705,560 C706.7,545.8 712.5,531.7 720,525 C727.5,518.3 740.8,515.0 750,520 C759.2,525.0 769.7,541.7 775,555 C780.3,568.3 783.7,586.7 782,600 C780.3,613.3 773.7,628.3 765,635 C756.3,641.7 739.2,644.2 730,640 C720.8,635.8 714.2,623.3 710,610 C705.8,596.7 703.3,574.2 705,560 Z" fill="#BFFF40"/>
<path d="M570,700 C570.0,683.3 573.3,672.5 580,660 C586.7,647.5 600.8,630.8 610,625 C619.2,619.2 627.5,619.2 635,625 C642.5,630.8 647.5,644.2 655,660 C662.5,675.8 669.2,703.3 680,720 C690.8,736.7 705.0,754.2 720,760 C735.0,765.8 755.8,756.7 770,755 C784.2,753.3 801.7,742.5 805,750 C808.3,757.5 797.5,783.3 790,800 C782.5,816.7 766.7,830.0 760,850 C753.3,870.0 760.0,908.3 750,920 C740.0,931.7 710.0,928.3 700,920 C690.0,911.7 696.7,885.0 690,870 C683.3,855.0 671.7,841.7 660,830 C648.3,818.3 633.3,811.7 620,800 C606.7,788.3 588.3,776.7 580,760 C571.7,743.3 570.0,716.7 570,700 Z" fill="#18FFE7"/>
<path d="M235,920 C208.3,905.0 247.5,853.3 260,830 C272.5,806.7 291.7,786.7 310,780 C328.3,773.3 353.3,780.0 370,790 C386.7,800.0 401.7,818.3 410,840 C418.3,861.7 449.2,906.7 420,920 C390.8,933.3 261.7,935.0 235,920 Z" fill="#BFFF40"/>
<path d="M265,920 C245.8,908.3 275.8,867.5 285,850 C294.2,832.5 307.5,820.0 320,815 C332.5,810.0 348.3,812.5 360,820 C371.7,827.5 383.3,843.3 390,860 C396.7,876.7 420.8,910.0 400,920 C379.2,930.0 284.2,931.7 265,920 Z" fill="#EFFF10"/>
<path d="M290,920 C278.3,910.0 297.5,873.3 305,860 C312.5,846.7 325.0,838.3 335,840 C345.0,841.7 358.3,856.7 365,870 C371.7,883.3 387.5,911.7 375,920 C362.5,928.3 301.7,930.0 290,920 Z" fill="#FFCF00"/>
<path d="M75,920 C53.3,913.3 99.2,888.3 120,880 C140.8,871.7 178.3,863.3 200,870 C221.7,876.7 270.8,911.7 250,920 C229.2,928.3 96.7,926.7 75,920 Z" fill="#BFFF40"/>
<path d="M870,920 C846.7,903.3 880.0,845.8 890,820 C900.0,794.2 915.0,776.7 930,765 C945.0,753.3 963.3,749.2 980,750 C996.7,750.8 1021.7,741.7 1030,770 C1038.3,798.3 1056.7,895.0 1030,920 C1003.3,945.0 893.3,936.7 870,920 Z" fill="#BFFF40"/>
<path d="M905,920 C893.3,910.0 911.7,874.2 920,860 C928.3,845.8 944.2,836.7 955,835 C965.8,833.3 979.2,835.8 985,850 C990.8,864.2 1003.3,908.3 990,920 C976.7,931.7 916.7,930.0 905,920 Z" fill="#EFFF10"/>
</g></g>
<g class="f" clip-path="url(#c7)"><g transform="translate(259,344) scale(0.102082)">
<path d="M-20,-20 L1030,-20 L1030,920 L-20,920 Z" fill="#50FFAF"/>
<path d="M-20,640 C-16.7,594.2 -11.7,636.7 0,645 C11.7,653.3 34.2,672.5 50,690 C65.8,707.5 85.0,726.7 95,750 C105.0,773.3 104.2,807.5 110,830 C115.8,852.5 115.0,876.7 130,885 C145.0,893.3 178.3,885.8 200,880 C221.7,874.2 238.3,858.3 260,850 C281.7,841.7 306.7,832.5 330,830 C353.3,827.5 381.7,830.8 400,835 C418.3,839.2 420.0,852.5 440,855 C460.0,857.5 496.7,854.2 520,850 C543.3,845.8 563.3,841.7 580,830 C596.7,818.3 603.3,795.0 620,780 C636.7,765.0 656.7,751.7 680,740 C703.3,728.3 736.7,720.0 760,710 C783.3,700.0 796.7,686.7 820,680 C843.3,673.3 873.3,674.2 900,670 C926.7,665.8 958.3,658.3 980,655 C1001.7,651.7 1021.7,605.8 1030,650 C1038.3,694.2 1205.0,875.0 1030,920 C855.0,965.0 155.0,966.7 -20,920 C-195.0,873.3 -23.3,685.8 -20,640 Z" fill="#80FF80"/>
<path d="M690,920 C661.7,912.5 706.7,887.0 720,875 C733.3,863.0 751.7,852.2 770,848 C788.3,843.8 813.3,844.7 830,850 C846.7,855.3 860.0,868.3 870,880 C880.0,891.7 920.0,913.3 890,920 C860.0,926.7 718.3,927.5 690,920 Z" fill="#BFFF40"/>
<path d="M-20,785 C-15.0,765.0 2.5,789.2 10,800 C17.5,810.8 23.3,830.0 25,850 C26.7,870.0 27.5,908.3 20,920 C12.5,931.7 -13.3,942.5 -20,920 C-26.7,897.5 -25.0,805.0 -20,785 Z" fill="#BFFF40"/>
<path d="M-20,420 C-16.7,495.0 -11.7,413.3 0,430 C11.7,446.7 33.3,498.3 50,520 C66.7,541.7 85.0,556.7 100,560 C115.0,563.3 129.2,551.7 140,540 C150.8,528.3 159.2,513.3 165,490 C170.8,466.7 170.0,430.0 175,400 C180.0,370.0 185.8,333.3 195,310 C204.2,286.7 223.3,271.7 230,260 C236.7,248.3 240.0,244.2 235,240 C230.0,235.8 214.2,230.8 200,235 C185.8,239.2 165.0,263.3 150,265 C135.0,266.7 119.2,255.8 110,245 C100.8,234.2 99.2,224.2 95,200 C90.8,175.8 87.5,136.7 85,100 C82.5,63.3 97.5,0.0 80,-20 C62.5,-40.0 -3.3,-93.3 -20,-20 C-36.7,53.3 -23.3,345.0 -20,420 Z" fill="#18FFE7"/>
<ellipse cx="183" cy="95" rx="62" ry="100" fill="#80FF80"/>
<path d="M160,70 C166.3,58.3 192.5,55.0 200,60 C207.5,65.0 206.7,87.5 205,100 C203.3,112.5 197.2,130.0 190,135 C182.8,140.0 167.0,140.8 162,130 C157.0,119.2 153.7,81.7 160,70 Z" fill="#BFFF40"/>
<path d="M-20,110 C-13.3,74.2 10.0,105.0 20,120 C30.0,135.0 37.5,171.7 40,200 C42.5,228.3 41.7,268.3 35,290 C28.3,311.7 9.2,322.5 0,330 C-9.2,337.5 -16.7,371.7 -20,335 C-23.3,298.3 -26.7,145.8 -20,110 Z" fill="#00DFFF"/>
<path d="M275,-20 C253.3,0.0 283.3,63.3 290,100 C296.7,136.7 315.8,173.3 315,200 C314.2,226.7 289.2,240.0 285,260 C280.8,280.0 285.8,296.7 290,320 C294.2,343.3 303.3,370.0 310,400 C316.7,430.0 324.2,471.7 330,500 C335.8,528.3 335.0,566.7 345,570 C355.0,573.3 372.5,538.3 390,520 C407.5,501.7 433.3,481.7 450,460 C466.7,438.3 486.7,413.3 490,390 C493.3,366.7 480.0,343.3 470,320 C460.0,296.7 440.0,273.3 430,250 C420.0,226.7 413.7,208.3 410,180 C406.3,151.7 406.3,113.3 408,80 C409.7,46.7 442.2,-3.3 420,-20 C397.8,-36.7 296.7,-40.0 275,-20 Z" fill="#18FFE7"/>
<path d="M305,-20 C295.8,-11.7 321.7,18.3 330,30 C338.3,41.7 347.5,50.8 355,50 C362.5,49.2 370.0,36.7 375,25 C380.0,13.3 396.7,-12.5 385,-20 C373.3,-27.5 314.2,-28.3 305,-20 Z" fill="#00DFFF"/>
<ellipse cx="240" cy="395" rx="21" ry="42" fill="#80FF80"/>
<ellipse cx="243" cy="572" rx="19" ry="32" fill="#80FF80"/>
<path d="M1030,40 C1025.8,-36.7 1016.7,112.5 1005,140 C993.3,167.5 977.5,192.5 960,205 C942.5,217.5 923.3,215.8 900,215 C876.7,214.2 846.7,200.8 820,200 C793.3,199.2 763.3,203.3 740,210 C716.7,216.7 696.7,226.7 680,240 C663.3,253.3 649.2,270.0 640,290 C630.8,310.0 625.0,333.3 625,360 C625.0,386.7 634.2,416.7 640,450 C645.8,483.3 651.7,536.7 660,560 C668.3,583.3 673.3,588.3 690,590 C706.7,591.7 738.3,579.2 760,570 C781.7,560.8 800.0,541.7 820,535 C840.0,528.3 860.0,525.8 880,530 C900.0,534.2 915.0,548.3 940,560 C965.0,571.7 1015.0,686.7 1030,600 C1045.0,513.3 1034.2,116.7 1030,40 Z" fill="#18FFE7"/>
<path d="M1030,270 C1016.7,231.7 975.0,281.7 950,280 C925.0,278.3 905.0,265.8 880,260 C855.0,254.2 826.7,245.0 800,245 C773.3,245.0 740.0,250.8 720,260 C700.0,269.2 686.7,280.0 680,300 C673.3,320.0 676.7,356.7 680,380 C683.3,403.3 693.3,423.3 700,440 C706.7,456.7 708.3,476.7 720,480 C731.7,483.3 753.3,466.7 770,460 C786.7,453.3 801.7,441.7 820,440 C838.3,438.3 858.3,443.3 880,450 C901.7,456.7 925.0,470.0 950,480 C975.0,490.0 1016.7,545.0 1030,510 C1043.3,475.0 1043.3,308.3 1030,270 Z" fill="#00DFFF"/>
<path d="M905,355 C908.3,349.5 919.2,344.8 940,342 C960.8,339.2 1015.0,329.7 1030,338 C1045.0,346.3 1041.7,383.7 1030,392 C1018.3,400.3 978.3,390.8 960,388 C941.7,385.2 929.2,380.5 920,375 C910.8,369.5 901.7,360.5 905,355 Z" fill="#009FFF"/>
<path d="M415,-20 C317.3,0.0 411.2,66.7 412,100 C412.8,133.3 413.7,156.7 420,180 C426.3,203.3 436.7,225.0 450,240 C463.3,255.0 481.7,264.2 500,270 C518.3,275.8 540.0,278.3 560,275 C580.0,271.7 600.0,262.5 620,250 C640.0,237.5 656.7,213.3 680,200 C703.3,186.7 735.0,174.2 760,170 C785.0,165.8 806.7,170.3 830,175 C853.3,179.7 880.0,197.2 900,198 C920.0,198.8 935.2,188.5 950,180 C964.8,171.5 979.2,167.2 989,147 C998.8,126.8 1007.5,86.8 1009,59 C1010.5,31.2 1097.0,-6.8 998,-20 C899.0,-33.2 512.7,-40.0 415,-20 Z" fill="#80FF80"/>
<path d="M440,-20 C350.8,0.0 436.7,66.7 440,100 C443.3,133.3 450.0,159.2 460,180 C470.0,200.8 483.3,215.8 500,225 C516.7,234.2 540.0,239.2 560,235 C580.0,230.8 600.0,214.2 620,200 C640.0,185.8 658.3,161.7 680,150 C701.7,138.3 725.0,131.7 750,130 C775.0,128.3 805.0,135.0 830,140 C855.0,145.0 880.8,158.7 900,160 C919.2,161.3 931.7,156.3 945,148 C958.3,139.7 972.7,133.0 980,110 C987.3,87.0 989.8,31.7 989,10 C988.2,-11.7 1066.5,-15.0 975,-20 C883.5,-25.0 529.2,-40.0 440,-20 Z" fill="#BFFF40"/>
<path d="M470,-20 C438.8,-1.7 468.8,60.0 473,90 C477.2,120.0 483.8,142.5 495,160 C506.2,177.5 524.2,191.7 540,195 C555.8,198.3 575.0,189.2 590,180 C605.0,170.8 619.2,156.7 630,140 C640.8,123.3 650.0,106.7 655,80 C660.0,53.3 690.8,-3.3 660,-20 C629.2,-36.7 501.2,-38.3 470,-20 Z" fill="#EFFF10"/>
<path d="M515,60 C519.7,48.8 530.0,33.8 540,28 C550.0,22.2 565.3,20.5 575,25 C584.7,29.5 595.5,42.5 598,55 C600.5,67.5 596.3,87.2 590,100 C583.7,112.8 570.8,127.3 560,132 C549.2,136.7 533.0,134.2 525,128 C517.0,121.8 513.7,106.3 512,95 C510.3,83.7 510.3,71.2 515,60 Z" fill="#FFCF00"/>
<path d="M820,30 C824.7,22.8 841.7,12.0 850,12 C858.3,12.0 867.5,21.2 870,30 C872.5,38.8 870.0,57.5 865,65 C860.0,72.5 847.2,76.7 840,75 C832.8,73.3 825.3,62.5 822,55 C818.7,47.5 815.3,37.2 820,30 Z" fill="#EFFF10"/>
</g></g>
<g class="f" clip-path="url(#c8)"><g transform="translate(362,252) scale(0.204165)">
<path d="M-40,-40 C-24.2,-176.3 38.3,-48.3 55,-40 C71.7,-31.7 55.0,-4.2 60,10 C65.0,24.2 75.0,34.2 85,45 C95.0,55.8 110.8,66.7 120,75 C129.2,83.3 137.5,82.5 140,95 C142.5,107.5 136.7,129.2 135,150 C133.3,170.8 133.3,200.0 130,220 C126.7,240.0 115.0,256.7 115,270 C115.0,283.3 121.7,290.8 130,300 C138.3,309.2 155.8,326.7 165,325 C174.2,323.3 177.5,300.0 185,290 C192.5,280.0 197.5,271.7 210,265 C222.5,258.3 245.0,249.2 260,250 C275.0,250.8 290.3,260.0 300,270 C309.7,280.0 314.7,296.7 318,310 C321.3,323.3 323.0,337.5 320,350 C317.0,362.5 310.0,375.0 300,385 C290.0,395.0 271.7,405.8 260,410 C248.3,414.2 240.8,412.5 230,410 C219.2,407.5 206.7,396.7 195,395 C183.3,393.3 167.5,392.5 160,400 C152.5,407.5 156.7,430.8 150,440 C143.3,449.2 128.3,446.7 120,455 C111.7,463.3 104.2,475.8 100,490 C95.8,504.2 93.3,525.8 95,540 C96.7,554.2 100.8,566.7 110,575 C119.2,583.3 135.0,588.3 150,590 C165.0,591.7 185.8,583.3 200,585 C214.2,586.7 225.8,590.8 235,600 C244.2,609.2 250.8,625.0 255,640 C259.2,655.0 254.2,678.3 260,690 C265.8,701.7 280.0,708.3 290,710 C300.0,711.7 314.2,708.3 320,700 C325.8,691.7 328.3,671.7 325,660 C321.7,648.3 306.7,640.0 300,630 C293.3,620.0 285.0,609.2 285,600 C285.0,590.8 290.8,578.3 300,575 C309.2,571.7 329.2,572.5 340,580 C350.8,587.5 359.2,605.0 365,620 C370.8,635.0 370.8,653.3 375,670 C379.2,686.7 382.5,707.5 390,720 C397.5,732.5 408.3,740.0 420,745 C431.7,750.0 446.7,754.2 460,750 C473.3,745.8 490.0,731.7 500,720 C510.0,708.3 518.3,691.7 520,680 C521.7,668.3 518.3,658.3 510,650 C501.7,641.7 483.3,636.7 470,630 C456.7,623.3 441.7,618.3 430,610 C418.3,601.7 405.0,590.8 400,580 C395.0,569.2 395.0,554.2 400,545 C405.0,535.8 418.3,523.3 430,525 C441.7,526.7 459.2,555.8 470,555 C480.8,554.2 490.3,532.5 495,520 C499.7,507.5 500.5,493.3 498,480 C495.5,466.7 489.7,450.0 480,440 C470.3,430.0 453.3,428.3 440,420 C426.7,411.7 410.0,401.7 400,390 C390.0,378.3 382.5,365.0 380,350 C377.5,335.0 380.0,313.7 385,300 C390.0,286.3 400.8,269.7 410,268 C419.2,266.3 429.2,287.2 440,290 C450.8,292.8 465.0,278.3 475,285 C485.0,291.7 492.5,312.5 500,330 C507.5,347.5 513.3,375.0 520,390 C526.7,405.0 528.3,416.7 540,420 C551.7,423.3 573.3,417.5 590,410 C606.7,402.5 628.3,380.0 640,375 C651.7,370.0 656.7,373.0 660,380 C663.3,387.0 658.0,405.2 660,417 C662.0,428.8 666.2,438.7 672,451 C677.8,463.3 685.5,480.5 695,491 C704.5,501.5 718.5,511.5 729,514 C739.5,516.5 749.3,511.7 758,506 C766.7,500.3 773.3,491.0 781,480 C788.7,469.0 796.3,450.5 804,440 C811.7,429.5 817.3,423.8 827,417 C836.7,410.2 851.5,404.3 862,399 C872.5,393.7 878.7,386.5 890,385 C901.3,383.5 918.7,392.5 930,390 C941.3,387.5 952.2,380.0 958,370 C963.8,360.0 963.0,344.2 965,330 C967.0,315.8 962.7,295.3 970,285 C977.3,274.7 995.7,271.8 1009,268 C1022.3,264.2 1043.2,148.3 1050,262 C1056.8,375.7 1145.0,835.3 1050,950 C955.0,1064.7 571.7,961.7 480,950 C388.3,938.3 493.3,898.3 500,880 C506.7,861.7 525.0,848.3 520,840 C515.0,831.7 486.7,835.0 470,830 C453.3,825.0 436.7,815.0 420,810 C403.3,805.0 390.0,803.3 370,800 C350.0,796.7 323.3,789.2 300,790 C276.7,790.8 255.0,803.3 230,805 C205.0,806.7 178.3,802.5 150,800 C121.7,797.5 85.0,793.3 60,790 C35.0,786.7 16.7,782.0 0,780 C-16.7,778.0 -33.3,914.7 -40,778 C-46.7,641.3 -55.8,96.3 -40,-40 Z" fill="#50FFAF"/>
<path d="M795,-40 C755.0,-26.7 799.2,20.8 810,40 C820.8,59.2 848.3,60.0 860,75 C871.7,90.0 875.0,109.2 880,130 C885.0,150.8 886.7,182.5 890,200 C893.3,217.5 895.8,235.0 900,235 C904.2,235.0 910.0,212.5 915,200 C920.0,187.5 923.3,163.7 930,160 C936.7,156.3 945.8,173.0 955,178 C964.2,183.0 976.0,190.5 985,190 C994.0,189.5 998.2,178.3 1009,175 C1019.8,171.7 1043.2,205.8 1050,170 C1056.8,134.2 1092.5,-5.0 1050,-40 C1007.5,-75.0 835.0,-53.3 795,-40 Z" fill="#50FFAF"/>
<path d="M895,255 C898.3,245.8 919.2,242.5 930,245 C940.8,247.5 954.2,261.7 960,270 C965.8,278.3 968.3,285.8 965,295 C961.7,304.2 949.2,324.2 940,325 C930.8,325.8 917.5,311.7 910,300 C902.5,288.3 891.7,264.2 895,255 Z" fill="#50FFAF"/>
<ellipse cx="982" cy="90" rx="14" ry="48" fill="#80FF80" transform="rotate(-5 982 90)"/>
<path d="M-40,165 C-33.3,143.8 -10.0,159.2 0,165 C10.0,170.8 11.7,187.5 20,200 C28.3,212.5 42.5,228.3 50,240 C57.5,251.7 68.3,263.3 65,270 C61.7,276.7 40.8,276.3 30,280 C19.2,283.7 11.7,290.0 0,292 C-11.7,294.0 -33.3,313.2 -40,292 C-46.7,270.8 -46.7,186.2 -40,165 Z" fill="#80FF80"/>
<path d="M545,693 C547.3,676.7 548.3,662.7 556,653 C563.7,643.3 581.8,635.0 591,635 C600.2,635.0 604.8,641.5 611,653 C617.2,664.5 623.2,693.0 628,704 C632.8,715.0 639.0,710.3 640,719 C641.0,727.7 636.0,743.0 634,756 C632.0,769.0 632.3,782.5 628,797 C623.7,811.5 616.2,832.5 608,843 C599.8,853.5 588.5,860.0 579,860 C569.5,860.0 559.5,846.8 551,843 C542.5,839.2 530.5,842.8 528,837 C525.5,831.2 533.7,822.3 536,808 C538.3,793.7 540.5,770.2 542,751 C543.5,731.8 542.7,709.3 545,693 Z" fill="#80FF80"/>
<path d="M640,716 C642.3,710.2 644.8,703.5 654,693 C663.2,682.5 681.5,663.5 695,653 C708.5,642.5 722.7,636.8 735,630 C747.3,623.2 761.3,624.5 769,612 C776.7,599.5 775.2,568.3 781,555 C786.8,541.7 794.3,538.8 804,532 C813.7,525.2 827.5,519.8 839,514 C850.5,508.2 862.5,500.3 873,497 C883.5,493.7 894.8,490.2 902,494 C909.2,497.8 912.7,509.8 916,520 C919.3,530.2 922.5,544.3 922,555 C921.5,565.7 916.3,574.5 913,584 C909.7,593.5 902.8,601.5 902,612 C901.2,622.5 903.2,634.5 908,647 C912.8,659.5 922.5,682.2 931,687 C939.5,691.8 949.5,679.8 959,676 C968.5,672.2 972.8,668.3 988,664 C1003.2,659.7 1039.7,602.3 1050,650 C1060.3,697.7 1088.7,900.0 1050,950 C1011.3,1000.0 853.2,963.0 818,950 C782.8,937.0 833.2,889.8 839,872 C844.8,854.2 850.2,855.5 853,843 C855.8,830.5 852.7,811.5 856,797 C859.3,782.5 867.3,768.5 873,756 C878.7,743.5 885.7,732.5 890,722 C894.3,711.5 899.0,700.7 899,693 C899.0,685.3 896.2,678.0 890,676 C883.8,674.0 870.2,678.2 862,681 C853.8,683.8 845.3,686.2 841,693 C836.7,699.8 837.3,712.3 836,722 C834.7,731.7 836.5,743.8 833,751 C829.5,758.2 822.7,764.2 815,765 C807.3,765.8 796.5,758.3 787,756 C777.5,753.7 764.8,748.0 758,751 C751.2,754.0 750.8,766.8 746,774 C741.2,781.2 736.7,791.2 729,794 C721.3,796.8 709.5,794.3 700,791 C690.5,787.7 680.7,780.7 672,774 C663.3,767.3 653.3,758.7 648,751 C642.7,743.3 641.3,733.8 640,728 C638.7,722.2 637.7,721.8 640,716 Z" fill="#80FF80"/>
<path d="M890,950 C876.0,941.8 889.2,914.0 896,901 C902.8,888.0 919.5,881.2 931,872 C942.5,862.8 957.8,846.0 965,846 C972.2,846.0 971.5,854.7 974,872 C976.5,889.3 994.0,937.0 980,950 C966.0,963.0 904.0,958.2 890,950 Z" fill="#50FFAF"/>
<ellipse cx="90" cy="175" rx="14" ry="32" fill="#80FF80" transform="rotate(-25 90 175)"/>
<ellipse cx="92" cy="412" rx="17" ry="25" fill="#80FF80" transform="rotate(-30 92 412)"/>
<ellipse cx="252" cy="328" rx="40" ry="38" fill="#18FFE7"/>
<ellipse cx="450" cy="358" rx="48" ry="45" fill="#18FFE7"/>
<ellipse cx="450" cy="358" rx="30" ry="27" fill="#18FFE7"/>
<ellipse cx="452" cy="358" rx="18" ry="17" fill="#00DFFF"/>
<path d="M545,500 C550.0,484.2 560.8,463.3 570,450 C579.2,436.7 588.3,426.7 600,420 C611.7,413.3 630.0,406.7 640,410 C650.0,413.3 655.8,428.3 660,440 C664.2,451.7 668.3,470.8 665,480 C661.7,489.2 649.2,490.0 640,495 C630.8,500.0 618.3,501.7 610,510 C601.7,518.3 598.3,535.3 590,545 C581.7,554.7 568.3,568.0 560,568 C551.7,568.0 542.5,556.3 540,545 C537.5,533.7 540.0,515.8 545,500 Z" fill="#18FFE7"/>
<ellipse cx="617" cy="440" rx="4" ry="7" fill="#000000"/>
<path d="M-40,530 C-34.2,493.7 -13.3,528.3 -5,520 C3.3,511.7 5.2,490.0 10,480 C14.8,470.0 17.3,463.3 24,460 C30.7,456.7 42.3,451.7 50,460 C57.7,468.3 65.8,493.3 70,510 C74.2,526.7 70.0,545.8 75,560 C80.0,574.2 87.5,587.5 100,595 C112.5,602.5 131.7,605.8 150,605 C168.3,604.2 195.0,588.3 210,590 C225.0,591.7 233.3,603.3 240,615 C246.7,626.7 247.0,639.2 250,660 C253.0,680.8 266.3,723.7 258,740 C249.7,756.3 226.3,755.5 200,758 C173.7,760.5 133.3,758.0 100,755 C66.7,752.0 23.3,742.8 0,740 C-23.3,737.2 -33.3,773.0 -40,738 C-46.7,703.0 -45.8,566.3 -40,530 Z" fill="#18FFE7"/>
<path d="M-40,545 C-33.3,519.5 -10.8,544.2 0,545 C10.8,545.8 15.0,542.5 25,550 C35.0,557.5 47.5,577.5 60,590 C72.5,602.5 83.3,619.2 100,625 C116.7,630.8 141.7,627.5 160,625 C178.3,622.5 198.0,607.5 210,610 C222.0,612.5 227.3,625.0 232,640 C236.7,655.0 239.2,685.8 238,700 C236.8,714.2 239.7,719.2 225,725 C210.3,730.8 177.5,735.0 150,735 C122.5,735.0 85.0,730.8 60,725 C35.0,719.2 16.7,704.5 0,700 C-16.7,695.5 -33.3,723.8 -40,698 C-46.7,672.2 -46.7,570.5 -40,545 Z" fill="#00DFFF"/>
<path d="M-40,610 C-33.3,602.5 -11.7,610.0 0,610 C11.7,610.0 18.3,605.0 30,610 C41.7,615.0 55.0,631.7 70,640 C85.0,648.3 106.7,660.0 120,660 C133.3,660.0 139.2,644.7 150,640 C160.8,635.3 175.3,630.3 185,632 C194.7,633.7 204.7,642.0 208,650 C211.3,658.0 209.7,671.7 205,680 C200.3,688.3 192.5,697.0 180,700 C167.5,703.0 141.7,701.3 130,698 C118.3,694.7 120.0,681.3 110,680 C100.0,678.7 83.3,690.0 70,690 C56.7,690.0 41.7,685.8 30,680 C18.3,674.2 11.7,659.2 0,655 C-11.7,650.8 -33.3,662.5 -40,655 C-46.7,647.5 -46.7,617.5 -40,610 Z" fill="#009FFF"/>
<ellipse cx="338" cy="738" rx="24" ry="25" fill="#18FFE7"/>
<ellipse cx="828" cy="465" rx="50" ry="40" fill="#18FFE7" transform="rotate(-35 828 465)"/>
<ellipse cx="830" cy="465" rx="26" ry="20" fill="#00DFFF" transform="rotate(-40 830 465)"/>
<ellipse cx="935" cy="465" rx="10" ry="20" fill="#18FFE7" transform="rotate(10 935 465)"/>
<ellipse cx="1003" cy="425" rx="12" ry="25" fill="#18FFE7"/>
<ellipse cx="962" cy="598" rx="10" ry="30" fill="#18FFE7" transform="rotate(-20 962 598)"/>
<path d="M690,420 C690.0,405.8 691.7,394.2 700,385 C708.3,375.8 728.3,371.7 740,365 C751.7,358.3 762.5,351.7 770,345 C777.5,338.3 778.3,326.7 785,325 C791.7,323.3 802.5,332.5 810,335 C817.5,337.5 827.5,331.7 830,340 C832.5,348.3 830.0,373.3 825,385 C820.0,396.7 808.3,400.8 800,410 C791.7,419.2 783.3,428.3 775,440 C766.7,451.7 758.3,471.7 750,480 C741.7,488.3 733.3,491.7 725,490 C716.7,488.3 705.8,481.7 700,470 C694.2,458.3 690.0,434.2 690,420 Z" fill="#BFFF40"/>
<ellipse cx="725" cy="452" rx="6" ry="9" fill="#EFFF10"/>
<path d="M548,375 C551.3,369.2 566.3,359.2 575,355 C583.7,350.8 596.2,346.7 600,350 C603.8,353.3 602.2,368.7 598,375 C593.8,381.3 582.2,385.5 575,388 C567.8,390.5 559.5,392.2 555,390 C550.5,387.8 544.7,380.8 548,375 Z" fill="#BFFF40"/>
<path d="M795,578 C797.2,568.3 802.7,556.2 810,549 C817.3,541.8 830.3,540.3 839,535 C847.7,529.7 853.5,519.5 862,517 C870.5,514.5 882.8,515.7 890,520 C897.2,524.3 903.0,534.3 905,543 C907.0,551.7 905.3,564.3 902,572 C898.7,579.7 891.7,584.2 885,589 C878.3,593.8 867.8,594.2 862,601 C856.2,607.8 855.8,622.8 850,630 C844.2,637.2 834.2,643.2 827,644 C819.8,644.8 812.0,641.2 807,635 C802.0,628.8 799.0,616.5 797,607 C795.0,597.5 792.8,587.7 795,578 Z" fill="#BFFF40"/>
<ellipse cx="823" cy="595" rx="10" ry="18" fill="#EFFF10" transform="rotate(-10 823 595)"/>
<ellipse cx="874" cy="551" rx="9" ry="9" fill="#EFFF10"/>
<path d="M959,468 C963.2,462.3 973.7,462.0 982,463 C990.3,464.0 997.7,471.2 1009,474 C1020.3,476.8 1043.2,463.2 1050,480 C1056.8,496.8 1056.8,559.7 1050,575 C1043.2,590.3 1019.3,573.5 1009,572 C998.7,570.5 995.3,571.8 988,566 C980.7,560.2 970.2,548.5 965,537 C959.8,525.5 958.0,508.5 957,497 C956.0,485.5 954.8,473.7 959,468 Z" fill="#80FF80"/>
<path d="M977,506 C979.5,502.7 988.7,498.7 994,500 C999.3,501.3 999.7,509.0 1009,514 C1018.3,519.0 1043.2,522.3 1050,530 C1056.8,537.7 1056.8,557.3 1050,560 C1043.2,562.7 1018.3,549.8 1009,546 C999.7,542.2 999.0,541.3 994,537 C989.0,532.7 981.8,525.2 979,520 C976.2,514.8 974.5,509.3 977,506 Z" fill="#BFFF40"/>
<ellipse cx="145" cy="543" rx="14" ry="14" fill="#BFFF40"/>
<ellipse cx="418" cy="690" rx="14" ry="17" fill="#BFFF40"/>
<ellipse cx="585" cy="725" rx="10" ry="20" fill="#BFFF40"/>
<ellipse cx="910" cy="795" rx="10" ry="12" fill="#BFFF40"/>
<path d="M270,950 C258.3,940.0 271.7,902.0 280,890 C288.3,878.0 309.2,878.8 320,878 C330.8,877.2 340.0,873.0 345,885 C350.0,897.0 362.5,939.2 350,950 C337.5,960.8 281.7,960.0 270,950 Z" fill="#BFFF40"/>
<path d="M1050,675 C1043.2,663.0 1019.8,676.7 1009,680 C998.2,683.3 990.7,688.3 985,695 C979.3,701.7 975.0,711.7 975,720 C975.0,728.3 979.3,739.7 985,745 C990.7,750.3 998.2,750.8 1009,752 C1019.8,753.2 1043.2,764.8 1050,752 C1056.8,739.2 1056.8,687.0 1050,675 Z" fill="#BFFF40"/>
<path d="M1050,770 C1043.2,759.5 1019.0,771.7 1009,775 C999.0,778.3 994.5,783.3 990,790 C985.5,796.7 981.2,807.5 982,815 C982.8,822.5 990.5,831.2 995,835 C999.5,838.8 999.8,837.5 1009,838 C1018.2,838.5 1043.2,849.3 1050,838 C1056.8,826.7 1056.8,780.5 1050,770 Z" fill="#50FFAF"/>
<ellipse cx="752" cy="679" rx="10" ry="22" fill="#50FFAF" transform="rotate(-30 752 679)"/>
<path d="M178,15 C183.0,8.8 197.2,6.3 205,8 C212.8,9.7 222.5,16.7 225,25 C227.5,33.3 225.0,53.0 220,58 C215.0,63.0 202.5,57.2 195,55 C187.5,52.8 177.8,51.7 175,45 C172.2,38.3 173.0,21.2 178,15 Z" fill="#50FFAF"/>
<path d="M262,-10 L285,0 L318,45 L300,62 L250,68 L238,55 L250,20 Z" fill="#50FFAF"/>
<path d="M340,-10 C364.2,-17.5 448.0,-16.7 470,-10 C492.0,-3.3 477.0,20.0 472,30 C467.0,40.0 455.3,45.8 440,50 C424.7,54.2 398.3,55.0 380,55 C361.7,55.0 339.2,53.3 330,50 C320.8,46.7 323.3,45.0 325,35 C326.7,25.0 315.8,-2.5 340,-10 Z" fill="#50FFAF"/>
<path d="M312,205 C312.0,199.2 321.2,194.5 330,190 C338.8,185.5 355.8,177.2 365,178 C374.2,178.8 379.2,187.2 385,195 C390.8,202.8 397.0,215.8 400,225 C403.0,234.2 405.5,245.5 403,250 C400.5,254.5 392.2,255.0 385,252 C377.8,249.0 369.2,236.5 360,232 C350.8,227.5 338.0,229.5 330,225 C322.0,220.5 312.0,210.8 312,205 Z" fill="#50FFAF"/>
<ellipse cx="340" cy="260" rx="10" ry="8" fill="#50FFAF"/>
<ellipse cx="578" cy="255" rx="6" ry="17" fill="#50FFAF"/>
<ellipse cx="742" cy="52" rx="10" ry="12" fill="#50FFAF"/>
<ellipse cx="758" cy="218" rx="17" ry="42" fill="#50FFAF" transform="rotate(15 758 218)"/>
<ellipse cx="727" cy="305" rx="23" ry="30" fill="#50FFAF" transform="rotate(-20 727 305)"/>
<ellipse cx="860" cy="353" rx="5" ry="9" fill="#BFFF40"/>
</g></g>
<g class="f" clip-path="url(#c9)"><g transform="translate(568,252) scale(0.204165)">
<path d="M-40,-40 C-30.0,-75.8 5.0,-55.0 20,-40 C35.0,-25.0 44.2,26.7 50,50 C55.8,73.3 56.7,80.8 55,100 C53.3,119.2 49.2,152.5 40,165 C30.8,177.5 13.3,173.3 0,175 C-13.3,176.7 -33.3,210.8 -40,175 C-46.7,139.2 -50.0,-4.2 -40,-40 Z" fill="#50FFAF"/>
<path d="M310,-40 C433.3,-56.7 926.7,-138.3 1050,-40 C1173.3,58.3 1056.8,452.5 1050,550 C1043.2,647.5 1030.7,548.3 1009,545 C987.3,541.7 944.8,534.2 920,530 C895.2,525.8 880.0,525.0 860,520 C840.0,515.0 820.0,503.3 800,500 C780.0,496.7 758.3,503.3 740,500 C721.7,496.7 705.0,481.7 690,480 C675.0,478.3 661.7,486.7 650,490 C638.3,493.3 630.0,497.5 620,500 C610.0,502.5 600.0,501.7 590,505 C580.0,508.3 571.7,515.8 560,520 C548.3,524.2 533.3,530.0 520,530 C506.7,530.0 490.0,517.5 480,520 C470.0,522.5 465.8,535.0 460,545 C454.2,555.0 447.5,567.5 445,580 C442.5,592.5 447.5,612.5 445,620 C442.5,627.5 434.2,628.3 430,625 C425.8,621.7 428.3,605.0 420,600 C411.7,595.0 393.3,597.5 380,595 C366.7,592.5 348.3,584.2 340,585 C331.7,585.8 329.2,590.8 330,600 C330.8,609.2 338.7,628.3 345,640 C351.3,651.7 363.5,660.0 368,670 C372.5,680.0 372.0,688.3 372,700 C372.0,711.7 370.0,728.3 368,740 C366.0,751.7 364.3,761.2 360,770 C355.7,778.8 350.3,792.2 342,793 C333.7,793.8 322.0,780.5 310,775 C298.0,769.5 282.5,766.2 270,760 C257.5,753.8 243.3,740.8 235,738 C226.7,735.2 225.8,737.7 220,743 C214.2,748.3 208.3,759.7 200,770 C191.7,780.3 181.7,797.5 170,805 C158.3,812.5 143.3,812.5 130,815 C116.7,817.5 101.7,809.5 90,820 C78.3,830.5 70.0,878.0 60,878 C50.0,878.0 40.0,826.3 30,820 C20.0,813.7 11.7,835.8 0,840 C-11.7,844.2 -33.3,940.3 -40,845 C-46.7,749.7 -46.7,364.2 -40,268 C-33.3,171.8 -14.2,268.5 0,268 C14.2,267.5 33.3,261.3 45,265 C56.7,268.7 65.0,280.8 70,290 C75.0,299.2 76.7,310.8 75,320 C73.3,329.2 67.5,337.5 60,345 C52.5,352.5 34.2,358.3 30,365 C25.8,371.7 30.0,381.7 35,385 C40.0,388.3 49.2,388.3 60,385 C70.8,381.7 86.7,372.5 100,365 C113.3,357.5 131.7,349.2 140,340 C148.3,330.8 150.0,320.0 150,310 C150.0,300.0 144.2,290.8 140,280 C135.8,269.2 131.7,250.0 125,245 C118.3,240.0 108.3,247.5 100,250 C91.7,252.5 80.0,265.8 75,260 C70.0,254.2 67.5,226.7 70,215 C72.5,203.3 78.3,194.2 90,190 C101.7,185.8 125.8,194.2 140,190 C154.2,185.8 164.2,175.0 175,165 C185.8,155.0 199.5,140.8 205,130 C210.5,119.2 206.3,111.7 208,100 C209.7,88.3 210.2,68.7 215,60 C219.8,51.3 229.2,44.7 237,48 C244.8,51.3 258.2,68.0 262,80 C265.8,92.0 265.3,105.0 260,120 C254.7,135.0 235.8,155.0 230,170 C224.2,185.0 224.2,195.0 225,210 C225.8,225.0 235.8,246.7 235,260 C234.2,273.3 227.5,283.3 220,290 C212.5,296.7 197.5,293.3 190,300 C182.5,306.7 175.8,318.3 175,330 C174.2,341.7 178.3,356.7 185,370 C191.7,383.3 205.8,398.3 215,410 C224.2,421.7 233.3,430.0 240,440 C246.7,450.0 246.7,461.7 255,470 C263.3,478.3 275.8,484.2 290,490 C304.2,495.8 325.0,503.3 340,505 C355.0,506.7 370.0,505.8 380,500 C390.0,494.2 397.5,481.7 400,470 C402.5,458.3 393.3,440.8 395,430 C396.7,419.2 401.7,410.0 410,405 C418.3,400.0 435.0,397.5 445,400 C455.0,402.5 462.5,413.3 470,420 C477.5,426.7 485.0,443.3 490,440 C495.0,436.7 495.0,410.8 500,400 C505.0,389.2 511.7,380.8 520,375 C528.3,369.2 545.8,369.2 550,365 C554.2,360.8 550.0,352.5 545,350 C540.0,347.5 530.0,346.7 520,350 C510.0,353.3 490.0,371.7 485,370 C480.0,368.3 485.8,351.7 490,340 C494.2,328.3 500.8,311.7 510,300 C519.2,288.3 537.5,281.7 545,270 C552.5,258.3 550.8,240.8 555,230 C559.2,219.2 562.5,207.5 570,205 C577.5,202.5 591.7,210.8 600,215 C608.3,219.2 620.0,234.2 620,230 C620.0,225.8 606.7,203.3 600,190 C593.3,176.7 583.3,164.2 580,150 C576.7,135.8 585.8,107.5 580,105 C574.2,102.5 554.2,124.2 545,135 C535.8,145.8 530.8,166.7 525,170 C519.2,173.3 512.5,150.0 510,155 C507.5,160.0 511.7,185.8 510,200 C508.3,214.2 506.7,229.2 500,240 C493.3,250.8 479.2,258.3 470,265 C460.8,271.7 451.7,280.0 445,280 C438.3,280.0 437.5,266.7 430,265 C422.5,263.3 411.7,267.5 400,270 C388.3,272.5 373.3,275.0 360,280 C346.7,285.0 330.0,298.3 320,300 C310.0,301.7 305.0,297.5 300,290 C295.0,282.5 288.3,266.7 290,255 C291.7,243.3 301.7,229.2 310,220 C318.3,210.8 330.0,206.7 340,200 C350.0,193.3 366.7,191.7 370,180 C373.3,168.3 366.7,143.3 360,130 C353.3,116.7 338.3,111.7 330,100 C321.7,88.3 313.3,83.3 310,60 C306.7,36.7 186.7,-23.3 310,-40 Z" fill="#50FFAF"/>
<path d="M342,793 C345.3,783.8 352.8,775.8 360,770 C367.2,764.2 376.7,759.7 385,758 C393.3,756.3 404.5,754.7 410,760 C415.5,765.3 415.5,780.0 418,790 C420.5,800.0 425.5,810.8 425,820 C424.5,829.2 420.8,838.3 415,845 C409.2,851.7 397.2,855.0 390,860 C382.8,865.0 375.3,860.0 372,875 C368.7,890.0 375.3,937.5 370,950 C364.7,962.5 345.0,970.8 340,950 C335.0,929.2 339.7,851.2 340,825 C340.3,798.8 338.7,802.2 342,793 Z" fill="#50FFAF"/>
<ellipse cx="355" cy="780" rx="7" ry="11" fill="#80FF80" transform="rotate(20 355 780)"/>
<path d="M222,950 C209.2,941.7 224.2,915.0 228,900 C231.8,885.0 238.0,870.0 245,860 C252.0,850.0 262.5,841.7 270,840 C277.5,838.3 284.7,841.7 290,850 C295.3,858.3 299.5,873.3 302,890 C304.5,906.7 318.3,940.0 305,950 C291.7,960.0 234.8,958.3 222,950 Z" fill="#50FFAF"/>
<path d="M438,770 C438.0,759.2 441.3,744.7 450,735 C458.7,725.3 478.3,716.5 490,712 C501.7,707.5 513.7,705.0 520,708 C526.3,711.0 529.7,720.5 528,730 C526.3,739.5 518.0,755.0 510,765 C502.0,775.0 490.0,784.2 480,790 C470.0,795.8 457.0,803.3 450,800 C443.0,796.7 438.0,780.8 438,770 Z" fill="#50FFAF"/>
<path d="M520,950 C469.2,935.0 533.3,880.0 545,860 C556.7,840.0 577.5,840.0 590,830 C602.5,820.0 611.7,808.3 620,800 C628.3,791.7 626.7,784.2 640,780 C653.3,775.8 680.0,776.7 700,775 C720.0,773.3 743.3,769.2 760,770 C776.7,770.8 786.7,781.7 800,780 C813.3,778.3 828.3,767.5 840,760 C851.7,752.5 856.7,741.7 870,735 C883.3,728.3 904.2,721.7 920,720 C935.8,718.3 955.8,720.8 965,725 C974.2,729.2 977.5,737.5 975,745 C972.5,752.5 959.2,762.5 950,770 C940.8,777.5 928.3,782.5 920,790 C911.7,797.5 908.3,810.0 900,815 C891.7,820.0 878.3,815.0 870,820 C861.7,825.0 852.5,833.3 850,845 C847.5,856.7 855.0,872.5 855,890 C855.0,907.5 905.8,940.0 850,950 C794.2,960.0 570.8,965.0 520,950 Z" fill="#50FFAF"/>
<path d="M630,950 C600.8,941.8 630.0,911.8 635,901 C640.0,890.2 649.2,886.8 660,885 C670.8,883.2 690.0,892.5 700,890 C710.0,887.5 710.0,873.7 720,870 C730.0,866.3 748.3,864.7 760,868 C771.7,871.3 781.7,876.3 790,890 C798.3,903.7 836.7,940.0 810,950 C783.3,960.0 659.2,958.2 630,950 Z" fill="#80FF80"/>
<path d="M955,870 C956.7,860.0 966.0,846.7 975,840 C984.0,833.3 996.5,831.7 1009,830 C1021.5,828.3 1043.2,810.0 1050,830 C1056.8,850.0 1060.8,930.0 1050,950 C1039.2,970.0 999.2,958.3 985,950 C970.8,941.7 970.0,913.3 965,900 C960.0,886.7 953.3,880.0 955,870 Z" fill="#50FFAF"/>
<path d="M-40,487 C-33.3,470.8 -11.7,488.3 0,488 C11.7,487.7 20.0,483.8 30,485 C40.0,486.2 48.3,492.5 60,495 C71.7,497.5 88.3,499.5 100,500 C111.7,500.5 119.2,500.8 130,498 C140.8,495.2 155.0,486.0 165,483 C175.0,480.0 182.8,478.8 190,480 C197.2,481.2 203.8,484.2 208,490 C212.2,495.8 212.2,505.0 215,515 C217.8,525.0 217.5,539.2 225,550 C232.5,560.8 250.0,571.7 260,580 C270.0,588.3 279.2,590.8 285,600 C290.8,609.2 295.8,623.3 295,635 C294.2,646.7 286.7,660.8 280,670 C273.3,679.2 262.5,690.0 255,690 C247.5,690.0 244.2,676.7 235,670 C225.8,663.3 211.7,656.7 200,650 C188.3,643.3 177.5,636.7 165,630 C152.5,623.3 137.5,616.7 125,610 C112.5,603.3 102.5,594.2 90,590 C77.5,585.8 65.0,585.8 50,585 C35.0,584.2 15.0,585.0 0,585 C-15.0,585.0 -33.3,601.3 -40,585 C-46.7,568.7 -46.7,503.2 -40,487 Z" fill="#80FF80"/>
<path d="M102,540 C104.0,533.3 112.0,525.8 120,520 C128.0,514.2 140.8,508.7 150,505 C159.2,501.3 168.3,496.3 175,498 C181.7,499.7 185.8,506.3 190,515 C194.2,523.7 194.2,538.3 200,550 C205.8,561.7 215.0,577.5 225,585 C235.0,592.5 251.7,590.0 260,595 C268.3,600.0 273.0,607.8 275,615 C277.0,622.2 275.3,633.0 272,638 C268.7,643.0 262.0,647.2 255,645 C248.0,642.8 240.8,629.2 230,625 C219.2,620.8 203.3,623.3 190,620 C176.7,616.7 160.8,610.8 150,605 C139.2,599.2 132.0,592.5 125,585 C118.0,577.5 111.8,567.5 108,560 C104.2,552.5 100.0,546.7 102,540 Z" fill="#BFFF40"/>
<path d="M132,545 C135.0,538.3 145.0,528.0 150,528 C155.0,528.0 158.7,538.8 162,545 C165.3,551.2 165.3,560.0 170,565 C174.7,570.0 187.0,570.8 190,575 C193.0,579.2 191.3,586.2 188,590 C184.7,593.8 176.7,598.3 170,598 C163.3,597.7 154.3,593.0 148,588 C141.7,583.0 134.7,575.2 132,568 C129.3,560.8 129.0,551.7 132,545 Z" fill="#EFFF10"/>
<ellipse cx="258" cy="614" rx="2" ry="2" fill="#000000"/>
<path d="M-40,520 C-33.3,513.0 -10.8,517.7 0,518 C10.8,518.3 19.2,518.3 25,522 C30.8,525.7 34.5,534.5 35,540 C35.5,545.5 33.8,551.7 28,555 C22.2,558.3 11.3,559.2 0,560 C-11.3,560.8 -33.3,566.7 -40,560 C-46.7,553.3 -46.7,527.0 -40,520 Z" fill="#BFFF40"/>
<ellipse cx="75" cy="540" rx="5" ry="5" fill="#BFFF40"/>
<path d="M-40,655 C-33.3,635.3 -11.7,655.3 0,655 C11.7,654.7 20.0,651.7 30,653 C40.0,654.3 52.5,657.7 60,663 C67.5,668.3 72.0,675.5 75,685 C78.0,694.5 79.7,709.2 78,720 C76.3,730.8 69.7,740.0 65,750 C60.3,760.0 54.2,772.5 50,780 C45.8,787.5 45.0,795.8 40,795 C35.0,794.2 26.7,778.7 20,775 C13.3,771.3 10.0,773.3 0,773 C-10.0,772.7 -33.3,792.7 -40,773 C-46.7,753.3 -46.7,674.7 -40,655 Z" fill="#80FF80"/>
<path d="M-40,680 C-33.3,669.2 -11.7,680.3 0,680 C11.7,679.7 21.7,677.5 30,678 C38.3,678.5 45.8,679.3 50,683 C54.2,686.7 56.7,693.8 55,700 C53.3,706.2 45.8,714.2 40,720 C34.2,725.8 26.7,730.8 20,735 C13.3,739.2 10.0,743.3 0,745 C-10.0,746.7 -33.3,755.8 -40,745 C-46.7,734.2 -46.7,690.8 -40,680 Z" fill="#BFFF40"/>
<ellipse cx="0" cy="703" rx="7" ry="6" fill="#EFFF10"/>
<ellipse cx="150" cy="705" rx="7" ry="14" fill="#18FFE7" transform="rotate(20 150 705)"/>
<ellipse cx="290" cy="540" rx="26" ry="23" fill="#18FFE7" transform="rotate(15 290 540)"/>
<ellipse cx="40" cy="312" rx="36" ry="28" fill="#18FFE7"/>
<ellipse cx="38" cy="312" rx="14" ry="13" fill="#00DFFF"/>
<path d="M55,430 C53.3,417.5 61.7,404.2 70,395 C78.3,385.8 92.5,376.7 105,375 C117.5,373.3 134.5,377.5 145,385 C155.5,392.5 165.5,408.3 168,420 C170.5,431.7 167.2,445.8 160,455 C152.8,464.2 138.3,472.5 125,475 C111.7,477.5 91.7,477.5 80,470 C68.3,462.5 56.7,442.5 55,430 Z" fill="#18FFE7"/>
<ellipse cx="93" cy="420" rx="16" ry="28" fill="#00DFFF" transform="rotate(35 93 420)"/>
<ellipse cx="0" cy="432" rx="10" ry="20" fill="#18FFE7"/>
<path d="M345,545 C348.3,538.3 364.2,536.7 375,530 C385.8,523.3 402.5,516.7 410,505 C417.5,493.3 416.7,470.8 420,460 C423.3,449.2 425.8,440.8 430,440 C434.2,439.2 443.0,445.0 445,455 C447.0,465.0 444.5,485.8 442,500 C439.5,514.2 436.2,528.3 430,540 C423.8,551.7 413.3,563.0 405,570 C396.7,577.0 388.3,582.0 380,582 C371.7,582.0 360.8,576.2 355,570 C349.2,563.8 341.7,551.7 345,545 Z" fill="#18FFE7"/>
<path d="M520,480 C515.8,468.3 515.8,443.3 520,430 C524.2,416.7 533.3,410.0 545,400 C556.7,390.0 576.7,379.2 590,370 C603.3,360.8 615.0,346.7 625,345 C635.0,343.3 642.5,351.7 650,360 C657.5,368.3 661.7,385.8 670,395 C678.3,404.2 690.8,415.0 700,415 C709.2,415.0 719.2,405.8 725,395 C730.8,384.2 736.7,364.2 735,350 C733.3,335.8 717.5,319.2 715,310 C712.5,300.8 712.5,296.7 720,295 C727.5,293.3 746.7,295.8 760,300 C773.3,304.2 788.3,313.3 800,320 C811.7,326.7 816.7,339.2 830,340 C843.3,340.8 863.3,330.8 880,325 C896.7,319.2 908.5,309.2 930,305 C951.5,300.8 989.0,301.2 1009,300 C1029.0,298.8 1043.2,266.3 1050,298 C1056.8,329.7 1056.8,458.0 1050,490 C1043.2,522.0 1025.7,492.5 1009,490 C992.3,487.5 968.2,478.3 950,475 C931.8,471.7 916.7,471.7 900,470 C883.3,468.3 866.7,465.0 850,465 C833.3,465.0 816.7,468.3 800,470 C783.3,471.7 766.7,477.5 750,475 C733.3,472.5 715.0,457.5 700,455 C685.0,452.5 673.3,456.7 660,460 C646.7,463.3 633.3,470.0 620,475 C606.7,480.0 592.5,485.8 580,490 C567.5,494.2 555.0,501.7 545,500 C535.0,498.3 524.2,491.7 520,480 Z" fill="#18FFE7"/>
<path d="M545,420 C548.3,410.0 559.2,405.8 570,400 C580.8,394.2 599.2,390.0 610,385 C620.8,380.0 627.5,368.3 635,370 C642.5,371.7 651.7,385.0 655,395 C658.3,405.0 660.8,421.7 655,430 C649.2,438.3 632.5,440.8 620,445 C607.5,449.2 591.7,452.5 580,455 C568.3,457.5 555.8,465.8 550,460 C544.2,454.2 541.7,430.0 545,420 Z" fill="#00DFFF"/>
<path d="M740,430 C741.7,420.3 750.8,404.2 755,390 C759.2,375.8 759.2,350.0 765,345 C770.8,340.0 782.5,353.3 790,360 C797.5,366.7 804.2,377.5 810,385 C815.8,392.5 826.7,397.5 825,405 C823.3,412.5 809.2,422.5 800,430 C790.8,437.5 779.2,447.0 770,450 C760.8,453.0 750.0,451.3 745,448 C740.0,444.7 738.3,439.7 740,430 Z" fill="#00DFFF"/>
<ellipse cx="875" cy="398" rx="20" ry="10" fill="#18FFE7" transform="rotate(15 875 398)"/>
<ellipse cx="785" cy="157" rx="30" ry="21" fill="#18FFE7" transform="rotate(-20 785 157)"/>
<ellipse cx="475" cy="135" rx="11" ry="25" fill="#80FF80" transform="rotate(35 475 135)"/>
<ellipse cx="633" cy="282" rx="6" ry="18" fill="#80FF80" transform="rotate(-10 633 282)"/>
<ellipse cx="865" cy="75" rx="10" ry="22" fill="#80FF80" transform="rotate(-20 865 75)"/>
<ellipse cx="325" cy="257" rx="5" ry="5" fill="#000000"/>
<path d="M405,-40 C355.8,-28.3 400.8,15.8 405,30 C409.2,44.2 417.5,41.7 430,45 C442.5,48.3 466.7,52.5 480,50 C493.3,47.5 500.0,37.5 510,30 C520.0,22.5 525.0,8.3 540,5 C555.0,1.7 580.0,10.8 600,10 C620.0,9.2 643.3,8.3 660,0 C676.7,-8.3 742.5,-33.3 700,-40 C657.5,-46.7 454.2,-51.7 405,-40 Z" fill="#80FF80"/>
<path d="M715,-40 C688.3,-32.5 712.5,-5.0 720,5 C727.5,15.0 746.7,13.3 760,20 C773.3,26.7 786.7,40.0 800,45 C813.3,50.0 828.3,54.2 840,50 C851.7,45.8 863.3,35.0 870,20 C876.7,5.0 905.8,-30.0 880,-40 C854.2,-50.0 741.7,-47.5 715,-40 Z" fill="#80FF80"/>
<path d="M765,240 C768.3,230.8 777.5,220.0 790,215 C802.5,210.0 825.0,213.3 840,210 C855.0,206.7 872.5,205.0 880,195 C887.5,185.0 885.8,163.3 885,150 C884.2,136.7 872.5,120.0 875,115 C877.5,110.0 892.5,112.5 900,120 C907.5,127.5 914.2,147.5 920,160 C925.8,172.5 926.7,190.0 935,195 C943.3,200.0 960.8,194.2 970,190 C979.2,185.8 983.5,174.2 990,170 C996.5,165.8 999.0,166.7 1009,165 C1019.0,163.3 1043.2,139.2 1050,160 C1056.8,180.8 1056.8,268.3 1050,290 C1043.2,311.7 1024.0,290.8 1009,290 C994.0,289.2 978.2,285.0 960,285 C941.8,285.0 918.3,285.8 900,290 C881.7,294.2 863.3,305.0 850,310 C836.7,315.0 830.0,321.7 820,320 C810.0,318.3 798.3,308.3 790,300 C781.7,291.7 774.2,280.0 770,270 C765.8,260.0 761.7,249.2 765,240 Z" fill="#80FF80"/>
<path d="M105,-40 C96.7,-32.5 105.0,-3.7 110,5 C115.0,13.7 127.5,12.8 135,12 C142.5,11.2 150.8,8.7 155,0 C159.2,-8.7 168.3,-33.3 160,-40 C151.7,-46.7 113.3,-47.5 105,-40 Z" fill="#18FFE7"/>
<path d="M245,400 C248.3,390.8 255.8,377.5 265,370 C274.2,362.5 292.2,352.5 300,355 C307.8,357.5 308.7,372.5 312,385 C315.3,397.5 315.3,419.2 320,430 C324.7,440.8 331.7,445.8 340,450 C348.3,454.2 363.3,450.8 370,455 C376.7,459.2 380.8,469.2 380,475 C379.2,480.8 373.3,488.3 365,490 C356.7,491.7 342.5,488.3 330,485 C317.5,481.7 301.7,475.8 290,470 C278.3,464.2 267.5,457.5 260,450 C252.5,442.5 247.5,433.3 245,425 C242.5,416.7 241.7,409.2 245,400 Z" fill="#BFFF40"/>
<ellipse cx="285" cy="432" rx="11" ry="25" fill="#EFFF10" transform="rotate(-10 285 432)"/>
<path d="M365,355 C366.3,345.8 372.2,335.0 378,330 C383.8,325.0 393.0,322.5 400,325 C407.0,327.5 415.0,343.3 420,345 C425.0,346.7 425.3,334.2 430,335 C434.7,335.8 445.5,345.0 448,350 C450.5,355.0 450.5,361.7 445,365 C439.5,368.3 424.2,366.2 415,370 C405.8,373.8 397.5,385.5 390,388 C382.5,390.5 374.2,390.5 370,385 C365.8,379.5 363.7,364.2 365,355 Z" fill="#BFFF40"/>
<path d="M475,570 C480.3,560.8 498.3,556.7 510,555 C521.7,553.3 537.0,555.8 545,560 C553.0,564.2 558.8,571.7 558,580 C557.2,588.3 548.0,600.0 540,610 C532.0,620.0 519.2,633.7 510,640 C500.8,646.3 490.3,653.0 485,648 C479.7,643.0 479.7,623.0 478,610 C476.3,597.0 469.7,579.2 475,570 Z" fill="#BFFF40"/>
<ellipse cx="508" cy="600" rx="13" ry="18" fill="#EFFF10"/>
<path d="M600,520 C601.7,512.5 616.7,510.0 630,505 C643.3,500.0 663.3,491.7 680,490 C696.7,488.3 713.3,491.7 730,495 C746.7,498.3 763.3,508.3 780,510 C796.7,511.7 813.3,503.3 830,505 C846.7,506.7 861.7,515.8 880,520 C898.3,524.2 918.5,525.0 940,530 C961.5,535.0 990.7,545.0 1009,550 C1027.3,555.0 1043.2,545.0 1050,560 C1056.8,575.0 1056.8,625.0 1050,640 C1043.2,655.0 1024.0,645.8 1009,650 C994.0,654.2 974.8,665.0 960,665 C945.2,665.0 931.7,657.5 920,650 C908.3,642.5 898.3,630.0 890,620 C881.7,610.0 878.3,597.5 870,590 C861.7,582.5 853.3,578.3 840,575 C826.7,571.7 806.7,568.3 790,570 C773.3,571.7 756.7,581.7 740,585 C723.3,588.3 705.0,590.0 690,590 C675.0,590.0 661.7,591.7 650,585 C638.3,578.3 628.3,560.8 620,550 C611.7,539.2 598.3,527.5 600,520 Z" fill="#BFFF40"/>
<ellipse cx="700" cy="530" rx="38" ry="32" fill="#EFFF10"/>
<path d="M905,600 C904.2,590.0 910.8,576.7 920,570 C929.2,563.3 945.2,560.0 960,560 C974.8,560.0 994.0,567.5 1009,570 C1024.0,572.5 1043.2,566.7 1050,575 C1056.8,583.3 1056.8,611.7 1050,620 C1043.2,628.3 1024.0,622.0 1009,625 C994.0,628.0 974.0,637.2 960,638 C946.0,638.8 934.2,636.3 925,630 C915.8,623.7 905.8,610.0 905,600 Z" fill="#EFFF10"/>
</g></g>
<g class="f" clip-path="url(#c10)"><g transform="translate(774,252) scale(0.204165)">
<path d="M-40,165 C-33.3,199.2 -11.7,167.5 0,165 C11.7,162.5 21.7,159.2 30,150 C38.3,140.8 41.7,122.5 50,110 C58.3,97.5 68.3,84.2 80,75 C91.7,65.8 106.7,56.7 120,55 C133.3,53.3 151.7,59.2 160,65 C168.3,70.8 170.8,82.5 170,90 C169.2,97.5 156.7,104.2 155,110 C153.3,115.8 154.2,126.7 160,125 C165.8,123.3 178.3,106.7 190,100 C201.7,93.3 215.0,85.8 230,85 C245.0,84.2 265.0,90.0 280,95 C295.0,100.0 306.7,110.0 320,115 C333.3,120.0 346.7,123.3 360,125 C373.3,126.7 391.7,128.3 400,125 C408.3,121.7 401.7,107.5 410,105 C418.3,102.5 435.0,106.7 450,110 C465.0,113.3 485.0,120.8 500,125 C515.0,129.2 527.5,135.8 540,135 C552.5,134.2 566.7,125.8 575,120 C583.3,114.2 590.8,105.8 590,100 C589.2,94.2 578.3,85.8 570,85 C561.7,84.2 551.7,95.8 540,95 C528.3,94.2 511.7,85.8 500,80 C488.3,74.2 475.8,70.0 470,60 C464.2,50.0 467.5,36.7 465,20 C462.5,3.3 539.2,-30.0 455,-40 C370.8,-50.0 42.5,-74.2 -40,-40 C-122.5,-5.8 -46.7,130.8 -40,165 Z" fill="#50FFAF"/>
<ellipse cx="600" cy="25" rx="10" ry="10" fill="#80FF80"/>
<ellipse cx="418" cy="2" rx="12" ry="7" fill="#80FF80"/>
<path d="M625,100 C623.3,89.2 637.5,73.3 640,60 C642.5,46.7 638.3,36.7 640,20 C641.7,3.3 638.3,-30.0 650,-40 C661.7,-50.0 698.3,-50.0 710,-40 C721.7,-30.0 715.8,3.3 720,20 C724.2,36.7 731.7,43.3 735,60 C738.3,76.7 740.0,103.3 740,120 C740.0,136.7 740.0,151.7 735,160 C730.0,168.3 719.2,171.7 710,170 C700.8,168.3 690.0,157.5 680,150 C670.0,142.5 659.2,133.3 650,125 C640.8,116.7 626.7,110.8 625,100 Z" fill="#50FFAF"/>
<path d="M790,-40 C774.2,-31.7 791.7,-4.2 800,10 C808.3,24.2 826.7,39.2 840,45 C853.3,50.8 870.8,49.2 880,45 C889.2,40.8 892.5,34.2 895,20 C897.5,5.8 912.5,-30.0 895,-40 C877.5,-50.0 805.8,-48.3 790,-40 Z" fill="#50FFAF"/>
<ellipse cx="850" cy="3" rx="10" ry="8" fill="#80FF80"/>
<path d="M842,125 C843.7,116.2 852.8,105.8 860,105 C867.2,104.2 877.5,112.5 885,120 C892.5,127.5 900.8,140.8 905,150 C909.2,159.2 913.3,171.3 910,175 C906.7,178.7 895.0,174.8 885,172 C875.0,169.2 857.2,165.8 850,158 C842.8,150.2 840.3,133.8 842,125 Z" fill="#50FFAF"/>
<path d="M750,230 C743.3,224.5 755.0,205.8 760,195 C765.0,184.2 770.8,171.2 780,165 C789.2,158.8 806.7,155.5 815,158 C823.3,160.5 828.3,170.5 830,180 C831.7,189.5 830.0,207.0 825,215 C820.0,223.0 812.5,225.5 800,228 C787.5,230.5 756.7,235.5 750,230 Z" fill="#50FFAF"/>
<path d="M840,255 C844.2,247.0 863.3,247.8 870,252 C876.7,256.2 880.8,271.2 880,280 C879.2,288.8 869.2,296.7 865,305 C860.8,313.3 858.3,330.8 855,330 C851.7,329.2 847.5,312.5 845,300 C842.5,287.5 835.8,263.0 840,255 Z" fill="#50FFAF"/>
<ellipse cx="908" cy="370" rx="20" ry="13" fill="#50FFAF" transform="rotate(20 908 370)"/>
<path d="M730,370 C730.0,358.3 737.5,343.3 745,335 C752.5,326.7 765.0,319.2 775,320 C785.0,320.8 795.8,334.2 805,340 C814.2,345.8 826.2,345.0 830,355 C833.8,365.0 831.3,385.8 828,400 C824.7,414.2 815.5,431.3 810,440 C804.5,448.7 801.7,453.7 795,452 C788.3,450.3 778.3,437.8 770,430 C761.7,422.2 751.7,415.0 745,405 C738.3,395.0 730.0,381.7 730,370 Z" fill="#50FFAF"/>
<ellipse cx="822" cy="735" rx="17" ry="42" fill="#50FFAF" transform="rotate(10 822 735)"/>
<path d="M215,210 C217.2,199.2 227.5,185.0 235,175 C242.5,165.0 249.2,154.2 260,150 C270.8,145.8 291.3,155.3 300,150 C308.7,144.7 307.8,123.0 312,118 C316.2,113.0 320.7,112.2 325,120 C329.3,127.8 337.2,153.3 338,165 C338.8,176.7 337.2,185.0 330,190 C322.8,195.0 305.8,190.0 295,195 C284.2,200.0 274.2,210.8 265,220 C255.8,229.2 247.2,246.7 240,250 C232.8,253.3 226.2,246.7 222,240 C217.8,233.3 212.8,220.8 215,210 Z" fill="#50FFAF"/>
<ellipse cx="150" cy="215" rx="25" ry="18" fill="#50FFAF" transform="rotate(-35 150 215)"/>
<ellipse cx="367" cy="265" rx="16" ry="18" fill="#50FFAF" transform="rotate(-20 367 265)"/>
<path d="M-40,268 C-33.3,154.3 -15.0,269.0 0,268 C15.0,267.0 35.0,261.7 50,262 C65.0,262.3 76.7,264.5 90,270 C103.3,275.5 118.3,290.0 130,295 C141.7,300.0 148.3,295.8 160,300 C171.7,304.2 176.7,315.0 200,320 C223.3,325.0 266.7,328.3 300,330 C333.3,331.7 374.2,330.0 400,330 C425.8,330.0 447.5,335.0 455,330 C462.5,325.0 450.8,307.5 445,300 C439.2,292.5 427.5,291.3 420,285 C412.5,278.7 400.0,269.8 400,262 C400.0,254.2 411.7,241.7 420,238 C428.3,234.3 441.7,235.5 450,240 C458.3,244.5 463.3,256.7 470,265 C476.7,273.3 481.7,284.2 490,290 C498.3,295.8 510.0,297.5 520,300 C530.0,302.5 540.0,307.5 550,305 C560.0,302.5 568.3,292.5 580,285 C591.7,277.5 606.7,265.8 620,260 C633.3,254.2 648.3,249.7 660,250 C671.7,250.3 684.2,253.7 690,262 C695.8,270.3 695.0,287.0 695,300 C695.0,313.0 694.2,326.7 690,340 C685.8,353.3 676.7,368.3 670,380 C663.3,391.7 656.7,400.0 650,410 C643.3,420.0 636.7,439.2 630,440 C623.3,440.8 615.0,423.3 610,415 C605.0,406.7 604.2,393.3 600,390 C595.8,386.7 586.7,386.7 585,395 C583.3,403.3 588.3,425.8 590,440 C591.7,454.2 590.0,471.7 595,480 C600.0,488.3 610.8,488.3 620,490 C629.2,491.7 641.7,485.0 650,490 C658.3,495.0 663.3,509.2 670,520 C676.7,530.8 681.7,550.8 690,555 C698.3,559.2 710.8,548.3 720,545 C729.2,541.7 740.0,532.5 745,535 C750.0,537.5 750.0,549.2 750,560 C750.0,570.8 751.7,589.2 745,600 C738.3,610.8 719.2,616.7 710,625 C700.8,633.3 695.0,639.2 690,650 C685.0,660.8 688.3,682.5 680,690 C671.7,697.5 655.0,696.7 640,695 C625.0,693.3 603.0,680.0 590,680 C577.0,680.0 566.2,688.3 562,695 C557.8,701.7 558.7,711.7 565,720 C571.3,728.3 585.8,735.0 600,745 C614.2,755.0 633.3,767.5 650,780 C666.7,792.5 683.3,810.0 700,820 C716.7,830.0 738.3,833.3 750,840 C761.7,846.7 767.5,841.7 770,860 C772.5,878.3 900.0,935.0 765,950 C630.0,965.0 94.2,1063.7 -40,950 C-174.2,836.3 -46.7,381.7 -40,268 Z" fill="#50FFAF"/>
<path d="M465,520 C464.2,506.7 465.8,491.7 470,480 C474.2,468.3 482.5,454.7 490,450 C497.5,445.3 509.2,447.0 515,452 C520.8,457.0 519.2,472.0 525,480 C530.8,488.0 540.8,492.5 550,500 C559.2,507.5 574.2,516.7 580,525 C585.8,533.3 587.5,541.7 585,550 C582.5,558.3 570.0,567.5 565,575 C560.0,582.5 559.2,594.2 555,595 C550.8,595.8 547.5,585.0 540,580 C532.5,575.0 520.8,568.3 510,565 C499.2,561.7 482.5,567.5 475,560 C467.5,552.5 465.8,533.3 465,520 Z" fill="#80FF80"/>
<ellipse cx="372" cy="480" rx="12" ry="18" fill="#80FF80" transform="rotate(15 372 480)"/>
<ellipse cx="555" cy="380" rx="9" ry="11" fill="#80FF80"/>
<path d="M225,950 C218.3,935.0 225.0,880.8 230,860 C235.0,839.2 247.5,830.0 255,825 C262.5,820.0 273.3,822.5 275,830 C276.7,837.5 265.8,850.0 265,870 C264.2,890.0 276.7,936.7 270,950 C263.3,963.3 231.7,965.0 225,950 Z" fill="#80FF80"/>
<path d="M-40,520 C-33.3,468.0 -16.7,518.3 0,520 C16.7,521.7 40.0,526.7 60,530 C80.0,533.3 103.3,535.0 120,540 C136.7,545.0 143.3,555.8 160,560 C176.7,564.2 198.3,560.8 220,565 C241.7,569.2 270.0,579.2 290,585 C310.0,590.8 326.7,593.3 340,600 C353.3,606.7 360.0,616.7 370,625 C380.0,633.3 386.7,643.7 400,650 C413.3,656.3 433.3,656.7 450,663 C466.7,669.3 485.5,678.2 500,688 C514.5,697.8 528.8,705.0 537,722 C545.2,739.0 546.2,768.7 549,790 C551.8,811.3 545.5,835.0 554,850 C562.5,865.0 584.0,863.3 600,880 C616.0,896.7 645.0,938.3 650,950 C655.0,961.7 640.0,959.5 630,950 C620.0,940.5 604.2,907.7 590,893 C575.8,878.3 553.5,879.2 545,862 C536.5,844.8 542.3,811.7 539,790 C535.7,768.3 532.3,747.0 525,732 C517.7,717.0 507.5,709.0 495,700 C482.5,691.0 463.3,679.7 450,678 C436.7,676.3 423.3,686.3 415,690 C406.7,693.7 407.5,695.0 400,700 C392.5,705.0 381.7,710.0 370,720 C358.3,730.0 348.3,755.8 330,760 C311.7,764.2 281.7,746.7 260,745 C238.3,743.3 218.3,745.8 200,750 C181.7,754.2 173.3,760.0 150,770 C126.7,780.0 85.0,800.0 60,810 C35.0,820.0 16.7,826.3 0,830 C-16.7,833.7 -33.3,883.7 -40,832 C-46.7,780.3 -46.7,572.0 -40,520 Z" fill="#80FF80"/>
<path d="M170,250 C172.8,244.2 177.5,230.8 185,235 C192.5,239.2 204.2,270.5 215,275 C225.8,279.5 237.5,267.3 250,262 C262.5,256.7 276.7,243.3 290,243 C303.3,242.7 316.7,253.0 330,260 C343.3,267.0 356.7,277.5 370,285 C383.3,292.5 396.7,299.2 410,305 C423.3,310.8 442.5,312.5 450,320 C457.5,327.5 456.7,339.2 455,350 C453.3,360.8 447.5,375.3 440,385 C432.5,394.7 421.7,407.2 410,408 C398.3,408.8 388.3,398.8 370,390 C351.7,381.2 323.3,365.0 300,355 C276.7,345.0 250.0,339.2 230,330 C210.0,320.8 190.3,310.0 180,300 C169.7,290.0 169.7,278.3 168,270 C166.3,261.7 167.2,255.8 170,250 Z" fill="#BFFF40"/>
<path d="M-40,325 C-33.3,296.7 -11.7,330.8 0,325 C11.7,319.2 20.0,297.2 30,290 C40.0,282.8 50.8,280.3 60,282 C69.2,283.7 79.2,288.7 85,300 C90.8,311.3 92.5,335.8 95,350 C97.5,364.2 94.2,380.8 100,385 C105.8,389.2 118.3,379.2 130,375 C141.7,370.8 156.7,363.3 170,360 C183.3,356.7 195.0,353.3 210,355 C225.0,356.7 245.0,363.3 260,370 C275.0,376.7 290.3,385.8 300,395 C309.7,404.2 318.0,415.8 318,425 C318.0,434.2 309.7,443.3 300,450 C290.3,456.7 272.5,458.3 260,465 C247.5,471.7 235.0,482.2 225,490 C215.0,497.8 209.2,512.0 200,512 C190.8,512.0 180.0,495.3 170,490 C160.0,484.7 151.7,479.2 140,480 C128.3,480.8 113.3,491.7 100,495 C86.7,498.3 76.7,500.0 60,500 C43.3,500.0 16.7,495.8 0,495 C-16.7,494.2 -33.3,523.3 -40,495 C-46.7,466.7 -46.7,353.3 -40,325 Z" fill="#18FFE7"/>
<path d="M200,285 C201.7,280.5 206.7,280.2 215,278 C223.3,275.8 237.5,275.0 250,272 C262.5,269.0 276.7,259.5 290,260 C303.3,260.5 315.0,268.3 330,275 C345.0,281.7 365.0,292.5 380,300 C395.0,307.5 411.7,312.5 420,320 C428.3,327.5 430.8,335.8 430,345 C429.2,354.2 422.5,369.2 415,375 C407.5,380.8 397.5,382.5 385,380 C372.5,377.5 355.8,366.7 340,360 C324.2,353.3 306.7,346.7 290,340 C273.3,333.3 254.2,325.8 240,320 C225.8,314.2 211.7,310.8 205,305 C198.3,299.2 198.3,289.5 200,285 Z" fill="#BFFF40"/>
<path d="M255,290 C258.8,284.2 274.2,277.0 285,277 C295.8,277.0 307.5,284.2 320,290 C332.5,295.8 347.5,304.5 360,312 C372.5,319.5 389.7,327.3 395,335 C400.3,342.7 398.7,355.5 392,358 C385.3,360.5 369.5,355.0 355,350 C340.5,345.0 320.5,334.3 305,328 C289.5,321.7 270.3,318.3 262,312 C253.7,305.7 251.2,295.8 255,290 Z" fill="#EFFF10"/>
<path d="M465,170 C470.0,165.8 494.2,166.7 510,165 C525.8,163.3 545.0,162.5 560,160 C575.0,157.5 590.0,146.7 600,150 C610.0,153.3 609.7,170.0 620,180 C630.3,190.0 662.0,202.5 662,210 C662.0,217.5 632.8,220.0 620,225 C607.2,230.0 595.0,232.5 585,240 C575.0,247.5 569.2,263.3 560,270 C550.8,276.7 537.5,283.3 530,280 C522.5,276.7 519.2,262.5 515,250 C510.8,237.5 510.8,215.0 505,205 C499.2,195.0 486.7,195.8 480,190 C473.3,184.2 460.0,174.2 465,170 Z" fill="#BFFF40"/>
<path d="M-40,550 C-33.3,538.3 -13.3,548.3 0,550 C13.3,551.7 26.7,555.0 40,560 C53.3,565.0 66.7,575.0 80,580 C93.3,585.0 105.0,586.7 120,590 C135.0,593.3 151.7,595.0 170,600 C188.3,605.0 210.0,613.3 230,620 C250.0,626.7 271.7,632.5 290,640 C308.3,647.5 329.2,656.7 340,665 C350.8,673.3 354.2,680.8 355,690 C355.8,699.2 350.8,712.5 345,720 C339.2,727.5 330.8,735.0 320,735 C309.2,735.0 295.0,725.8 280,720 C265.0,714.2 248.3,705.0 230,700 C211.7,695.0 191.7,693.3 170,690 C148.3,686.7 120.0,686.7 100,680 C80.0,673.3 66.7,659.2 50,650 C33.3,640.8 15.0,630.0 0,625 C-15.0,620.0 -33.3,632.5 -40,620 C-46.7,607.5 -46.7,561.7 -40,550 Z" fill="#BFFF40"/>
<path d="M-40,575 C-33.3,571.3 -11.7,576.7 0,578 C11.7,579.3 20.0,580.2 30,583 C40.0,585.8 51.3,589.7 60,595 C68.7,600.3 78.7,608.3 82,615 C85.3,621.7 84.5,630.8 80,635 C75.5,639.2 65.0,642.5 55,640 C45.0,637.5 29.2,625.3 20,620 C10.8,614.7 10.0,611.3 0,608 C-10.0,604.7 -33.3,605.5 -40,600 C-46.7,594.5 -46.7,578.7 -40,575 Z" fill="#EFFF10"/>
<path d="M400,700 C402.5,706.7 408.3,725.0 415,740 C421.7,755.0 432.5,775.0 440,790 C447.5,805.0 460.0,817.5 460,830 C460.0,842.5 450.0,857.5 440,865 C430.0,872.5 412.5,868.3 400,875 C387.5,881.7 370.8,900.0 365,905" fill="none"/>
<ellipse cx="695" cy="428" rx="3" ry="5" fill="#000000"/>
<path d="M859,640 L876,640 L876,658 L859,658 Z" fill="#80FF80"/>
</g></g>
<g class="f" clip-path="url(#c11)"><g transform="translate(156,436) scale(0.204165)">
<path d="M440,100 C453.3,81.7 471.7,85.0 480,90 C488.3,95.0 488.7,114.2 490,130 C491.3,145.8 483.0,176.7 488,185 C493.0,193.3 508.0,184.2 520,180 C532.0,175.8 546.7,165.0 560,160 C573.3,155.0 585.0,155.0 600,150 C615.0,145.0 633.3,135.3 650,130 C666.7,124.7 681.7,122.2 700,118 C718.3,113.8 740.0,108.5 760,105 C780.0,101.5 800.0,98.2 820,97 C840.0,95.8 860.0,95.8 880,98 C900.0,100.2 918.5,105.5 940,110 C961.5,114.5 990.7,121.7 1009,125 C1027.3,128.3 1043.2,101.2 1050,130 C1056.8,158.8 1056.8,270.5 1050,298 C1043.2,325.5 1024.0,294.7 1009,295 C994.0,295.3 978.2,298.3 960,300 C941.8,301.7 918.0,303.0 900,305 C882.0,307.0 858.7,306.2 852,312 C845.3,317.8 859.5,329.5 860,340 C860.5,350.5 861.7,368.3 855,375 C848.3,381.7 829.2,385.0 820,380 C810.8,375.0 810.0,355.0 800,345 C790.0,335.0 776.7,325.8 760,320 C743.3,314.2 718.3,310.0 700,310 C681.7,310.0 666.7,313.3 650,320 C633.3,326.7 615.0,340.8 600,350 C585.0,359.2 575.0,369.2 560,375 C545.0,380.8 525.0,387.5 510,385 C495.0,382.5 480.0,369.2 470,360 C460.0,350.8 456.7,340.0 450,330 C443.3,320.0 438.3,321.7 430,300 C421.7,278.3 398.3,233.3 400,200 C401.7,166.7 426.7,118.3 440,100 Z" fill="#50FFAF"/>
<path d="M498,275 C501.3,265.0 509.7,250.0 520,240 C530.3,230.0 545.0,223.3 560,215 C575.0,206.7 590.0,197.5 610,190 C630.0,182.5 658.3,176.7 680,170 C701.7,163.3 720.0,157.5 740,150 C760.0,142.5 781.7,130.8 800,125 C818.3,119.2 833.3,115.0 850,115 C866.7,115.0 884.2,119.2 900,125 C915.8,130.8 934.2,140.0 945,150 C955.8,160.0 964.2,174.2 965,185 C965.8,195.8 959.2,206.7 950,215 C940.8,223.3 926.7,231.7 910,235 C893.3,238.3 870.0,236.7 850,235 C830.0,233.3 810.0,227.5 790,225 C770.0,222.5 751.7,220.0 730,220 C708.3,220.0 680.0,220.8 660,225 C640.0,229.2 624.2,235.8 610,245 C595.8,254.2 585.8,268.3 575,280 C564.2,291.7 554.2,308.3 545,315 C535.8,321.7 527.5,322.5 520,320 C512.5,317.5 503.7,307.5 500,300 C496.3,292.5 494.7,285.0 498,275 Z" fill="#18FFE7"/>
<path d="M819,162 L831,162 L831,174 L819,174 Z" fill="#18FFE7"/>
<ellipse cx="560" cy="112" rx="20" ry="28" fill="#BFFF40" transform="rotate(15 560 112)"/>
<path d="M820,35 C822.5,28.3 836.7,17.5 850,10 C863.3,2.5 883.3,-9.2 900,-10 C916.7,-10.8 935.8,-1.7 950,5 C964.2,11.7 976.7,20.8 985,30 C993.3,39.2 1002.5,51.7 1000,60 C997.5,68.3 983.3,78.3 970,80 C956.7,81.7 936.7,73.3 920,70 C903.3,66.7 884.2,63.3 870,60 C855.8,56.7 843.3,54.2 835,50 C826.7,45.8 817.5,41.7 820,35 Z" fill="#BFFF40"/>
<ellipse cx="775" cy="40" rx="30" ry="12" fill="#BFFF40" transform="rotate(10 775 40)"/>
<path d="M540,520 C537.8,509.2 531.7,490.8 535,480 C538.3,469.2 549.2,462.5 560,455 C570.8,447.5 586.7,440.8 600,435 C613.3,429.2 629.2,419.2 640,420 C650.8,420.8 655.0,433.3 665,440 C675.0,446.7 687.5,451.7 700,460 C712.5,468.3 729.2,480.0 740,490 C750.8,500.0 761.7,509.2 765,520 C768.3,530.8 765.0,546.7 760,555 C755.0,563.3 744.2,571.7 735,570 C725.8,568.3 714.2,555.0 705,545 C695.8,535.0 688.3,520.8 680,510 C671.7,499.2 663.3,481.7 655,480 C646.7,478.3 639.2,491.7 630,500 C620.8,508.3 610.0,521.7 600,530 C590.0,538.3 578.7,547.5 570,550 C561.3,552.5 553.0,550.0 548,545 C543.0,540.0 542.2,530.8 540,520 Z" fill="#BFFF40"/>
<path d="M835,575 C840.0,566.7 858.3,557.8 870,550 C881.7,542.2 895.8,527.2 905,528 C914.2,528.8 919.5,546.3 925,555 C930.5,563.7 939.7,570.0 938,580 C936.3,590.0 924.7,603.0 915,615 C905.3,627.0 890.0,650.3 880,652 C870.0,653.7 861.7,633.7 855,625 C848.3,616.3 843.3,608.3 840,600 C836.7,591.7 830.0,583.3 835,575 Z" fill="#BFFF40"/>
<path d="M962,530 C964.5,523.3 975.3,512.5 980,515 C984.7,517.5 987.5,535.0 990,545 C992.5,555.0 997.5,570.5 995,575 C992.5,579.5 980.0,575.3 975,572 C970.0,568.7 967.2,562.0 965,555 C962.8,548.0 959.5,536.7 962,530 Z" fill="#BFFF40"/>
<path d="M290,600 C293.3,586.7 300.8,570.8 310,560 C319.2,549.2 335.0,535.0 345,535 C355.0,535.0 362.5,547.5 370,560 C377.5,572.5 383.3,597.5 390,610 C396.7,622.5 400.0,635.0 410,635 C420.0,635.0 438.3,620.0 450,610 C461.7,600.0 471.7,583.3 480,575 C488.3,566.7 493.3,559.2 500,560 C506.7,560.8 512.5,571.7 520,580 C527.5,588.3 533.3,605.0 545,610 C556.7,615.0 574.2,610.8 590,610 C605.8,609.2 621.7,604.2 640,605 C658.3,605.8 680.0,611.7 700,615 C720.0,618.3 744.2,621.7 760,625 C775.8,628.3 788.3,622.5 795,635 C801.7,647.5 798.3,679.2 800,700 C801.7,720.8 805.8,741.7 805,760 C804.2,778.3 802.5,798.3 795,810 C787.5,821.7 775.8,826.7 760,830 C744.2,833.3 718.3,830.3 700,830 C681.7,829.7 666.7,826.3 650,828 C633.3,829.7 613.3,833.0 600,840 C586.7,847.0 577.5,851.7 570,870 C562.5,888.3 581.7,936.7 555,950 C528.3,963.3 429.2,961.7 410,950 C390.8,938.3 430.0,895.0 440,880 C450.0,865.0 460.0,866.7 470,860 C480.0,853.3 490.3,848.3 500,840 C509.7,831.7 524.7,818.3 528,810 C531.3,801.7 528.0,797.5 520,790 C512.0,782.5 495.0,773.3 480,765 C465.0,756.7 446.7,750.8 430,740 C413.3,729.2 398.3,710.0 380,700 C361.7,690.0 335.0,690.0 320,680 C305.0,670.0 295.0,653.3 290,640 C285.0,626.7 286.7,613.3 290,600 Z" fill="#50FFAF"/>
<path d="M850,950 C816.7,925.0 846.7,833.3 850,800 C853.3,766.7 861.7,764.2 870,750 C878.3,735.8 888.3,724.2 900,715 C911.7,705.8 931.7,695.8 940,695 C948.3,694.2 953.3,700.8 950,710 C946.7,719.2 928.3,735.0 920,750 C911.7,765.0 901.7,785.0 900,800 C898.3,815.0 901.7,830.0 910,840 C918.3,850.0 933.5,858.3 950,860 C966.5,861.7 992.3,852.5 1009,850 C1025.7,847.5 1043.2,828.3 1050,845 C1056.8,861.7 1083.3,932.5 1050,950 C1016.7,967.5 883.3,975.0 850,950 Z" fill="#50FFAF"/>
</g></g>
<g class="f" clip-path="url(#c12)"><g transform="translate(156,436) scale(0.102082)">
<path d="M-20,-20 L1030,-20 L1030,920 L-20,920 Z" fill="#80FF80"/>
<path d="M45,330 C41.7,306.7 38.3,241.7 40,200 C41.7,158.3 46.7,110.0 55,80 C63.3,50.0 74.2,31.7 90,20 C105.8,8.3 134.2,6.7 150,10 C165.8,13.3 178.3,23.3 185,40 C191.7,56.7 192.5,86.7 190,110 C187.5,133.3 180.0,158.3 170,180 C160.0,201.7 144.2,220.0 130,240 C115.8,260.0 96.7,283.3 85,300 C73.3,316.7 66.7,335.0 60,340 C53.3,345.0 48.3,353.3 45,330 Z" fill="#BFFF40"/>
<path d="M65,250 C61.7,233.3 57.5,181.7 60,150 C62.5,118.3 70.0,80.0 80,60 C90.0,40.0 106.7,33.3 120,30 C133.3,26.7 151.7,28.3 160,40 C168.3,51.7 171.7,78.3 170,100 C168.3,121.7 160.0,150.0 150,170 C140.0,190.0 121.7,206.7 110,220 C98.3,233.3 87.5,245.0 80,250 C72.5,255.0 68.3,266.7 65,250 Z" fill="#EFFF10"/>
<path d="M90,190 C86.7,177.5 82.5,140.8 85,120 C87.5,99.2 95.8,75.0 105,65 C114.2,55.0 132.5,54.2 140,60 C147.5,65.8 151.7,83.3 150,100 C148.3,116.7 137.5,144.2 130,160 C122.5,175.8 111.7,190.0 105,195 C98.3,200.0 93.3,202.5 90,190 Z" fill="#FFCF00"/>
<path d="M50,920 C33.3,866.7 46.7,673.3 50,600 C53.3,526.7 61.7,516.7 70,480 C78.3,443.3 88.3,408.3 100,380 C111.7,351.7 125.0,328.3 140,310 C155.0,291.7 173.3,273.3 190,270 C206.7,266.7 223.3,276.7 240,290 C256.7,303.3 273.3,330.0 290,350 C306.7,370.0 325.0,390.0 340,410 C355.0,430.0 375.0,451.7 380,470 C385.0,488.3 376.7,505.0 370,520 C363.3,535.0 350.0,545.0 340,560 C330.0,575.0 318.3,593.3 310,610 C301.7,626.7 298.3,645.0 290,660 C281.7,675.0 271.7,686.7 260,700 C248.3,713.3 230.8,731.7 220,740 C209.2,748.3 203.3,755.0 195,750 C186.7,745.0 177.5,721.7 170,710 C162.5,698.3 155.0,681.7 150,680 C145.0,678.3 140.8,680.0 140,700 C139.2,720.0 143.3,763.3 145,800 C146.7,836.7 165.8,900.0 150,920 C134.2,940.0 66.7,973.3 50,920 Z" fill="#50FFAF"/>
<path d="M205,490 C205.0,466.7 209.2,445.8 215,430 C220.8,414.2 230.0,401.7 240,395 C250.0,388.3 264.2,385.8 275,390 C285.8,394.2 297.2,405.0 305,420 C312.8,435.0 319.8,460.0 322,480 C324.2,500.0 323.3,520.0 318,540 C312.7,560.0 300.5,583.3 290,600 C279.5,616.7 265.0,635.0 255,640 C245.0,645.0 236.7,641.7 230,630 C223.3,618.3 219.2,593.3 215,570 C210.8,546.7 205.0,513.3 205,490 Z" fill="#18FFE7"/>
<path d="M250,505 C252.2,495.0 258.3,497.2 265,495 C271.7,492.8 286.7,484.5 290,492 C293.3,499.5 288.3,528.7 285,540 C281.7,551.3 275.5,557.5 270,560 C264.5,562.5 255.3,564.2 252,555 C248.7,545.8 247.8,515.0 250,505 Z" fill="#00DFFF"/>
<path d="M470,60 C473.7,49.2 485.0,47.5 500,45 C515.0,42.5 545.0,40.8 560,45 C575.0,49.2 583.3,55.8 590,70 C596.7,84.2 593.3,110.0 600,130 C606.7,150.0 618.3,170.0 630,190 C641.7,210.0 655.0,235.8 670,250 C685.0,264.2 700.0,271.7 720,275 C740.0,278.3 768.3,274.2 790,270 C811.7,265.8 831.7,261.7 850,250 C868.3,238.3 885.0,211.7 900,200 C915.0,188.3 928.3,181.7 940,180 C951.7,178.3 963.3,178.3 970,190 C976.7,201.7 977.5,223.3 980,250 C982.5,276.7 980.2,330.0 985,350 C989.8,370.0 1001.5,366.3 1009,370 C1016.5,373.7 1026.5,307.0 1030,372 C1033.5,437.0 1033.5,695.3 1030,760 C1026.5,824.7 1020.7,766.7 1009,760 C997.3,753.3 974.8,731.7 960,720 C945.2,708.3 933.3,703.3 920,690 C906.7,676.7 890.0,655.0 880,640 C870.0,625.0 866.7,605.0 860,600 C853.3,595.0 850.0,600.0 840,610 C830.0,620.0 811.7,646.7 800,660 C788.3,673.3 781.7,681.7 770,690 C758.3,698.3 738.3,698.3 730,710 C721.7,721.7 720.8,740.0 720,760 C719.2,780.0 725.8,811.7 725,830 C724.2,848.3 720.8,865.0 715,870 C709.2,875.0 699.2,871.7 690,860 C680.8,848.3 670.0,821.7 660,800 C650.0,778.3 638.3,755.0 630,730 C621.7,705.0 616.7,671.7 610,650 C603.3,628.3 601.7,611.7 590,600 C578.3,588.3 555.0,586.7 540,580 C525.0,573.3 515.0,570.0 500,560 C485.0,550.0 465.0,532.5 450,520 C435.0,507.5 411.7,500.0 410,485 C408.3,470.0 428.3,450.8 440,430 C451.7,409.2 467.5,385.0 480,360 C492.5,335.0 508.3,300.0 515,280 C521.7,260.0 522.5,256.7 520,240 C517.5,223.3 507.0,201.7 500,180 C493.0,158.3 483.0,130.0 478,110 C473.0,90.0 466.3,70.8 470,60 Z" fill="#50FFAF"/>
<path d="M560,400 C561.3,378.3 563.3,347.5 570,330 C576.7,312.5 586.7,300.0 600,295 C613.3,290.0 635.8,292.5 650,300 C664.2,307.5 678.3,323.3 685,340 C691.7,356.7 690.8,378.3 690,400 C689.2,421.7 685.8,448.3 680,470 C674.2,491.7 665.8,516.7 655,530 C644.2,543.3 627.5,551.7 615,550 C602.5,548.3 588.8,535.0 580,520 C571.2,505.0 565.3,480.0 562,460 C558.7,440.0 558.7,421.7 560,400 Z" fill="#80FF80"/>
<path d="M585,420 C585.0,401.7 588.3,382.5 595,370 C601.7,357.5 615.0,346.7 625,345 C635.0,343.3 648.8,347.5 655,360 C661.2,372.5 662.8,400.0 662,420 C661.2,440.0 657.0,465.8 650,480 C643.0,494.2 629.2,505.0 620,505 C610.8,505.0 600.8,494.2 595,480 C589.2,465.8 585.0,438.3 585,420 Z" fill="#BFFF40"/>
<path d="M605,430 C605.3,419.2 605.8,404.2 610,395 C614.2,385.8 624.2,374.2 630,375 C635.8,375.8 643.3,387.5 645,400 C646.7,412.5 644.2,437.5 640,450 C635.8,462.5 625.3,473.3 620,475 C614.7,476.7 610.5,467.5 608,460 C605.5,452.5 604.7,440.8 605,430 Z" fill="#BFFF40"/>
<ellipse cx="622" cy="442" rx="9" ry="14" fill="#EFFF10"/>
<ellipse cx="857" cy="460" rx="50" ry="85" fill="#80FF80"/>
<ellipse cx="497" cy="405" rx="11" ry="25" fill="#18FFE7" transform="rotate(15 497 405)"/>
<ellipse cx="1010" cy="555" rx="16" ry="35" fill="#18FFE7"/>
<path d="M240,-20 C208.3,0.0 248.3,63.3 255,100 C261.7,136.7 274.2,166.7 280,200 C285.8,233.3 283.3,271.7 290,300 C296.7,328.3 308.3,351.7 320,370 C331.7,388.3 346.7,401.7 360,410 C373.3,418.3 386.7,425.0 400,420 C413.3,415.0 427.5,395.0 440,380 C452.5,365.0 463.3,350.0 475,330 C486.7,310.0 506.7,283.3 510,260 C513.3,236.7 501.7,215.0 495,190 C488.3,165.0 478.3,145.0 470,110 C461.7,75.0 483.3,1.7 445,-20 C406.7,-41.7 271.7,-40.0 240,-20 Z" fill="#BFFF40"/>
<path d="M262,-20 C240.0,0.0 274.0,63.3 280,100 C286.0,136.7 293.3,168.3 298,200 C302.7,231.7 301.8,265.8 308,290 C314.2,314.2 323.8,330.3 335,345 C346.2,359.7 362.5,373.0 375,378 C387.5,383.0 399.2,381.3 410,375 C420.8,368.7 431.3,354.2 440,340 C448.7,325.8 457.3,310.0 462,290 C466.7,270.0 470.0,245.0 468,220 C466.0,195.0 457.2,166.7 450,140 C442.8,113.3 431.3,86.7 425,60 C418.7,33.3 439.2,-6.7 412,-20 C384.8,-33.3 284.0,-40.0 262,-20 Z" fill="#EFFF10"/>
<path d="M290,-20 C280.0,-3.3 295.8,51.7 300,80 C304.2,108.3 312.0,125.0 315,150 C318.0,175.0 316.3,206.7 318,230 C319.7,253.3 319.7,272.5 325,290 C330.3,307.5 340.8,324.7 350,335 C359.2,345.3 370.0,351.2 380,352 C390.0,352.8 401.3,348.7 410,340 C418.7,331.3 427.0,316.7 432,300 C437.0,283.3 441.2,263.3 440,240 C438.8,216.7 432.5,185.0 425,160 C417.5,135.0 404.2,110.0 395,90 C385.8,70.0 375.8,58.3 370,40 C364.2,21.7 373.3,-10.0 360,-20 C346.7,-30.0 300.0,-36.7 290,-20 Z" fill="#FFCF00"/>
<path d="M325,230 C325.0,212.5 329.2,185.0 335,170 C340.8,155.0 350.0,144.2 360,140 C370.0,135.8 385.0,138.3 395,145 C405.0,151.7 414.5,164.2 420,180 C425.5,195.8 428.8,220.8 428,240 C427.2,259.2 422.2,281.7 415,295 C407.8,308.3 395.0,317.5 385,320 C375.0,322.5 363.3,317.5 355,310 C346.7,302.5 340.0,288.3 335,275 C330.0,261.7 325.0,247.5 325,230 Z" fill="#FF9F00"/>
<path d="M350,240 C350.7,228.3 352.5,208.0 358,198 C363.5,188.0 375.0,179.2 383,180 C391.0,180.8 401.3,191.3 406,203 C410.7,214.7 412.5,236.0 411,250 C409.5,264.0 403.5,280.0 397,287 C390.5,294.0 379.2,295.2 372,292 C364.8,288.8 357.7,276.7 354,268 C350.3,259.3 349.3,251.7 350,240 Z" fill="#FF3000" stroke-width="0.7"/>
<path d="M446,170 C448.5,166.7 459.3,180.0 463,195 C466.7,210.0 470.2,240.0 468,260 C465.8,280.0 455.3,303.3 450,315 C444.7,326.7 436.7,337.5 436,330 C435.3,322.5 444.0,289.2 446,270 C448.0,250.8 448.0,231.7 448,215 C448.0,198.3 443.5,173.3 446,170 Z" fill="#000000"/>
<path d="M300,250 C301.7,249.2 307.5,285.8 315,300 C322.5,314.2 342.5,328.3 345,335 C347.5,341.7 336.7,345.0 330,340 C323.3,335.0 310.0,320.0 305,305 C300.0,290.0 298.3,250.8 300,250 Z" fill="#000000"/>
<path d="M640,-20 C613.3,-11.7 640.0,17.5 650,30 C660.0,42.5 681.7,50.8 700,55 C718.3,59.2 743.3,59.2 760,55 C776.7,50.8 791.7,42.5 800,30 C808.3,17.5 836.7,-11.7 810,-20 C783.3,-28.3 666.7,-28.3 640,-20 Z" fill="#50FFAF"/>
<path d="M700,-20 C690.8,-15.0 706.7,4.2 715,10 C723.3,15.8 740.8,20.0 750,15 C759.2,10.0 778.3,-14.2 770,-20 C761.7,-25.8 709.2,-25.0 700,-20 Z" fill="#18FFE7"/>
<path d="M849,-20 C810.7,-4.7 821.8,52.7 800,72 C778.2,91.3 742.5,87.8 718,96 C693.5,104.2 665.2,107.3 653,121 C640.8,134.7 639.5,160.3 645,178 C650.5,195.7 665.7,220.2 686,227 C706.3,233.8 745.3,231.2 767,219 C788.7,206.8 802.3,173.0 816,154 C829.7,135.0 829.8,116.0 849,105 C868.2,94.0 903.8,101.7 931,88 C958.2,74.3 995.5,41.0 1012,23 C1028.5,5.0 1057.2,-12.8 1030,-20 C1002.8,-27.2 887.3,-35.3 849,-20 Z" fill="#BFFF40"/>
<ellipse cx="728" cy="152" rx="45" ry="42" fill="#EFFF10"/>
<path d="M900,-20 C891.7,-15.0 901.7,5.8 910,10 C918.3,14.2 941.7,10.0 950,5 C958.3,0.0 968.3,-15.8 960,-20 C951.7,-24.2 908.3,-25.0 900,-20 Z" fill="#BFFF40"/>
<path d="M225,920 C207.5,908.3 240.0,870.0 250,850 C260.0,830.0 276.7,815.0 285,800 C293.3,785.0 295.8,780.0 300,760 C304.2,740.0 303.3,705.0 310,680 C316.7,655.0 328.3,628.3 340,610 C351.7,591.7 365.0,575.0 380,570 C395.0,565.0 415.8,571.7 430,580 C444.2,588.3 458.3,603.3 465,620 C471.7,636.7 473.3,660.0 470,680 C466.7,700.0 451.7,725.0 445,740 C438.3,755.0 437.5,755.0 430,770 C422.5,785.0 410.0,811.7 400,830 C390.0,848.3 377.5,865.0 370,880 C362.5,895.0 379.2,913.3 355,920 C330.8,926.7 242.5,931.7 225,920 Z" fill="#BFFF40"/>
<path d="M325,740 C323.3,721.7 329.2,690.0 335,670 C340.8,650.0 350.0,631.7 360,620 C370.0,608.3 383.3,600.0 395,600 C406.7,600.0 422.5,608.3 430,620 C437.5,631.7 441.7,651.7 440,670 C438.3,688.3 429.2,713.3 420,730 C410.8,746.7 397.5,761.7 385,770 C372.5,778.3 355.0,785.0 345,780 C335.0,775.0 326.7,758.3 325,740 Z" fill="#EFFF10"/>
<path d="M345,715 C343.3,701.7 347.0,682.5 352,670 C357.0,657.5 367.0,643.3 375,640 C383.0,636.7 394.5,641.7 400,650 C405.5,658.3 409.7,675.8 408,690 C406.3,704.2 397.7,725.0 390,735 C382.3,745.0 369.5,753.3 362,750 C354.5,746.7 346.7,728.3 345,715 Z" fill="#FFCF00"/>
<path d="M385,920 C353.3,908.3 392.5,873.3 400,850 C407.5,826.7 418.3,801.7 430,780 C441.7,758.3 456.7,736.7 470,720 C483.3,703.3 497.5,689.2 510,680 C522.5,670.8 534.2,663.3 545,665 C555.8,666.7 567.5,674.2 575,690 C582.5,705.8 585.8,733.3 590,760 C594.2,786.7 600.0,823.3 600,850 C600.0,876.7 625.8,908.3 590,920 C554.2,931.7 416.7,931.7 385,920 Z" fill="#50FFAF"/>
<path d="M420,920 C408.3,908.3 430.0,873.3 440,850 C450.0,826.7 468.3,795.8 480,780 C491.7,764.2 501.7,755.0 510,755 C518.3,755.0 527.5,764.2 530,780 C532.5,795.8 528.3,826.7 525,850 C521.7,873.3 527.5,908.3 510,920 C492.5,931.7 431.7,931.7 420,920 Z" fill="#18FFE7"/>
<path d="M845,920 C839.2,915.0 854.2,895.8 860,890 C865.8,884.2 874.2,880.0 880,885 C885.8,890.0 900.8,914.2 895,920 C889.2,925.8 850.8,925.0 845,920 Z" fill="#BFFF40"/>
</g></g>
<g class="f" clip-path="url(#c13)"><g transform="translate(156,528) scale(0.102082)">
<path d="M-20,-20 L1030,-20 L1030,920 L-20,920 Z" fill="#80FF80"/>
<path d="M50,-20 C34.7,16.7 55.0,130.0 58,200 C61.0,270.0 63.5,333.3 68,400 C72.5,466.7 83.8,533.3 85,600 C86.2,666.7 75.8,746.7 75,800 C74.2,853.3 57.5,900.0 80,920 C102.5,940.0 188.3,931.7 210,920 C231.7,908.3 210.8,876.7 210,850 C209.2,823.3 209.2,788.3 205,760 C200.8,731.7 192.5,706.7 185,680 C177.5,653.3 165.0,622.5 160,600 C155.0,577.5 151.7,555.0 155,545 C158.3,535.0 169.2,537.5 180,540 C190.8,542.5 206.7,558.3 220,560 C233.3,561.7 245.0,556.7 260,550 C275.0,543.3 295.0,531.7 310,520 C325.0,508.3 339.2,496.7 350,480 C360.8,463.3 373.3,436.7 375,420 C376.7,403.3 372.5,395.0 360,380 C347.5,365.0 321.7,346.7 300,330 C278.3,313.3 249.2,296.7 230,280 C210.8,263.3 195.8,256.7 185,230 C174.2,203.3 170.8,161.7 165,120 C159.2,78.3 169.2,3.3 150,-20 C130.8,-43.3 65.3,-56.7 50,-20 Z" fill="#50FFAF"/>
<ellipse cx="243" cy="405" rx="24" ry="30" fill="#18FFE7"/>
<path d="M230,-20 C212.5,0.0 224.2,63.3 225,100 C225.8,136.7 229.2,173.3 235,200 C240.8,226.7 247.5,244.2 260,260 C272.5,275.8 293.3,288.3 310,295 C326.7,301.7 347.5,305.8 360,300 C372.5,294.2 380.8,276.7 385,260 C389.2,243.3 390.0,218.3 385,200 C380.0,181.7 365.8,165.0 355,150 C344.2,135.0 326.7,126.7 320,110 C313.3,93.3 313.3,71.7 315,50 C316.7,28.3 344.2,-8.3 330,-20 C315.8,-31.7 247.5,-40.0 230,-20 Z" fill="#BFFF40"/>
<ellipse cx="290" cy="200" rx="38" ry="56" fill="#EFFF10" transform="rotate(-15 290 200)"/>
<path d="M370,-20 C337.5,-5.0 366.7,45.0 375,70 C383.3,95.0 405.8,108.3 420,130 C434.2,151.7 450.0,185.0 460,200 C470.0,215.0 472.5,221.7 480,220 C487.5,218.3 497.5,206.7 505,190 C512.5,173.3 517.5,143.3 525,120 C532.5,96.7 542.5,73.3 550,50 C557.5,26.7 600.0,-8.3 570,-20 C540.0,-31.7 402.5,-35.0 370,-20 Z" fill="#50FFAF"/>
<path d="M415,-20 C401.7,-11.7 422.5,19.2 430,30 C437.5,40.8 449.2,45.0 460,45 C470.8,45.0 486.7,40.8 495,30 C503.3,19.2 523.3,-11.7 510,-20 C496.7,-28.3 428.3,-28.3 415,-20 Z" fill="#18FFE7"/>
<path d="M860,-20 C846.7,-10.0 832.5,20.0 820,40 C807.5,60.0 790.0,81.7 785,100 C780.0,118.3 784.2,133.3 790,150 C795.8,166.7 810.0,187.5 820,200 C830.0,212.5 839.2,226.7 850,225 C860.8,223.3 875.8,205.8 885,190 C894.2,174.2 900.5,151.7 905,130 C909.5,108.3 912.8,85.0 912,60 C911.2,35.0 908.7,-6.7 900,-20 C891.3,-33.3 873.3,-30.0 860,-20 Z" fill="#BFFF40"/>
<path d="M575,330 C575.0,306.7 579.2,290.0 590,270 C600.8,250.0 623.3,228.3 640,210 C656.7,191.7 675.0,163.3 690,160 C705.0,156.7 718.3,173.3 730,190 C741.7,206.7 750.0,235.0 760,260 C770.0,285.0 778.3,320.8 790,340 C801.7,359.2 815.0,373.3 830,375 C845.0,376.7 865.0,362.5 880,350 C895.0,337.5 906.7,318.3 920,300 C933.3,281.7 945.2,255.8 960,240 C974.8,224.2 997.3,211.7 1009,205 C1020.7,198.3 1026.5,124.2 1030,200 C1033.5,275.8 1033.5,585.0 1030,660 C1026.5,735.0 1027.3,658.3 1009,650 C990.7,641.7 948.2,621.7 920,610 C891.8,598.3 861.7,591.7 840,580 C818.3,568.3 803.3,553.3 790,540 C776.7,526.7 775.0,508.3 760,500 C745.0,491.7 720.0,496.7 700,490 C680.0,483.3 658.3,473.3 640,460 C621.7,446.7 600.8,431.7 590,410 C579.2,388.3 575.0,353.3 575,330 Z" fill="#50FFAF"/>
<ellipse cx="310" cy="780" rx="45" ry="112" fill="#BFFF40"/>
<path d="M400,920 C350.0,906.7 426.7,857.5 440,840 C453.3,822.5 463.3,815.0 480,815 C496.7,815.0 520.0,833.3 540,840 C560.0,846.7 581.7,855.0 600,855 C618.3,855.0 635.0,844.5 650,840 C665.0,835.5 679.2,823.0 690,828 C700.8,833.0 706.7,854.7 715,870 C723.3,885.3 792.5,911.7 740,920 C687.5,928.3 450.0,933.3 400,920 Z" fill="#50FFAF"/>
<path d="M820,920 C793.3,911.7 850.0,885.0 870,870 C890.0,855.0 916.8,843.3 940,830 C963.2,816.7 994.0,798.3 1009,790 C1024.0,781.7 1026.5,758.3 1030,780 C1033.5,801.7 1065.0,896.7 1030,920 C995.0,943.3 846.7,928.3 820,920 Z" fill="#50FFAF"/>
</g></g>
<g class="f" clip-path="url(#c14)"><g transform="translate(362,436) scale(0.204165)">
<path d="M165,80 C165.8,70.3 174.2,58.3 185,50 C195.8,41.7 215.8,37.5 230,30 C244.2,22.5 258.3,16.7 270,5 C281.7,-6.7 287.5,-32.5 300,-40 C312.5,-47.5 335.8,-51.7 345,-40 C354.2,-28.3 350.8,11.7 355,30 C359.2,48.3 365.0,56.7 370,70 C375.0,83.3 385.0,100.3 385,110 C385.0,119.7 384.2,125.5 370,128 C355.8,130.5 323.3,126.7 300,125 C276.7,123.3 250.0,120.8 230,118 C210.0,115.2 190.8,114.3 180,108 C169.2,101.7 164.2,89.7 165,80 Z" fill="#BFFF40"/>
<path d="M480,-40 C425.0,-26.7 480.0,21.7 485,40 C490.0,58.3 499.2,61.7 510,70 C520.8,78.3 538.3,89.2 550,90 C561.7,90.8 571.7,81.7 580,75 C588.3,68.3 588.3,56.7 600,50 C611.7,43.3 633.3,40.0 650,35 C666.7,30.0 685.0,21.7 700,20 C715.0,18.3 729.2,20.0 740,25 C750.8,30.0 757.5,41.7 765,50 C772.5,58.3 776.7,70.3 785,75 C793.3,79.7 808.3,82.2 815,78 C821.7,73.8 825.5,61.3 825,50 C824.5,38.7 813.7,25.0 812,10 C810.3,-5.0 870.3,-31.7 815,-40 C759.7,-48.3 535.0,-53.3 480,-40 Z" fill="#50FFAF"/>
<path d="M890,-40 C876.7,-28.3 890.0,12.5 895,30 C900.0,47.5 909.2,55.8 920,65 C930.8,74.2 947.5,80.0 960,85 C972.5,90.0 987.5,97.5 995,95 C1002.5,92.5 1004.2,79.2 1005,70 C1005.8,60.8 1003.3,50.0 1000,40 C996.7,30.0 989.2,23.3 985,10 C980.8,-3.3 990.8,-31.7 975,-40 C959.2,-48.3 903.3,-51.7 890,-40 Z" fill="#50FFAF"/>
<path d="M-40,120 C-33.3,90.5 -13.3,119.7 0,118 C13.3,116.3 26.7,108.0 40,110 C53.3,112.0 61.7,124.2 80,130 C98.3,135.8 125.0,140.8 150,145 C175.0,149.2 203.3,151.7 230,155 C256.7,158.3 285.0,161.7 310,165 C335.0,168.3 360.0,173.3 380,175 C400.0,176.7 415.0,178.3 430,175 C445.0,171.7 458.3,163.3 470,155 C481.7,146.7 490.0,131.7 500,125 C510.0,118.3 520.0,115.0 530,115 C540.0,115.0 548.3,119.5 560,125 C571.7,130.5 586.7,143.0 600,148 C613.3,153.0 626.7,155.5 640,155 C653.3,154.5 666.7,146.7 680,145 C693.3,143.3 708.3,140.8 720,145 C731.7,149.2 740.0,159.2 750,170 C760.0,180.8 770.0,200.8 780,210 C790.0,219.2 800.8,225.8 810,225 C819.2,224.2 827.5,214.2 835,205 C842.5,195.8 847.5,177.8 855,170 C862.5,162.2 870.8,157.2 880,158 C889.2,158.8 900.8,164.7 910,175 C919.2,185.3 928.3,203.3 935,220 C941.7,236.7 944.2,260.8 950,275 C955.8,289.2 962.5,302.5 970,305 C977.5,307.5 988.5,295.0 995,290 C1001.5,285.0 999.8,278.3 1009,275 C1018.2,271.7 1043.2,252.5 1050,270 C1056.8,287.5 1056.8,361.3 1050,380 C1043.2,398.7 1024.0,381.2 1009,382 C994.0,382.8 978.2,382.8 960,385 C941.8,387.2 918.3,393.8 900,395 C881.7,396.2 866.7,392.0 850,392 C833.3,392.0 815.0,396.2 800,395 C785.0,393.8 773.3,388.3 760,385 C746.7,381.7 730.0,373.3 720,375 C710.0,376.7 706.7,385.5 700,395 C693.3,404.5 686.7,428.7 680,432 C673.3,435.3 665.0,423.7 660,415 C655.0,406.3 656.7,390.8 650,380 C643.3,369.2 631.7,359.2 620,350 C608.3,340.8 595.0,328.3 580,325 C565.0,321.7 546.7,330.8 530,330 C513.3,329.2 494.2,320.8 480,320 C465.8,319.2 455.8,320.8 445,325 C434.2,329.2 423.8,338.8 415,345 C406.2,351.2 399.5,363.7 392,362 C384.5,360.3 377.8,344.5 370,335 C362.2,325.5 356.7,308.3 345,305 C333.3,301.7 319.2,314.2 300,315 C280.8,315.8 255.0,312.5 230,310 C205.0,307.5 175.0,300.8 150,300 C125.0,299.2 100.0,305.0 80,305 C60.0,305.0 43.3,301.7 30,300 C16.7,298.3 11.7,295.8 0,295 C-11.7,294.2 -33.3,324.2 -40,295 C-46.7,265.8 -46.7,149.5 -40,120 Z" fill="#50FFAF"/>
<ellipse cx="525" cy="198" rx="32" ry="25" fill="#18FFE7"/>
<ellipse cx="698" cy="250" rx="55" ry="50" fill="#18FFE7"/>
<ellipse cx="260" cy="443" rx="13" ry="10" fill="#BFFF40"/>
<ellipse cx="411" cy="463" rx="18" ry="27" fill="#BFFF40"/>
<ellipse cx="488" cy="465" rx="15" ry="12" fill="#BFFF40"/>
<ellipse cx="192" cy="585" rx="28" ry="30" fill="#50FFAF"/>
<path d="M-40,848 C-33.3,831.3 -23.3,847.2 0,850 C23.3,852.8 66.7,860.3 100,865 C133.3,869.7 166.7,875.5 200,878 C233.3,880.5 274.2,881.3 300,880 C325.8,878.7 344.7,876.7 355,870 C365.3,863.3 362.0,853.3 362,840 C362.0,826.7 354.5,804.2 355,790 C355.5,775.8 357.5,763.3 365,755 C372.5,746.7 387.5,744.2 400,740 C412.5,735.8 430.0,730.8 440,730 C450.0,729.2 452.5,732.5 460,735 C467.5,737.5 480.3,749.2 485,745 C489.7,740.8 486.8,723.3 488,710 C489.2,696.7 487.5,674.2 492,665 C496.5,655.8 505.3,654.2 515,655 C524.7,655.8 535.8,664.2 550,670 C564.2,675.8 583.3,683.3 600,690 C616.7,696.7 635.0,703.3 650,710 C665.0,716.7 678.3,721.7 690,730 C701.7,738.3 711.7,749.2 720,760 C728.3,770.8 738.3,784.7 740,795 C741.7,805.3 734.2,819.5 730,822 C725.8,824.5 719.2,820.3 715,810 C710.8,799.7 710.8,778.3 705,760 C699.2,741.7 689.2,720.0 680,700 C670.8,680.0 661.7,660.0 650,640 C638.3,620.0 620.0,600.0 610,580 C600.0,560.0 591.7,533.3 590,520 C588.3,506.7 593.3,504.2 600,500 C606.7,495.8 620.8,491.7 630,495 C639.2,498.3 649.2,509.2 655,520 C660.8,530.8 660.8,548.3 665,560 C669.2,571.7 670.8,583.3 680,590 C689.2,596.7 706.7,596.7 720,600 C733.3,603.3 750.0,603.3 760,610 C770.0,616.7 774.2,628.3 780,640 C785.8,651.7 789.2,667.5 795,680 C800.8,692.5 805.8,706.7 815,715 C824.2,723.3 835.8,728.3 850,730 C864.2,731.7 883.3,725.0 900,725 C916.7,725.0 931.8,727.5 950,730 C968.2,732.5 992.3,738.3 1009,740 C1025.7,741.7 1043.2,705.0 1050,740 C1056.8,775.0 1231.7,915.0 1050,950 C868.3,985.0 141.7,967.0 -40,950 C-221.7,933.0 -46.7,864.7 -40,848 Z" fill="#50FFAF"/>
<path d="M700,950 C684.2,940.0 700.0,902.5 705,890 C710.0,877.5 720.8,876.7 730,875 C739.2,873.3 750.0,876.7 760,880 C770.0,883.3 783.3,883.3 790,895 C796.7,906.7 815.0,940.8 800,950 C785.0,959.2 715.8,960.0 700,950 Z" fill="#BFFF40"/>
</g></g>
<g class="f" clip-path="url(#c15)"><g transform="translate(568,436) scale(0.204165)">
<path d="M-40,270 C-33.3,250.5 -13.3,274.7 0,268 C13.3,261.3 29.2,243.0 40,230 C50.8,217.0 60.0,208.3 65,190 C70.0,171.7 66.7,140.0 70,120 C73.3,100.0 79.2,79.7 85,70 C90.8,60.3 99.2,59.5 105,62 C110.8,64.5 116.7,70.3 120,85 C123.3,99.7 122.5,130.8 125,150 C127.5,169.2 135.0,181.7 135,200 C135.0,218.3 127.8,243.3 125,260 C122.2,276.7 115.5,286.7 118,300 C120.5,313.3 128.0,334.2 140,340 C152.0,345.8 175.0,341.7 190,335 C205.0,328.3 218.3,310.8 230,300 C241.7,289.2 246.7,278.3 260,270 C273.3,261.7 296.7,257.5 310,250 C323.3,242.5 334.2,236.7 340,225 C345.8,213.3 348.3,195.8 345,180 C341.7,164.2 329.2,144.2 320,130 C310.8,115.8 301.7,100.0 290,95 C278.3,90.0 260.8,98.3 250,100 C239.2,101.7 235.0,106.3 225,105 C215.0,103.7 194.2,99.5 190,92 C185.8,84.5 196.7,72.0 200,60 C203.3,48.0 206.7,36.7 210,20 C213.3,3.3 192.5,-30.0 220,-40 C247.5,-50.0 345.8,-51.7 375,-40 C404.2,-28.3 390.8,10.0 395,30 C399.2,50.0 400.8,63.3 400,80 C399.2,96.7 390.8,114.2 390,130 C389.2,145.8 390.0,162.5 395,175 C400.0,187.5 410.8,197.5 420,205 C429.2,212.5 440.0,210.8 450,220 C460.0,229.2 468.3,247.5 480,260 C491.7,272.5 510.0,285.0 520,295 C530.0,305.0 536.7,309.2 540,320 C543.3,330.8 542.5,348.3 540,360 C537.5,371.7 530.3,380.0 525,390 C519.7,400.0 508.8,412.0 508,420 C507.2,428.0 513.0,433.3 520,438 C527.0,442.7 540.8,446.0 550,448 C559.2,450.0 571.7,453.0 575,450 C578.3,447.0 575.0,439.2 570,430 C565.0,420.8 553.3,407.5 545,395 C536.7,382.5 527.5,363.3 520,355 C512.5,346.7 508.3,346.7 500,345 C491.7,343.3 480.0,346.7 470,345 C460.0,343.3 449.2,340.0 440,335 C430.8,330.0 423.3,319.2 415,315 C406.7,310.8 396.7,306.7 390,310 C383.3,313.3 377.5,322.5 375,335 C372.5,347.5 371.7,373.3 375,385 C378.3,396.7 386.7,400.8 395,405 C403.3,409.2 419.2,404.2 425,410 C430.8,415.8 430.0,431.7 430,440 C430.0,448.3 421.7,455.0 425,460 C428.3,465.0 442.2,467.5 450,470 C457.8,472.5 469.5,466.7 472,475 C474.5,483.3 468.7,505.8 465,520 C461.3,534.2 455.8,548.3 450,560 C444.2,571.7 438.3,583.7 430,590 C421.7,596.3 410.0,598.8 400,598 C390.0,597.2 377.5,592.2 370,585 C362.5,577.8 356.7,569.2 355,555 C353.3,540.8 357.2,517.5 360,500 C362.8,482.5 370.3,462.5 372,450 C373.7,437.5 374.5,430.3 370,425 C365.5,419.7 356.7,418.0 345,418 C333.3,418.0 314.2,419.7 300,425 C285.8,430.3 272.5,444.2 260,450 C247.5,455.8 236.7,460.8 225,460 C213.3,459.2 202.5,453.3 190,445 C177.5,436.7 161.7,420.0 150,410 C138.3,400.0 126.7,394.7 120,385 C113.3,375.3 120.0,355.3 110,352 C100.0,348.7 78.3,360.0 60,365 C41.7,370.0 16.7,378.7 0,382 C-16.7,385.3 -33.3,403.7 -40,385 C-46.7,366.3 -46.7,289.5 -40,270 Z" fill="#50FFAF"/>
<path d="M310,-40 C304.2,-26.7 304.7,23.3 305,40 C305.3,56.7 307.8,60.0 312,60 C316.2,60.0 325.3,56.7 330,40 C334.7,23.3 343.3,-26.7 340,-40 C336.7,-53.3 315.8,-53.3 310,-40 Z" fill="#80FF80"/>
<ellipse cx="290" cy="203" rx="18" ry="20" fill="#BFFF40"/>
<path d="M520,-40 C499.2,-30.0 508.3,3.3 500,20 C491.7,36.7 477.0,46.7 470,60 C463.0,73.3 457.2,90.0 458,100 C458.8,110.0 464.7,118.3 475,120 C485.3,121.7 507.5,113.7 520,110 C532.5,106.3 540.8,97.2 550,98 C559.2,98.8 570.3,106.3 575,115 C579.7,123.7 581.3,139.2 578,150 C574.7,160.8 561.0,171.7 555,180 C549.0,188.3 541.2,194.2 542,200 C542.8,205.8 547.0,215.0 560,215 C573.0,215.0 600.0,205.0 620,200 C640.0,195.0 664.2,185.0 680,185 C695.8,185.0 705.8,190.8 715,200 C724.2,209.2 730.5,225.0 735,240 C739.5,255.0 736.2,285.0 742,290 C747.8,295.0 758.7,277.5 770,270 C781.3,262.5 796.7,250.8 810,245 C823.3,239.2 838.3,240.8 850,235 C861.7,229.2 873.3,222.5 880,210 C886.7,197.5 890.0,174.2 890,160 C890.0,145.8 886.7,133.3 880,125 C873.3,116.7 860.0,110.8 850,110 C840.0,109.2 829.2,115.0 820,120 C810.8,125.0 803.3,140.8 795,140 C786.7,139.2 778.3,125.0 770,115 C761.7,105.0 753.3,85.0 745,80 C736.7,75.0 728.3,79.2 720,85 C711.7,90.8 703.3,108.3 695,115 C686.7,121.7 679.2,127.5 670,125 C660.8,122.5 648.3,110.8 640,100 C631.7,89.2 624.2,73.3 620,60 C615.8,46.7 614.2,36.7 615,20 C615.8,3.3 640.8,-30.0 625,-40 C609.2,-50.0 540.8,-50.0 520,-40 Z" fill="#50FFAF"/>
<path d="M742,290 C730.3,288.3 715.3,281.3 700,280 C684.7,278.7 663.3,278.7 650,282 C636.7,285.3 625.8,290.3 620,300 C614.2,309.7 614.2,323.3 615,340 C615.8,356.7 621.7,381.7 625,400 C628.3,418.3 630.0,435.8 635,450 C640.0,464.2 644.2,480.3 655,485 C665.8,489.7 684.2,480.8 700,478 C715.8,475.2 733.3,470.2 750,468 C766.7,465.8 783.3,463.0 800,465 C816.7,467.0 833.3,475.0 850,480 C866.7,485.0 886.7,487.5 900,495 C913.3,502.5 920.0,518.3 930,525 C940.0,531.7 946.8,532.8 960,535 C973.2,537.2 994.0,537.2 1009,538 C1024.0,538.8 1043.2,593.8 1050,540 C1056.8,486.2 1056.8,269.2 1050,215 C1043.2,160.8 1021.5,214.2 1009,215 C996.5,215.8 985.7,216.7 975,220 C964.3,223.3 950.8,226.7 945,235 C939.2,243.3 940.0,259.2 940,270 C940.0,280.8 948.3,290.8 945,300 C941.7,309.2 930.8,318.7 920,325 C909.2,331.3 893.3,337.2 880,338 C866.7,338.8 853.3,334.7 840,330 C826.7,325.3 811.7,316.7 800,310 C788.3,303.3 779.7,293.3 770,290 C760.3,286.7 753.7,291.7 742,290 Z" fill="#50FFAF"/>
<path d="M-40,735 C-33.3,698.3 -10.0,737.5 0,730 C10.0,722.5 17.5,705.0 20,690 C22.5,675.0 15.0,653.3 15,640 C15.0,626.7 15.0,610.8 20,610 C25.0,609.2 35.8,628.7 45,635 C54.2,641.3 65.8,649.7 75,648 C84.2,646.3 91.7,633.8 100,625 C108.3,616.2 116.7,602.8 125,595 C133.3,587.2 140.0,581.3 150,578 C160.0,574.7 175.8,573.0 185,575 C194.2,577.0 200.8,579.2 205,590 C209.2,600.8 207.8,623.3 210,640 C212.2,656.7 213.0,675.8 218,690 C223.0,704.2 231.3,717.0 240,725 C248.7,733.0 260.0,737.2 270,738 C280.0,738.8 288.3,736.3 300,730 C311.7,723.7 326.7,707.5 340,700 C353.3,692.5 370.8,690.8 380,685 C389.2,679.2 390.8,664.2 395,665 C399.2,665.8 397.5,682.5 405,690 C412.5,697.5 430.0,701.7 440,710 C450.0,718.3 458.3,730.0 465,740 C471.7,750.0 470.8,761.7 480,770 C489.2,778.3 506.7,781.7 520,790 C533.3,798.3 549.2,810.0 560,820 C570.8,830.0 578.3,838.3 585,850 C591.7,861.7 594.2,882.5 600,890 C605.8,897.5 615.8,898.3 620,895 C624.2,891.7 623.7,882.5 625,870 C626.3,857.5 626.3,836.7 628,820 C629.7,803.3 629.7,782.5 635,770 C640.3,757.5 649.2,746.7 660,745 C670.8,743.3 686.7,755.8 700,760 C713.3,764.2 726.7,770.8 740,770 C753.3,769.2 766.7,758.3 780,755 C793.3,751.7 807.5,750.0 820,750 C832.5,750.0 848.3,759.2 855,755 C861.7,750.8 864.2,733.3 860,725 C855.8,716.7 843.3,709.5 830,705 C816.7,700.5 798.3,698.8 780,698 C761.7,697.2 740.0,700.5 720,700 C700.0,699.5 678.3,698.3 660,695 C641.7,691.7 624.2,687.5 610,680 C595.8,672.5 583.3,660.0 575,650 C566.7,640.0 560.8,630.8 560,620 C559.2,609.2 563.3,593.3 570,585 C576.7,576.7 590.0,569.2 600,570 C610.0,570.8 621.7,580.8 630,590 C638.3,599.2 643.3,616.7 650,625 C656.7,633.3 661.7,640.8 670,640 C678.3,639.2 688.3,630.0 700,620 C711.7,610.0 725.0,587.5 740,580 C755.0,572.5 773.3,576.7 790,575 C806.7,573.3 826.7,569.2 840,570 C853.3,570.8 861.7,573.3 870,580 C878.3,586.7 881.7,598.3 890,610 C898.3,621.7 908.3,640.0 920,650 C931.7,660.0 945.2,665.8 960,670 C974.8,674.2 994.0,674.2 1009,675 C1024.0,675.8 1043.2,629.2 1050,675 C1056.8,720.8 1231.7,904.2 1050,950 C868.3,995.8 141.7,985.8 -40,950 C-221.7,914.2 -46.7,771.7 -40,735 Z" fill="#50FFAF"/>
<ellipse cx="70" cy="778" rx="27" ry="38" fill="#80FF80"/>
<path d="M25,950 C12.5,940.8 29.2,908.7 35,895 C40.8,881.3 50.8,869.7 60,868 C69.2,866.3 81.7,871.3 90,885 C98.3,898.7 120.8,939.2 110,950 C99.2,960.8 37.5,959.2 25,950 Z" fill="#80FF80"/>
<path d="M815,950 C808.7,940.3 824.2,902.8 830,892 C835.8,881.2 843.7,875.3 850,885 C856.3,894.7 873.8,939.2 868,950 C862.2,960.8 821.3,959.7 815,950 Z" fill="#80FF80"/>
<path d="M890,950 C865.0,933.3 900.3,875.0 900,850 C899.7,825.0 888.8,815.8 888,800 C887.2,784.2 889.7,765.0 895,755 C900.3,745.0 911.7,741.7 920,740 C928.3,738.3 938.3,736.7 945,745 C951.7,753.3 954.2,778.3 960,790 C965.8,801.7 971.8,808.3 980,815 C988.2,821.7 997.3,826.2 1009,830 C1020.7,833.8 1043.2,818.0 1050,838 C1056.8,858.0 1076.7,931.3 1050,950 C1023.3,968.7 915.0,966.7 890,950 Z" fill="#80FF80"/>
<ellipse cx="590" cy="383" rx="10" ry="20" fill="#BFFF40"/>
<ellipse cx="5" cy="40" rx="5" ry="3" fill="#000000"/>
<ellipse cx="10" cy="175" rx="4" ry="3" fill="#000000"/>
<ellipse cx="820" cy="0" rx="12" ry="3" fill="#000000"/>
</g></g>
<g class="f" clip-path="url(#c16)"><g transform="translate(774,436) scale(0.204165)">
<path d="M-40,-40 C-79.2,-30.8 -15.0,2.5 0,15 C15.0,27.5 33.3,27.5 50,35 C66.7,42.5 83.3,57.5 100,60 C116.7,62.5 136.7,48.3 150,50 C163.3,51.7 172.5,60.0 180,70 C187.5,80.0 187.5,96.7 195,110 C202.5,123.3 215.8,141.7 225,150 C234.2,158.3 243.3,162.5 250,160 C256.7,157.5 265.0,145.0 265,135 C265.0,125.0 251.7,115.8 250,100 C248.3,84.2 256.7,56.7 255,40 C253.3,23.3 243.3,13.3 240,0 C236.7,-13.3 281.7,-33.3 235,-40 C188.3,-46.7 -0.8,-49.2 -40,-40 Z" fill="#50FFAF"/>
<path d="M285,-40 C275.3,-31.7 293.3,-0.8 300,10 C306.7,20.8 316.7,24.7 325,25 C333.3,25.3 344.5,22.8 350,12 C355.5,1.2 368.8,-31.3 358,-40 C347.2,-48.7 294.7,-48.3 285,-40 Z" fill="#50FFAF"/>
<path d="M345,72 C347.5,64.8 357.5,52.3 370,45 C382.5,37.7 404.2,31.8 420,28 C435.8,24.2 454.2,18.3 465,22 C475.8,25.7 482.8,40.7 485,50 C487.2,59.3 483.8,70.5 478,78 C472.2,85.5 460.5,89.7 450,95 C439.5,100.3 426.7,109.2 415,110 C403.3,110.8 390.0,103.7 380,100 C370.0,96.3 360.8,92.7 355,88 C349.2,83.3 342.5,79.2 345,72 Z" fill="#50FFAF"/>
<path d="M635,-40 C617.5,-30.0 649.2,4.2 660,20 C670.8,35.8 690.0,47.0 700,55 C710.0,63.0 712.5,70.5 720,68 C727.5,65.5 737.5,58.0 745,40 C752.5,22.0 783.3,-26.7 765,-40 C746.7,-53.3 652.5,-50.0 635,-40 Z" fill="#50FFAF"/>
<ellipse cx="110" cy="155" rx="13" ry="20" fill="#50FFAF" transform="rotate(-15 110 155)"/>
<path d="M-40,228 C-33.3,108.0 -11.7,224.7 0,230 C11.7,235.3 18.3,250.0 30,260 C41.7,270.0 58.3,286.7 70,290 C81.7,293.3 87.5,285.8 100,280 C112.5,274.2 130.0,255.8 145,255 C160.0,254.2 175.8,268.3 190,275 C204.2,281.7 221.7,284.2 230,295 C238.3,305.8 235.0,327.5 240,340 C245.0,352.5 250.8,363.7 260,370 C269.2,376.3 285.0,379.7 295,378 C305.0,376.3 315.0,369.7 320,360 C325.0,350.3 320.8,329.2 325,320 C329.2,310.8 336.7,304.2 345,305 C353.3,305.8 362.5,317.5 375,325 C387.5,332.5 405.8,340.8 420,350 C434.2,359.2 446.7,370.0 460,380 C473.3,390.0 488.3,401.7 500,410 C511.7,418.3 522.5,421.7 530,430 C537.5,438.3 540.8,448.3 545,460 C549.2,471.7 550.0,490.0 555,500 C560.0,510.0 567.8,518.0 575,520 C582.2,522.0 594.7,520.3 598,512 C601.3,503.7 597.2,482.0 595,470 C592.8,458.0 590.0,450.0 585,440 C580.0,430.0 572.5,419.2 565,410 C557.5,400.8 546.2,395.0 540,385 C533.8,375.0 529.7,364.2 528,350 C526.3,335.8 531.3,311.7 530,300 C528.7,288.3 528.3,287.5 520,280 C511.7,272.5 493.3,261.7 480,255 C466.7,248.3 453.3,246.7 440,240 C426.7,233.3 410.0,223.0 400,215 C390.0,207.0 378.3,197.8 380,192 C381.7,186.2 398.3,184.5 410,180 C421.7,175.5 435.0,169.2 450,165 C465.0,160.8 488.3,155.0 500,155 C511.7,155.0 515.0,157.5 520,165 C525.0,172.5 525.8,188.3 530,200 C534.2,211.7 538.3,230.0 545,235 C551.7,240.0 560.8,235.0 570,230 C579.2,225.0 590.0,212.5 600,205 C610.0,197.5 619.2,188.3 630,185 C640.8,181.7 655.8,179.2 665,185 C674.2,190.8 682.5,204.2 685,220 C687.5,235.8 684.2,265.0 680,280 C675.8,295.0 667.5,299.2 660,310 C652.5,320.8 638.3,330.0 635,345 C631.7,360.0 635.8,386.7 640,400 C644.2,413.3 650.8,420.0 660,425 C669.2,430.0 690.0,420.8 695,430 C700.0,439.2 692.5,464.2 690,480 C687.5,495.8 686.7,515.8 680,525 C673.3,534.2 660.0,535.8 650,535 C640.0,534.2 628.3,522.8 620,520 C611.7,517.2 603.3,513.0 600,518 C596.7,523.0 598.3,538.0 600,550 C601.7,562.0 603.3,578.3 610,590 C616.7,601.7 629.2,612.5 640,620 C650.8,627.5 667.5,625.0 675,635 C682.5,645.0 680.8,664.2 685,680 C689.2,695.8 694.2,714.2 700,730 C705.8,745.8 712.5,763.3 720,775 C727.5,786.7 740.0,789.2 745,800 C750.0,810.8 750.8,823.2 750,840 C749.2,856.8 742.0,882.7 740,901 C738.0,919.3 868.0,941.8 738,950 C608.0,958.2 89.7,1070.3 -40,950 C-169.7,829.7 -46.7,348.0 -40,228 Z" fill="#50FFAF"/>
<path d="M-40,540 C-33.3,516.7 -16.7,537.5 0,540 C16.7,542.5 41.7,550.0 60,555 C78.3,560.0 95.0,568.3 110,570 C125.0,571.7 136.7,560.0 150,565 C163.3,570.0 180.8,605.8 190,600 C199.2,594.2 200.8,544.2 205,530 C209.2,515.8 207.5,519.2 215,515 C222.5,510.8 235.8,506.7 250,505 C264.2,503.3 285.0,507.5 300,505 C315.0,502.5 325.8,496.2 340,490 C354.2,483.8 370.0,470.0 385,468 C400.0,466.0 415.0,475.7 430,478 C445.0,480.3 463.3,475.8 475,482 C486.7,488.2 493.8,504.0 500,515 C506.2,526.0 512.8,538.0 512,548 C511.2,558.0 503.7,571.0 495,575 C486.3,579.0 471.7,575.7 460,572 C448.3,568.3 435.8,556.7 425,553 C414.2,549.3 407.5,547.5 395,550 C382.5,552.5 365.8,560.5 350,568 C334.2,575.5 314.2,585.5 300,595 C285.8,604.5 274.2,615.0 265,625 C255.8,635.0 250.0,641.7 245,655 C240.0,668.3 239.2,695.5 235,705 C230.8,714.5 225.8,716.2 220,712 C214.2,707.8 205.8,689.5 200,680 C194.2,670.5 192.5,660.3 185,655 C177.5,649.7 165.0,646.3 155,648 C145.0,649.7 133.3,655.5 125,665 C116.7,674.5 111.7,690.0 105,705 C98.3,720.0 89.2,740.0 85,755 C80.8,770.0 83.3,787.0 80,795 C76.7,803.0 70.8,804.7 65,803 C59.2,801.3 49.2,798.8 45,785 C40.8,771.2 40.8,735.8 40,720 C39.2,704.2 36.7,700.8 40,690 C43.3,679.2 55.3,665.0 60,655 C64.7,645.0 69.7,639.2 68,630 C66.3,620.8 56.3,606.7 50,600 C43.7,593.3 35.8,587.5 30,590 C24.2,592.5 19.2,601.7 15,615 C10.8,628.3 14.2,659.2 5,670 C-4.2,680.8 -32.5,701.7 -40,680 C-47.5,658.3 -46.7,563.3 -40,540 Z" fill="#80FF80"/>
<path d="M340,705 C338.3,698.8 350.0,690.5 360,688 C370.0,685.5 388.3,693.3 400,690 C411.7,686.7 419.2,672.7 430,668 C440.8,663.3 455.3,658.3 465,662 C474.7,665.7 484.7,677.8 488,690 C491.3,702.2 488.8,722.0 485,735 C481.2,748.0 472.5,765.5 465,768 C457.5,770.5 449.2,756.7 440,750 C430.8,743.3 421.7,732.2 410,728 C398.3,723.8 381.7,728.8 370,725 C358.3,721.2 341.7,711.2 340,705 Z" fill="#80FF80"/>
<path d="M205,950 C154.2,936.7 199.2,891.7 195,870 C190.8,848.3 180.8,832.5 180,820 C179.2,807.5 182.5,800.8 190,795 C197.5,789.2 213.3,783.3 225,785 C236.7,786.7 247.5,797.5 260,805 C272.5,812.5 285.0,823.3 300,830 C315.0,836.7 333.3,838.3 350,845 C366.7,851.7 385.0,863.3 400,870 C415.0,876.7 425.0,879.8 440,885 C455.0,890.2 480.0,890.2 490,901 C500.0,911.8 547.5,941.8 500,950 C452.5,958.2 255.8,963.3 205,950 Z" fill="#80FF80"/>
<path d="M-40,828 C-33.3,808.0 -12.5,826.3 0,830 C12.5,833.7 25.8,841.7 35,850 C44.2,858.3 50.5,863.3 55,880 C59.5,896.7 77.8,938.3 62,950 C46.2,961.7 -23.0,970.3 -40,950 C-57.0,929.7 -46.7,848.0 -40,828 Z" fill="#80FF80"/>
<path d="M235,950 C230.0,939.2 236.2,898.3 240,885 C243.8,871.7 252.7,870.0 258,870 C263.3,870.0 270.0,871.7 272,885 C274.0,898.3 276.2,939.2 270,950 C263.8,960.8 240.0,960.8 235,950 Z" fill="#BFFF40"/>
<path d="M0,950 C-3.8,940.3 1.7,902.0 5,892 C8.3,882.0 16.2,880.3 20,890 C23.8,899.7 31.3,940.0 28,950 C24.7,960.0 3.8,959.7 0,950 Z" fill="#BFFF40"/>
<ellipse cx="537" cy="845" rx="16" ry="38" fill="#80FF80" transform="rotate(-20 537 845)"/>
<ellipse cx="643" cy="818" rx="22" ry="28" fill="#80FF80" transform="rotate(10 643 818)"/>
<ellipse cx="157" cy="375" rx="36" ry="40" fill="#18FFE7"/>
<ellipse cx="487" cy="815" rx="2" ry="2" fill="#000000"/>
<path d="M958,278 C953.8,279.7 948.8,298.8 945,310 C941.2,321.2 942.5,337.0 935,345 C927.5,353.0 912.5,354.7 900,358 C887.5,361.3 870.0,359.3 860,365 C850.0,370.7 844.2,379.5 840,392 C835.8,404.5 838.7,427.0 835,440 C831.3,453.0 818.0,460.0 818,470 C818.0,480.0 826.3,488.3 835,500 C843.7,511.7 859.2,526.7 870,540 C880.8,553.3 894.2,569.7 900,580 C905.8,590.3 908.3,593.7 905,602 C901.7,610.3 885.0,618.7 880,630 C875.0,641.3 872.5,659.2 875,670 C877.5,680.8 886.7,689.2 895,695 C903.3,700.8 916.7,705.8 925,705 C933.3,704.2 940.8,700.8 945,690 C949.2,679.2 948.3,658.3 950,640 C951.7,621.7 952.5,597.5 955,580 C957.5,562.5 962.8,545.8 965,535 C967.2,524.2 972.2,517.0 968,515 C963.8,513.0 950.5,521.3 940,523 C929.5,524.7 915.0,528.0 905,525 C895.0,522.0 886.2,514.2 880,505 C873.8,495.8 868.0,482.5 868,470 C868.0,457.5 873.8,440.8 880,430 C886.2,419.2 895.0,410.8 905,405 C915.0,399.2 931.2,399.5 940,395 C948.8,390.5 953.8,387.2 958,378 C962.2,368.8 963.0,353.0 965,340 C967.0,327.0 971.2,310.3 970,300 C968.8,289.7 962.2,276.3 958,278 Z" fill="#50FFAF"/>
<ellipse cx="928" cy="472" rx="10" ry="14" fill="#BFFF40"/>
<path d="M855,210 C857.5,204.7 867.5,198.8 875,198 C882.5,197.2 893.3,202.2 900,205 C906.7,207.8 908.7,215.8 915,215 C921.3,214.2 934.2,194.2 938,200 C941.8,205.8 941.3,244.2 938,250 C934.7,255.8 924.3,239.2 918,235 C911.7,230.8 906.3,225.0 900,225 C893.7,225.0 886.7,234.2 880,235 C873.3,235.8 864.2,234.2 860,230 C855.8,225.8 852.5,215.3 855,210 Z" fill="#50FFAF"/>
<path d="M770,640 C773.3,633.8 785.0,626.3 790,628 C795.0,629.7 798.7,639.7 800,650 C801.3,660.3 793.0,679.2 798,690 C803.0,700.8 819.7,706.7 830,715 C840.3,723.3 851.7,730.8 860,740 C868.3,749.2 876.3,760.0 880,770 C883.7,780.0 884.5,793.7 882,800 C879.5,806.3 873.7,810.5 865,808 C856.3,805.5 840.8,791.3 830,785 C819.2,778.7 810.0,770.0 800,770 C790.0,770.0 778.3,785.0 770,785 C761.7,785.0 753.7,776.7 750,770 C746.3,763.3 744.7,754.2 748,745 C751.3,735.8 763.8,723.3 770,715 C776.2,706.7 785.0,703.3 785,695 C785.0,686.7 772.5,674.2 770,665 C767.5,655.8 766.7,646.2 770,640 Z" fill="#50FFAF"/>
<path d="M865,950 C855.0,940.0 870.8,904.2 880,890 C889.2,875.8 909.2,873.3 920,865 C930.8,856.7 939.2,842.5 945,840 C950.8,837.5 955.0,841.7 955,850 C955.0,858.3 947.5,873.3 945,890 C942.5,906.7 953.3,940.0 940,950 C926.7,960.0 875.0,960.0 865,950 Z" fill="#50FFAF"/>
<ellipse cx="615" cy="102" rx="9" ry="13" fill="#BFFF40" transform="rotate(-20 615 102)"/>
<ellipse cx="815" cy="872" rx="15" ry="18" fill="#BFFF40"/>
</g></g>
<g class="f" clip-path="url(#c17)"><g transform="translate(156,620) scale(0.204165)">
<path d="M205,-40 C62.5,-30.0 202.5,1.7 195,20 C187.5,38.3 167.5,55.0 160,70 C152.5,85.0 152.5,95.0 150,110 C147.5,125.0 149.2,148.0 145,160 C140.8,172.0 132.5,181.2 125,182 C117.5,182.8 107.5,167.0 100,165 C92.5,163.0 85.8,160.8 80,170 C74.2,179.2 69.2,198.3 65,220 C60.8,241.7 56.7,270.0 55,300 C53.3,330.0 53.3,370.0 55,400 C56.7,430.0 59.2,455.0 65,480 C70.8,505.0 79.2,530.0 90,550 C100.8,570.0 111.7,586.7 130,600 C148.3,613.3 176.7,621.7 200,630 C223.3,638.3 250.0,647.0 270,650 C290.0,653.0 305.8,653.0 320,648 C334.2,643.0 344.2,630.5 355,620 C365.8,609.5 372.5,595.0 385,585 C397.5,575.0 414.2,566.2 430,560 C445.8,553.8 461.7,549.7 480,548 C498.3,546.3 521.7,551.3 540,550 C558.3,548.7 576.7,545.8 590,540 C603.3,534.2 612.5,525.0 620,515 C627.5,505.0 632.5,494.2 635,480 C637.5,465.8 638.3,443.3 635,430 C631.7,416.7 625.8,407.5 615,400 C604.2,392.5 587.5,390.0 570,385 C552.5,380.0 528.3,375.0 510,370 C491.7,365.0 473.3,360.0 460,355 C446.7,350.0 435.8,347.5 430,340 C424.2,332.5 421.7,318.3 425,310 C428.3,301.7 437.5,295.0 450,290 C462.5,285.0 481.7,284.2 500,280 C518.3,275.8 540.0,270.8 560,265 C580.0,259.2 600.0,251.7 620,245 C640.0,238.3 663.3,229.5 680,225 C696.7,220.5 703.3,218.0 720,218 C736.7,218.0 758.3,221.3 780,225 C801.7,228.7 826.7,235.0 850,240 C873.3,245.0 893.5,248.3 920,255 C946.5,261.7 987.3,274.2 1009,280 C1030.7,285.8 1043.2,343.3 1050,290 C1056.8,236.7 1190.8,15.0 1050,-40 C909.2,-95.0 347.5,-50.0 205,-40 Z" fill="#50FFAF"/>
<path d="M545,-40 C495.8,-26.7 540.0,20.0 535,40 C530.0,60.0 525.0,69.2 515,80 C505.0,90.8 486.3,97.5 475,105 C463.7,112.5 448.7,118.3 447,125 C445.3,131.7 454.5,140.0 465,145 C475.5,150.0 494.2,155.8 510,155 C525.8,154.2 545.0,146.7 560,140 C575.0,133.3 588.3,125.8 600,115 C611.7,104.2 620.0,89.2 630,75 C640.0,60.8 650.0,40.8 660,30 C670.0,19.2 678.3,13.7 690,10 C701.7,6.3 716.7,6.3 730,8 C743.3,9.7 756.7,20.0 770,20 C783.3,20.0 800.0,18.0 810,8 C820.0,-2.0 874.2,-32.0 830,-40 C785.8,-48.0 594.2,-53.3 545,-40 Z" fill="#80FF80"/>
<path d="M45,-40 C35.0,-28.3 42.5,11.7 45,30 C47.5,48.3 55.5,61.7 60,70 C64.5,78.3 66.2,82.5 72,80 C77.8,77.5 89.5,68.3 95,55 C100.5,41.7 103.3,15.8 105,0 C106.7,-15.8 115.0,-33.3 105,-40 C95.0,-46.7 55.0,-51.7 45,-40 Z" fill="#50FFAF"/>
<ellipse cx="150" cy="0" rx="8" ry="3" fill="#000000"/>
<path d="M370,-40 C364.2,-32.5 375.8,-3.3 380,5 C384.2,13.3 390.0,10.8 395,10 C400.0,9.2 406.7,8.3 410,0 C413.3,-8.3 421.7,-33.3 415,-40 C408.3,-46.7 375.8,-47.5 370,-40 Z" fill="#80FF80"/>
<ellipse cx="103" cy="388" rx="22" ry="65" fill="#18FFE7"/>
<path d="M30,490 C33.3,488.3 38.3,513.3 45,530 C51.7,546.7 59.2,571.7 70,590 C80.8,608.3 95.0,626.7 110,640 C125.0,653.3 141.7,660.0 160,670 C178.3,680.0 201.7,688.3 220,700 C238.3,711.7 255.0,723.3 270,740 C285.0,756.7 298.3,781.7 310,800 C321.7,818.3 334.2,838.3 340,850 C345.8,861.7 350.0,865.3 345,870 C340.0,874.7 325.8,878.0 310,878 C294.2,878.0 271.7,873.0 250,870 C228.3,867.0 200.0,865.0 180,860 C160.0,855.0 143.3,848.3 130,840 C116.7,831.7 108.3,823.3 100,810 C91.7,796.7 87.5,780.0 80,760 C72.5,740.0 62.5,713.3 55,690 C47.5,666.7 40.0,645.0 35,620 C30.0,595.0 25.8,561.7 25,540 C24.2,518.3 26.7,491.7 30,490 Z" fill="#BFFF40"/>
<path d="M150,740 C154.2,731.3 159.2,728.8 170,728 C180.8,727.2 200.8,729.7 215,735 C229.2,740.3 243.3,749.2 255,760 C266.7,770.8 277.5,786.7 285,800 C292.5,813.3 299.2,830.8 300,840 C300.8,849.2 300.0,853.3 290,855 C280.0,856.7 256.7,852.5 240,850 C223.3,847.5 204.2,845.8 190,840 C175.8,834.2 162.5,825.0 155,815 C147.5,805.0 145.8,792.5 145,780 C144.2,767.5 145.8,748.7 150,740 Z" fill="#EFFF10"/>
<ellipse cx="210" cy="795" rx="13" ry="10" fill="#EFFF10"/>
<ellipse cx="40" cy="785" rx="8" ry="28" fill="#80FF80" transform="rotate(-20 40 785)"/>
<ellipse cx="473" cy="655" rx="85" ry="50" fill="#BFFF40" transform="rotate(-5 473 655)"/>
<ellipse cx="745" cy="660" rx="57" ry="57" fill="#BFFF40"/>
<path d="M865,820 C865.8,808.0 873.3,782.5 880,770 C886.7,757.5 895.8,747.5 905,745 C914.2,742.5 925.8,747.5 935,755 C944.2,762.5 954.5,777.5 960,790 C965.5,802.5 968.8,819.7 968,830 C967.2,840.3 964.7,848.7 955,852 C945.3,855.3 923.3,851.7 910,850 C896.7,848.3 882.5,847.0 875,842 C867.5,837.0 864.2,832.0 865,820 Z" fill="#BFFF40"/>
<path d="M845,355 C845.0,347.8 857.5,339.2 870,335 C882.5,330.8 903.3,330.0 920,330 C936.7,330.0 955.2,333.7 970,335 C984.8,336.3 995.7,337.2 1009,338 C1022.3,338.8 1043.2,322.2 1050,340 C1056.8,357.8 1056.8,428.3 1050,445 C1043.2,461.7 1024.0,444.2 1009,440 C994.0,435.8 976.5,427.5 960,420 C943.5,412.5 925.0,402.0 910,395 C895.0,388.0 880.8,384.7 870,378 C859.2,371.3 845.0,362.2 845,355 Z" fill="#BFFF40"/>
<path d="M325,750 C324.2,740.0 327.5,733.7 340,730 C352.5,726.3 380.0,727.2 400,728 C420.0,728.8 440.0,735.5 460,735 C480.0,734.5 501.7,729.5 520,725 C538.3,720.5 551.7,710.5 570,708 C588.3,705.5 611.7,706.3 630,710 C648.3,713.7 666.7,720.0 680,730 C693.3,740.0 702.5,755.0 710,770 C717.5,785.0 724.2,805.3 725,820 C725.8,834.7 725.8,850.0 715,858 C704.2,866.0 680.8,867.3 660,868 C639.2,868.7 613.3,863.7 590,862 C566.7,860.3 543.3,860.8 520,858 C496.7,855.2 471.7,851.3 450,845 C428.3,838.7 407.5,829.2 390,820 C372.5,810.8 355.8,801.7 345,790 C334.2,778.3 325.8,760.0 325,750 Z" fill="#50FFAF"/>
<path d="M462,790 C465.3,784.2 484.5,775.5 500,770 C515.5,764.5 537.5,758.7 555,757 C572.5,755.3 591.7,755.3 605,760 C618.3,764.7 629.2,775.8 635,785 C640.8,794.2 644.2,807.5 640,815 C635.8,822.5 623.3,826.7 610,830 C596.7,833.3 576.7,836.3 560,835 C543.3,833.7 523.3,827.0 510,822 C496.7,817.0 488.0,810.3 480,805 C472.0,799.7 458.7,795.8 462,790 Z" fill="#18FFE7"/>
<ellipse cx="835" cy="722" rx="21" ry="42" fill="#50FFAF" transform="rotate(20 835 722)"/>
<path d="M765,545 C760.8,534.2 760.8,520.0 765,510 C769.2,500.0 779.2,491.3 790,485 C800.8,478.7 815.0,472.8 830,472 C845.0,471.2 863.3,476.7 880,480 C896.7,483.3 913.3,490.3 930,492 C946.7,493.7 966.8,491.2 980,490 C993.2,488.8 997.3,486.3 1009,485 C1020.7,483.7 1043.2,421.2 1050,482 C1056.8,542.8 1056.8,792.8 1050,850 C1043.2,907.2 1019.8,835.0 1009,825 C998.2,815.0 993.2,804.2 985,790 C976.8,775.8 972.5,755.0 960,740 C947.5,725.0 925.0,710.0 910,700 C895.0,690.0 879.2,690.0 870,680 C860.8,670.0 861.7,653.3 855,640 C848.3,626.7 840.8,610.8 830,600 C819.2,589.2 800.8,584.2 790,575 C779.2,565.8 769.2,555.8 765,545 Z" fill="#50FFAF"/>
<path d="M890,555 C896.7,547.5 915.0,548.3 930,545 C945.0,541.7 966.8,537.5 980,535 C993.2,532.5 997.3,531.2 1009,530 C1020.7,528.8 1043.2,484.7 1050,528 C1056.8,571.3 1056.8,748.8 1050,790 C1043.2,831.2 1019.8,782.5 1009,775 C998.2,767.5 994.8,755.8 985,745 C975.2,734.2 960.8,720.8 950,710 C939.2,699.2 928.3,693.3 920,680 C911.7,666.7 905.0,645.0 900,630 C895.0,615.0 891.7,602.5 890,590 C888.3,577.5 883.3,562.5 890,555 Z" fill="#18FFE7"/>
<path d="M1050,565 C1043.2,534.2 1021.5,569.2 1009,575 C996.5,580.8 984.0,589.2 975,600 C966.0,610.8 956.7,626.7 955,640 C953.3,653.3 959.2,666.7 965,680 C970.8,693.3 982.7,709.2 990,720 C997.3,730.8 999.0,738.3 1009,745 C1019.0,751.7 1043.2,790.0 1050,760 C1056.8,730.0 1056.8,595.8 1050,565 Z" fill="#00DFFF"/>
</g></g>
<g class="f" clip-path="url(#c18)"><g transform="translate(362,620) scale(0.204165)">
<path d="M-40,-40 L1050,-40 L1050,950 L-40,950 Z" fill="#50FFAF"/>
<path d="M-40,285 C-33.3,250.5 -16.7,286.2 0,288 C16.7,289.8 40.0,296.0 60,296 C80.0,296.0 100.0,288.0 120,288 C140.0,288.0 161.7,289.0 180,296 C198.3,303.0 215.3,315.2 230,330 C244.7,344.8 257.7,366.7 268,385 C278.3,403.3 287.0,423.3 292,440 C297.0,456.7 299.7,470.8 298,485 C296.3,499.2 290.8,515.5 282,525 C273.2,534.5 259.5,541.2 245,542 C230.5,542.8 210.8,535.3 195,530 C179.2,524.7 165.8,515.8 150,510 C134.2,504.2 116.7,498.0 100,495 C83.3,492.0 66.7,492.0 50,492 C33.3,492.0 15.0,494.5 0,495 C-15.0,495.5 -33.3,530.0 -40,495 C-46.7,460.0 -46.7,319.5 -40,285 Z" fill="#80FF80"/>
<path d="M-40,340 C-33.3,322.5 -15.0,338.3 0,340 C15.0,341.7 31.7,345.0 50,350 C68.3,355.0 90.0,364.2 110,370 C130.0,375.8 151.7,380.0 170,385 C188.3,390.0 205.8,392.5 220,400 C234.2,407.5 247.0,419.2 255,430 C263.0,440.8 267.2,454.2 268,465 C268.8,475.8 265.5,488.3 260,495 C254.5,501.7 245.0,505.0 235,505 C225.0,505.0 212.5,501.7 200,495 C187.5,488.3 173.3,474.2 160,465 C146.7,455.8 136.7,444.2 120,440 C103.3,435.8 80.0,439.2 60,440 C40.0,440.8 16.7,444.2 0,445 C-16.7,445.8 -33.3,462.5 -40,445 C-46.7,427.5 -46.7,357.5 -40,340 Z" fill="#BFFF40"/>
<path d="M-40,520 C-33.3,474.2 -23.3,518.3 0,520 C23.3,521.7 66.7,523.3 100,530 C133.3,536.7 170.0,554.2 200,560 C230.0,565.8 260.8,570.0 280,565 C299.2,560.0 308.7,544.2 315,530 C321.3,515.8 318.8,501.7 318,480 C317.2,458.3 309.7,420.0 310,400 C310.3,380.0 313.3,369.2 320,360 C326.7,350.8 338.3,345.8 350,345 C361.7,344.2 376.7,347.5 390,355 C403.3,362.5 416.7,377.5 430,390 C443.3,402.5 458.3,420.0 470,430 C481.7,440.0 490.0,450.0 500,450 C510.0,450.0 518.3,436.7 530,430 C541.7,423.3 557.5,410.8 570,410 C582.5,409.2 596.7,415.0 605,425 C613.3,435.0 618.3,452.5 620,470 C621.7,487.5 618.3,510.0 615,530 C611.7,550.0 601.7,570.0 600,590 C598.3,610.0 602.5,628.3 605,650 C607.5,671.7 615.0,704.2 615,720 C615.0,735.8 610.8,745.8 605,745 C599.2,744.2 587.5,729.2 580,715 C572.5,700.8 566.7,677.5 560,660 C553.3,642.5 548.3,624.2 540,610 C531.7,595.8 523.3,582.5 510,575 C496.7,567.5 478.3,565.8 460,565 C441.7,564.2 418.3,565.0 400,570 C381.7,575.0 360.8,583.3 350,595 C339.2,606.7 338.7,619.2 335,640 C331.3,660.8 329.7,695.0 328,720 C326.3,745.0 329.7,773.3 325,790 C320.3,806.7 317.5,810.8 300,820 C282.5,829.2 253.3,842.5 220,845 C186.7,847.5 136.7,842.5 100,835 C63.3,827.5 23.3,806.7 0,800 C-23.3,793.3 -33.3,841.7 -40,795 C-46.7,748.3 -46.7,565.8 -40,520 Z" fill="#18FFE7"/>
<path d="M-40,565 C-33.3,534.2 -16.7,565.8 0,565 C16.7,564.2 40.0,557.5 60,560 C80.0,562.5 96.7,573.3 120,580 C143.3,586.7 176.7,595.0 200,600 C223.3,605.0 245.0,603.3 260,610 C275.0,616.7 284.2,625.0 290,640 C295.8,655.0 295.0,680.0 295,700 C295.0,720.0 295.8,743.3 290,760 C284.2,776.7 275.0,790.8 260,800 C245.0,809.2 223.3,815.0 200,815 C176.7,815.0 143.3,805.8 120,800 C96.7,794.2 80.0,787.5 60,780 C40.0,772.5 16.7,760.0 0,755 C-16.7,750.0 -33.3,781.7 -40,750 C-46.7,718.3 -46.7,595.8 -40,565 Z" fill="#00DFFF"/>
<path d="M10,660 C9.2,646.7 18.3,640.0 30,635 C41.7,630.0 60.0,629.2 80,630 C100.0,630.8 126.7,636.7 150,640 C173.3,643.3 202.5,643.3 220,650 C237.5,656.7 248.0,668.3 255,680 C262.0,691.7 263.7,706.7 262,720 C260.3,733.3 255.3,750.8 245,760 C234.7,769.2 217.5,774.2 200,775 C182.5,775.8 160.0,770.0 140,765 C120.0,760.0 97.5,753.3 80,745 C62.5,736.7 46.7,729.2 35,715 C23.3,700.8 10.8,673.3 10,660 Z" fill="#009FFF"/>
<ellipse cx="393" cy="475" rx="37" ry="48" fill="#00DFFF"/>
<path d="M-40,838 C-33.3,819.7 -23.3,836.3 0,840 C23.3,843.7 58.3,854.7 100,860 C141.7,865.3 212.0,871.7 250,872 C288.0,872.3 314.3,874.0 328,862 C341.7,850.0 330.0,823.7 332,800 C334.0,776.3 337.0,745.0 340,720 C343.0,695.0 344.2,669.2 350,650 C355.8,630.8 363.3,615.8 375,605 C386.7,594.2 404.2,588.7 420,585 C435.8,581.3 455.8,580.5 470,583 C484.2,585.5 495.8,590.5 505,600 C514.2,609.5 519.2,623.3 525,640 C530.8,656.7 534.2,680.0 540,700 C545.8,720.0 550.0,740.8 560,760 C570.0,779.2 586.7,800.8 600,815 C613.3,829.2 623.3,838.8 640,845 C656.7,851.2 676.7,851.5 700,852 C723.3,852.5 758.3,849.7 780,848 C801.7,846.3 815.3,843.7 830,842 C844.7,840.3 862.0,841.3 868,838 C874.0,834.7 870.7,827.0 866,822 C861.3,817.0 851.0,810.8 840,808 C829.0,805.2 813.3,808.0 800,805 C786.7,802.0 770.0,797.5 760,790 C750.0,782.5 744.2,775.0 740,760 C735.8,745.0 735.0,715.8 735,700 C735.0,684.2 734.2,672.5 740,665 C745.8,657.5 756.7,658.3 770,655 C783.3,651.7 806.7,648.8 820,645 C833.3,641.2 840.0,631.2 850,632 C860.0,632.8 868.3,642.0 880,650 C891.7,658.0 905.0,671.7 920,680 C935.0,688.3 955.2,696.7 970,700 C984.8,703.3 995.7,700.8 1009,700 C1022.3,699.2 1043.2,653.3 1050,695 C1056.8,736.7 1231.7,907.5 1050,950 C868.3,992.5 141.7,968.7 -40,950 C-221.7,931.3 -46.7,856.3 -40,838 Z" fill="#80FF80"/>
<path d="M365,870 C354.7,858.0 358.5,825.0 358,800 C357.5,775.0 358.3,743.3 362,720 C365.7,696.7 372.0,674.7 380,660 C388.0,645.3 398.3,637.3 410,632 C421.7,626.7 437.5,625.0 450,628 C462.5,631.0 475.8,638.0 485,650 C494.2,662.0 500.5,680.0 505,700 C509.5,720.0 512.8,748.3 512,770 C511.2,791.7 507.0,814.7 500,830 C493.0,845.3 483.3,855.0 470,862 C456.7,869.0 437.5,870.7 420,872 C402.5,873.3 375.3,882.0 365,870 Z" fill="#BFFF40"/>
<path d="M378,790 C376.7,773.0 377.2,739.2 380,720 C382.8,700.8 387.5,685.8 395,675 C402.5,664.2 414.2,657.5 425,655 C435.8,652.5 450.0,652.5 460,660 C470.0,667.5 479.2,683.3 485,700 C490.8,716.7 495.0,741.7 495,760 C495.0,778.3 491.7,797.0 485,810 C478.3,823.0 466.7,833.0 455,838 C443.3,843.0 426.2,842.7 415,840 C403.8,837.3 394.2,830.3 388,822 C381.8,813.7 379.3,807.0 378,790 Z" fill="#EFFF10"/>
<ellipse cx="428" cy="748" rx="43" ry="58" fill="#FFCF00"/>
<ellipse cx="443" cy="37" rx="35" ry="25" fill="#80FF80"/>
<path d="M312,248 C312.8,240.5 324.5,231.0 335,225 C345.5,219.0 364.2,210.3 375,212 C385.8,213.7 391.7,226.7 400,235 C408.3,243.3 422.5,255.3 425,262 C427.5,268.7 424.2,272.5 415,275 C405.8,277.5 384.2,277.8 370,277 C355.8,276.2 339.7,274.8 330,270 C320.3,265.2 311.2,255.5 312,248 Z" fill="#80FF80"/>
<path d="M455,270 C460.8,263.3 480.8,260.0 490,250 C499.2,240.0 502.5,220.8 510,210 C517.5,199.2 525.0,189.2 535,185 C545.0,180.8 557.5,180.8 570,185 C582.5,189.2 595.0,198.3 610,210 C625.0,221.7 644.2,238.3 660,255 C675.8,271.7 691.7,290.8 705,310 C718.3,329.2 730.0,351.7 740,370 C750.0,388.3 758.3,405.3 765,420 C771.7,434.7 783.3,453.0 780,458 C776.7,463.0 758.3,453.8 745,450 C731.7,446.2 714.2,443.3 700,435 C685.8,426.7 673.3,410.8 660,400 C646.7,389.2 633.3,379.2 620,370 C606.7,360.8 593.3,350.8 580,345 C566.7,339.2 551.7,335.0 540,335 C528.3,335.0 518.3,341.7 510,345 C501.7,348.3 496.7,359.2 490,355 C483.3,350.8 475.8,330.8 470,320 C464.2,309.2 457.5,298.3 455,290 C452.5,281.7 449.2,276.7 455,270 Z" fill="#80FF80"/>
<ellipse cx="640" cy="318" rx="14" ry="58" fill="#BFFF40" transform="rotate(-38 640 318)"/>
<path d="M690,-40 C629.2,-26.7 683.3,16.7 685,40 C686.7,63.3 692.5,80.0 700,100 C707.5,120.0 718.3,144.2 730,160 C741.7,175.8 756.7,187.5 770,195 C783.3,202.5 800.0,197.5 810,205 C820.0,212.5 823.3,225.8 830,240 C836.7,254.2 842.5,277.5 850,290 C857.5,302.5 863.3,312.5 875,315 C886.7,317.5 905.8,307.5 920,305 C934.2,302.5 945.2,298.3 960,300 C974.8,301.7 994.0,311.7 1009,315 C1024.0,318.3 1043.2,379.2 1050,320 C1056.8,260.8 1110.0,20.0 1050,-40 C990.0,-100.0 750.8,-53.3 690,-40 Z" fill="#80FF80"/>
<path d="M800,-40 C763.3,-32.5 816.7,-3.3 830,5 C843.3,13.3 861.7,7.5 880,10 C898.3,12.5 918.5,17.5 940,20 C961.5,22.5 990.7,24.2 1009,25 C1027.3,25.8 1043.2,35.8 1050,25 C1056.8,14.2 1091.7,-29.2 1050,-40 C1008.3,-50.8 836.7,-47.5 800,-40 Z" fill="#50FFAF"/>
<path d="M875,95 C873.3,88.3 882.5,79.2 890,80 C897.5,80.8 908.3,93.3 920,100 C931.7,106.7 945.2,112.5 960,120 C974.8,127.5 994.0,138.3 1009,145 C1024.0,151.7 1043.2,148.3 1050,160 C1056.8,171.7 1056.8,206.7 1050,215 C1043.2,223.3 1021.5,216.7 1009,210 C996.5,203.3 986.5,185.0 975,175 C963.5,165.0 952.5,159.2 940,150 C927.5,140.8 910.8,129.2 900,120 C889.2,110.8 876.7,101.7 875,95 Z" fill="#BFFF40"/>
<path d="M792,478 C793.7,470.8 802.0,469.2 810,472 C818.0,474.8 831.3,483.7 840,495 C848.7,506.3 858.3,524.2 862,540 C865.7,555.8 864.3,580.8 862,590 C859.7,599.2 855.0,600.0 848,595 C841.0,590.0 828.0,573.3 820,560 C812.0,546.7 804.7,528.7 800,515 C795.3,501.3 790.3,485.2 792,478 Z" fill="#80FF80"/>
<path d="M925,560 C924.2,545.8 929.2,528.8 935,520 C940.8,511.2 947.7,507.0 960,507 C972.3,507.0 994.0,516.2 1009,520 C1024.0,523.8 1043.2,516.7 1050,530 C1056.8,543.3 1056.8,587.5 1050,600 C1043.2,612.5 1022.3,601.7 1009,605 C995.7,608.3 981.5,620.0 970,620 C958.5,620.0 947.5,615.0 940,605 C932.5,595.0 925.8,574.2 925,560 Z" fill="#18FFE7"/>
</g></g>
<g class="f" clip-path="url(#c19)"><g transform="translate(568,620) scale(0.204165)">
<path d="M100,-40 C-57.5,-33.3 91.7,-8.0 105,0 C118.3,8.0 155.8,2.2 180,8 C204.2,13.8 228.3,28.8 250,35 C271.7,41.2 293.3,38.3 310,45 C326.7,51.7 337.5,60.8 350,75 C362.5,89.2 375.0,120.8 385,130 C395.0,139.2 401.7,130.8 410,130 C418.3,129.2 427.5,122.5 435,125 C442.5,127.5 449.2,133.3 455,145 C460.8,156.7 464.2,185.8 470,195 C475.8,204.2 480.0,202.5 490,200 C500.0,197.5 520.0,185.8 530,180 C540.0,174.2 547.0,176.7 550,165 C553.0,153.3 549.7,128.3 548,110 C546.3,91.7 539.7,68.0 540,55 C540.3,42.0 542.5,35.8 550,32 C557.5,28.2 577.0,27.3 585,32 C593.0,36.7 595.5,46.2 598,60 C600.5,73.8 596.3,102.0 600,115 C603.7,128.0 610.0,135.8 620,138 C630.0,140.2 646.7,129.7 660,128 C673.3,126.3 683.3,124.7 700,128 C716.7,131.3 738.3,142.7 760,148 C781.7,153.3 808.3,154.7 830,160 C851.7,165.3 873.3,172.5 890,180 C906.7,187.5 919.2,194.2 930,205 C940.8,215.8 941.8,237.5 955,245 C968.2,252.5 993.2,250.0 1009,250 C1024.8,250.0 1043.2,293.3 1050,245 C1056.8,196.7 1208.3,7.5 1050,-40 C891.7,-87.5 257.5,-46.7 100,-40 Z" fill="#50FFAF"/>
<path d="M780,40 C779.2,32.5 786.7,21.7 795,15 C803.3,8.3 817.5,4.2 830,0 C842.5,-4.2 865.0,-12.5 870,-10 C875.0,-7.5 866.7,6.7 860,15 C853.3,23.3 840.0,32.5 830,40 C820.0,47.5 808.3,60.0 800,60 C791.7,60.0 780.8,47.5 780,40 Z" fill="#80FF80"/>
<path d="M875,-40 C846.7,-23.3 877.5,37.5 880,60 C882.5,82.5 883.3,88.3 890,95 C896.7,101.7 910.8,103.3 920,100 C929.2,96.7 935.8,78.7 945,75 C954.2,71.3 964.3,73.8 975,78 C985.7,82.2 996.5,95.5 1009,100 C1021.5,104.5 1043.2,128.3 1050,105 C1056.8,81.7 1079.2,-15.8 1050,-40 C1020.8,-64.2 903.3,-56.7 875,-40 Z" fill="#80FF80"/>
<ellipse cx="1003" cy="22" rx="8" ry="12" fill="#000000"/>
<path d="M-40,315 C-33.3,252.2 -15.0,315.5 0,315 C15.0,314.5 35.0,309.5 50,312 C65.0,314.5 76.7,322.0 90,330 C103.3,338.0 120.8,348.3 130,360 C139.2,371.7 143.3,385.0 145,400 C146.7,415.0 143.3,435.0 140,450 C136.7,465.0 130.0,478.3 125,490 C120.0,501.7 113.3,508.3 110,520 C106.7,531.7 105.8,545.0 105,560 C104.2,575.0 108.3,596.7 105,610 C101.7,623.3 94.2,630.0 85,640 C75.8,650.0 64.2,661.7 50,670 C35.8,678.3 15.0,686.3 0,690 C-15.0,693.7 -33.3,754.5 -40,692 C-46.7,629.5 -46.7,377.8 -40,315 Z" fill="#50FFAF"/>
<ellipse cx="0" cy="560" rx="15" ry="35" fill="#18FFE7"/>
<path d="M135,240 C135.8,229.2 139.2,220.8 150,215 C160.8,209.2 185.0,208.3 200,205 C215.0,201.7 230.0,193.3 240,195 C250.0,196.7 255.0,205.8 260,215 C265.0,224.2 264.2,243.3 270,250 C275.8,256.7 285.0,259.2 295,255 C305.0,250.8 319.2,234.5 330,225 C340.8,215.5 348.3,203.0 360,198 C371.7,193.0 390.8,190.5 400,195 C409.2,199.5 412.0,209.2 415,225 C418.0,240.8 417.2,272.5 418,290 C418.8,307.5 416.3,322.5 420,330 C423.7,337.5 430.0,334.2 440,335 C450.0,335.8 466.7,333.8 480,335 C493.3,336.2 506.7,343.7 520,342 C533.3,340.3 545.0,332.0 560,325 C575.0,318.0 595.0,305.5 610,300 C625.0,294.5 636.7,292.3 650,292 C663.3,291.7 676.7,295.0 690,298 C703.3,301.0 715.0,307.2 730,310 C745.0,312.8 761.7,314.7 780,315 C798.3,315.3 820.0,310.8 840,312 C860.0,313.2 880.0,319.8 900,322 C920.0,324.2 941.8,322.0 960,325 C978.2,328.0 994.0,336.7 1009,340 C1024.0,343.3 1043.2,291.7 1050,345 C1056.8,398.3 1056.8,607.5 1050,660 C1043.2,712.5 1024.0,661.7 1009,660 C994.0,658.3 974.8,653.3 960,650 C945.2,646.7 931.7,640.8 920,640 C908.3,639.2 897.5,640.0 890,645 C882.5,650.0 879.7,656.7 875,670 C870.3,683.3 867.8,719.2 862,725 C856.2,730.8 848.7,711.7 840,705 C831.3,698.3 819.2,685.8 810,685 C800.8,684.2 795.0,693.3 785,700 C775.0,706.7 762.5,721.7 750,725 C737.5,728.3 723.3,724.2 710,720 C696.7,715.8 681.7,709.2 670,700 C658.3,690.8 648.3,676.7 640,665 C631.7,653.3 625.8,642.5 620,630 C614.2,617.5 611.7,601.7 605,590 C598.3,578.3 590.8,570.8 580,560 C569.2,549.2 553.3,536.7 540,525 C526.7,513.3 515.0,500.8 500,490 C485.0,479.2 465.0,470.0 450,460 C435.0,450.0 421.7,438.3 410,430 C398.3,421.7 391.7,413.7 380,410 C368.3,406.3 353.3,406.3 340,408 C326.7,409.7 312.5,418.0 300,420 C287.5,422.0 275.0,423.3 265,420 C255.0,416.7 249.2,406.7 240,400 C230.8,393.3 221.7,385.8 210,380 C198.3,374.2 179.2,375.0 170,365 C160.8,355.0 159.2,334.2 155,320 C150.8,305.8 148.3,293.3 145,280 C141.7,266.7 134.2,250.8 135,240 Z" fill="#50FFAF"/>
<path d="M588,440 C589.7,430.0 593.0,414.2 600,405 C607.0,395.8 619.2,390.0 630,385 C640.8,380.0 656.7,375.0 665,375 C673.3,375.0 678.8,376.7 680,385 C681.2,393.3 676.2,411.7 672,425 C667.8,438.3 662.0,453.3 655,465 C648.0,476.7 638.3,491.7 630,495 C621.7,498.3 611.7,490.0 605,485 C598.3,480.0 592.8,472.5 590,465 C587.2,457.5 586.3,450.0 588,440 Z" fill="#18FFE7"/>
<path d="M688,500 C688.5,488.3 689.7,463.3 695,450 C700.3,436.7 710.0,425.0 720,420 C730.0,415.0 745.0,415.0 755,420 C765.0,425.0 773.8,436.7 780,450 C786.2,463.3 791.2,483.3 792,500 C792.8,516.7 789.5,536.7 785,550 C780.5,563.3 772.5,576.7 765,580 C757.5,583.3 749.2,575.8 740,570 C730.8,564.2 718.0,553.3 710,545 C702.0,536.7 695.7,527.5 692,520 C688.3,512.5 687.5,511.7 688,500 Z" fill="#80FF80"/>
<ellipse cx="728" cy="483" rx="20" ry="25" fill="#BFFF40"/>
<path d="M850,510 C848.3,498.3 850.0,480.8 855,470 C860.0,459.2 870.8,449.2 880,445 C889.2,440.8 900.0,440.8 910,445 C920.0,449.2 930.0,464.2 940,470 C950.0,475.8 958.5,480.0 970,480 C981.5,480.0 995.7,473.0 1009,470 C1022.3,467.0 1043.2,441.2 1050,462 C1056.8,482.8 1056.8,572.8 1050,595 C1043.2,617.2 1022.3,595.5 1009,595 C995.7,594.5 983.2,595.3 970,592 C956.8,588.7 942.5,581.2 930,575 C917.5,568.8 905.8,560.8 895,555 C884.2,549.2 872.5,547.5 865,540 C857.5,532.5 851.7,521.7 850,510 Z" fill="#18FFE7"/>
<path d="M205,570 C206.7,562.5 216.7,562.5 225,565 C233.3,567.5 244.2,574.2 255,585 C265.8,595.8 275.8,620.8 290,630 C304.2,639.2 321.7,637.5 340,640 C358.3,642.5 384.2,640.8 400,645 C415.8,649.2 425.0,654.2 435,665 C445.0,675.8 455.0,692.5 460,710 C465.0,727.5 460.0,753.3 465,770 C470.0,786.7 479.2,800.0 490,810 C500.8,820.0 515.0,823.3 530,830 C545.0,836.7 572.5,844.7 580,850 C587.5,855.3 585.0,860.0 575,862 C565.0,864.0 540.8,862.0 520,862 C499.2,862.0 473.3,863.2 450,862 C426.7,860.8 400.0,860.3 380,855 C360.0,849.7 344.2,840.8 330,830 C315.8,819.2 304.2,805.0 295,790 C285.8,775.0 280.0,756.7 275,740 C270.0,723.3 270.0,705.0 265,690 C260.0,675.0 253.3,663.3 245,650 C236.7,636.7 221.7,623.3 215,610 C208.3,596.7 203.3,577.5 205,570 Z" fill="#50FFAF"/>
<ellipse cx="370" cy="757" rx="30" ry="35" fill="#18FFE7"/>
<ellipse cx="0" cy="180" rx="18" ry="32" fill="#BFFF40"/>
<path d="M675,190 C677.5,182.8 686.7,179.5 695,182 C703.3,184.5 717.5,197.0 725,205 C732.5,213.0 740.0,222.5 740,230 C740.0,237.5 732.5,246.7 725,250 C717.5,253.3 702.5,254.2 695,250 C687.5,245.8 683.3,235.0 680,225 C676.7,215.0 672.5,197.2 675,190 Z" fill="#BFFF40"/>
<ellipse cx="260" cy="832" rx="28" ry="28" fill="#BFFF40"/>
<path d="M645,765 C646.7,759.2 655.8,751.7 665,750 C674.2,748.3 689.2,748.3 700,755 C710.8,761.7 722.0,777.5 730,790 C738.0,802.5 747.2,820.0 748,830 C748.8,840.0 742.2,848.3 735,850 C727.8,851.7 715.0,846.7 705,840 C695.0,833.3 683.3,819.2 675,810 C666.7,800.8 660.0,792.5 655,785 C650.0,777.5 643.3,770.8 645,765 Z" fill="#BFFF40"/>
<ellipse cx="1005" cy="765" rx="12" ry="40" fill="#18FFE7"/>
</g></g>
<g class="f" clip-path="url(#c20)"><g transform="translate(774,620) scale(0.204165)">
<path d="M60,-40 C36.7,-28.3 63.3,10.8 60,30 C56.7,49.2 50.0,64.2 40,75 C30.0,85.8 13.3,90.8 0,95 C-13.3,99.2 -33.3,75.0 -40,100 C-46.7,125.0 -46.7,221.7 -40,245 C-33.3,268.3 -10.0,242.2 0,240 C10.0,237.8 10.0,234.5 20,232 C30.0,229.5 46.7,223.7 60,225 C73.3,226.3 85.0,233.3 100,240 C115.0,246.7 133.3,260.0 150,265 C166.7,270.0 184.2,265.0 200,270 C215.8,275.0 233.3,283.3 245,295 C256.7,306.7 259.2,327.5 270,340 C280.8,352.5 297.5,358.3 310,370 C322.5,381.7 333.3,398.3 345,410 C356.7,421.7 364.2,436.7 380,440 C395.8,443.3 420.0,432.5 440,430 C460.0,427.5 480.0,425.8 500,425 C520.0,424.2 546.7,427.5 560,425 C573.3,422.5 575.8,417.8 580,410 C584.2,402.2 582.5,383.8 585,378 C587.5,372.2 592.5,369.7 595,375 C597.5,380.3 595.8,405.0 600,410 C604.2,415.0 611.7,407.5 620,405 C628.3,402.5 640.0,394.2 650,395 C660.0,395.8 670.8,400.8 680,410 C689.2,419.2 695.8,436.7 705,450 C714.2,463.3 724.2,481.7 735,490 C745.8,498.3 759.2,500.0 770,500 C780.8,500.0 790.0,495.8 800,490 C810.0,484.2 820.0,466.7 830,465 C840.0,463.3 850.0,475.0 860,480 C870.0,485.0 878.3,492.5 890,495 C901.7,497.5 918.3,499.2 930,495 C941.7,490.8 952.0,479.2 960,470 C968.0,460.8 975.5,450.0 978,440 C980.5,430.0 984.7,417.5 975,410 C965.3,402.5 935.8,400.8 920,395 C904.2,389.2 891.7,380.0 880,375 C868.3,370.0 859.2,370.8 850,365 C840.8,359.2 833.3,351.7 825,340 C816.7,328.3 809.2,307.0 800,295 C790.8,283.0 781.7,271.3 770,268 C758.3,264.7 742.5,272.7 730,275 C717.5,277.3 705.0,286.2 695,282 C685.0,277.8 680.0,259.0 670,250 C660.0,241.0 645.0,228.8 635,228 C625.0,227.2 617.5,237.2 610,245 C602.5,252.8 598.3,269.2 590,275 C581.7,280.8 575.0,279.5 560,280 C545.0,280.5 520.0,280.0 500,278 C480.0,276.0 457.5,273.5 440,268 C422.5,262.5 406.7,256.3 395,245 C383.3,233.7 380.0,215.8 370,200 C360.0,184.2 343.3,168.3 335,150 C326.7,131.7 323.3,107.5 320,90 C316.7,72.5 320.8,50.8 315,45 C309.2,39.2 298.3,50.8 285,55 C271.7,59.2 249.2,72.5 235,70 C220.8,67.5 205.8,58.3 200,40 C194.2,21.7 223.3,-26.7 200,-40 C176.7,-53.3 83.3,-51.7 60,-40 Z" fill="#50FFAF"/>
<ellipse cx="838" cy="405" rx="18" ry="28" fill="#80FF80" transform="rotate(-15 838 405)"/>
<path d="M485,-40 C443.3,-28.3 490.8,13.3 495,30 C499.2,46.7 499.2,53.3 510,60 C520.8,66.7 545.0,63.3 560,70 C575.0,76.7 587.5,95.0 600,100 C612.5,105.0 625.0,106.7 635,100 C645.0,93.3 650.8,73.3 660,60 C669.2,46.7 677.5,29.2 690,20 C702.5,10.8 725.8,15.0 735,5 C744.2,-5.0 786.7,-32.5 745,-40 C703.3,-47.5 526.7,-51.7 485,-40 Z" fill="#50FFAF"/>
<path d="M748,50 C748.3,41.2 748.0,35.7 760,32 C772.0,28.3 803.3,32.0 820,28 C836.7,24.0 850.0,19.3 860,8 C870.0,-3.3 865.8,-32.0 880,-40 C894.2,-48.0 933.3,-50.0 945,-40 C956.7,-30.0 947.5,3.3 950,20 C952.5,36.7 960.8,46.7 960,60 C959.2,73.3 952.5,89.2 945,100 C937.5,110.8 927.5,120.3 915,125 C902.5,129.7 885.8,126.3 870,128 C854.2,129.7 835.0,137.2 820,135 C805.0,132.8 790.3,123.3 780,115 C769.7,106.7 763.3,95.8 758,85 C752.7,74.2 747.7,58.8 748,50 Z" fill="#50FFAF"/>
<path d="M872,285 C873.7,278.7 882.0,267.5 890,262 C898.0,256.5 911.7,249.8 920,252 C928.3,254.2 937.0,267.8 940,275 C943.0,282.2 943.8,290.0 938,295 C932.2,300.0 914.7,304.2 905,305 C895.3,305.8 885.5,303.3 880,300 C874.5,296.7 870.3,291.3 872,285 Z" fill="#50FFAF"/>
<path d="M900,600 C900.5,586.3 903.0,570.0 908,560 C913.0,550.0 921.3,540.0 930,540 C938.7,540.0 953.0,552.5 960,560 C967.0,567.5 972.8,576.7 972,585 C971.2,593.3 962.8,602.5 955,610 C947.2,617.5 933.3,624.7 925,630 C916.7,635.3 909.2,647.0 905,642 C900.8,637.0 899.5,613.7 900,600 Z" fill="#50FFAF"/>
<path d="M-40,350 C-33.3,298.7 -16.7,350.3 0,352 C16.7,353.7 43.3,360.0 60,360 C76.7,360.0 87.5,354.0 100,352 C112.5,350.0 124.2,345.0 135,348 C145.8,351.0 156.7,359.7 165,370 C173.3,380.3 180.0,395.8 185,410 C190.0,424.2 188.3,441.7 195,455 C201.7,468.3 214.2,477.5 225,490 C235.8,502.5 247.5,517.0 260,530 C272.5,543.0 289.2,565.5 300,568 C310.8,570.5 317.5,556.3 325,545 C332.5,533.7 337.5,510.3 345,500 C352.5,489.7 361.7,483.8 370,483 C378.3,482.2 386.7,487.2 395,495 C403.3,502.8 412.5,515.8 420,530 C427.5,544.2 432.5,563.3 440,580 C447.5,596.7 457.5,615.0 465,630 C472.5,645.0 475.8,667.0 485,670 C494.2,673.0 509.2,652.2 520,648 C530.8,643.8 541.7,641.3 550,645 C558.3,648.7 565.3,657.5 570,670 C574.7,682.5 577.2,706.7 578,720 C578.8,733.3 581.3,745.8 575,750 C568.7,754.2 550.8,745.0 540,745 C529.2,745.0 518.3,742.5 510,750 C501.7,757.5 496.7,779.7 490,790 C483.3,800.3 480.0,811.2 470,812 C460.0,812.8 443.3,797.8 430,795 C416.7,792.2 401.7,794.5 390,795 C378.3,795.5 371.7,802.2 360,798 C348.3,793.8 333.3,778.8 320,770 C306.7,761.2 295.0,752.5 280,745 C265.0,737.5 245.0,734.2 230,725 C215.0,715.8 203.3,704.2 190,690 C176.7,675.8 163.3,654.7 150,640 C136.7,625.3 123.3,607.0 110,602 C96.7,597.0 83.3,603.7 70,610 C56.7,616.3 41.7,632.5 30,640 C18.3,647.5 11.7,651.7 0,655 C-11.7,658.3 -33.3,710.8 -40,660 C-46.7,609.2 -46.7,401.3 -40,350 Z" fill="#50FFAF"/>
<path d="M-40,460 C-33.3,437.5 -11.7,458.3 0,460 C11.7,461.7 20.8,463.3 30,470 C39.2,476.7 50.0,488.3 55,500 C60.0,511.7 61.7,527.5 60,540 C58.3,552.5 52.5,566.7 45,575 C37.5,583.3 29.2,586.7 15,590 C0.8,593.3 -30.8,616.7 -40,595 C-49.2,573.3 -46.7,482.5 -40,460 Z" fill="#18FFE7"/>
<path d="M-40,720 C-33.3,703.3 -10.8,715.0 0,715 C10.8,715.0 16.7,714.2 25,720 C33.3,725.8 41.7,736.7 50,750 C58.3,763.3 66.7,785.0 75,800 C83.3,815.0 94.2,830.3 100,840 C105.8,849.7 112.5,853.8 110,858 C107.5,862.2 95.0,865.5 85,865 C75.0,864.5 60.8,860.0 50,855 C39.2,850.0 28.3,840.8 20,835 C11.7,829.2 10.0,823.3 0,820 C-10.0,816.7 -33.3,831.7 -40,815 C-46.7,798.3 -46.7,736.7 -40,720 Z" fill="#50FFAF"/>
<path d="M-40,-40 C-29.2,-53.3 13.3,-48.3 25,-40 C36.7,-31.7 30.8,-2.5 30,10 C29.2,22.5 25.0,30.0 20,35 C15.0,40.0 10.0,39.2 0,40 C-10.0,40.8 -33.3,53.3 -40,40 C-46.7,26.7 -50.8,-26.7 -40,-40 Z" fill="#BFFF40"/>
<path d="M230,-40 C223.8,-31.7 231.7,-0.3 235,10 C238.3,20.3 244.5,21.7 250,22 C255.5,22.3 264.3,22.3 268,12 C271.7,1.7 278.3,-31.3 272,-40 C265.7,-48.7 236.2,-48.3 230,-40 Z" fill="#BFFF40"/>
<ellipse cx="547" cy="145" rx="14" ry="16" fill="#BFFF40"/>
<ellipse cx="514" cy="192" rx="17" ry="25" fill="#BFFF40"/>
<ellipse cx="852" cy="190" rx="37" ry="31" fill="#BFFF40" transform="rotate(-15 852 190)"/>
<ellipse cx="678" cy="653" rx="6" ry="6" fill="#80FF80"/>
<ellipse cx="610" cy="805" rx="8" ry="15" fill="#80FF80" transform="rotate(-10 610 805)"/>
<path d="M849,814 L865,814 L865,830 L849,830 Z" fill="#80FF80"/>
</g></g>
<path d="M156.5,67.9 V802.8" stroke="#000" stroke-width="1.3" fill="none"/>
<path d="M155.9,68.7 H979.4" stroke="#000" stroke-width="1.3" fill="none"/>
<path d="M978.2,68.1 V802.9" stroke="#000" stroke-width="1.9" fill="none"/>
<path d="M155.9,802 H979.1" stroke="#000" stroke-width="1.8" fill="none"/>
<rect x="1010.5" y="793.02" width="42.5" height="12.08" fill="#00008F" shape-rendering="crispEdges"/>
<rect x="1010.5" y="781.53" width="42.5" height="12.08" fill="#00009F" shape-rendering="crispEdges"/>
<rect x="1010.5" y="770.05" width="42.5" height="12.08" fill="#0000AF" shape-rendering="crispEdges"/>
<rect x="1010.5" y="758.56" width="42.5" height="12.08" fill="#0000BF" shape-rendering="crispEdges"/>
<rect x="1010.5" y="747.08" width="42.5" height="12.08" fill="#0000CF" shape-rendering="crispEdges"/>
<rect x="1010.5" y="735.59" width="42.5" height="12.08" fill="#0000DF" shape-rendering="crispEdges"/>
<rect x="1010.5" y="724.11" width="42.5" height="12.08" fill="#0000EF" shape-rendering="crispEdges"/>
<rect x="1010.5" y="712.62" width="42.5" height="12.08" fill="#0000FF" shape-rendering="crispEdges"/>
<rect x="1010.5" y="701.14" width="42.5" height="12.08" fill="#0010FF" shape-rendering="crispEdges"/>
<rect x="1010.5" y="689.66" width="42.5" height="12.08" fill="#0020FF" shape-rendering="crispEdges"/>
<rect x="1010.5" y="678.17" width="42.5" height="12.08" fill="#0030FF" shape-rendering="crispEdges"/>
<rect x="1010.5" y="666.69" width="42.5" height="12.08" fill="#0040FF" shape-rendering="crispEdges"/>
<rect x="1010.5" y="655.20" width="42.5" height="12.08" fill="#0050FF" shape-rendering="crispEdges"/>
<rect x="1010.5" y="643.72" width="42.5" height="12.08" fill="#0060FF" shape-rendering="crispEdges"/>
<rect x="1010.5" y="632.23" width="42.5" height="12.08" fill="#0070FF" shape-rendering="crispEdges"/>
<rect x="1010.5" y="620.75" width="42.5" height="12.08" fill="#0080FF" shape-rendering="crispEdges"/>
<rect x="1010.5" y="609.27" width="42.5" height="12.08" fill="#008FFF" shape-rendering="crispEdges"/>
<rect x="1010.5" y="597.78" width="42.5" height="12.08" fill="#009FFF" shape-rendering="crispEdges"/>
<rect x="1010.5" y="586.30" width="42.5" height="12.08" fill="#00AFFF" shape-rendering="crispEdges"/>
<rect x="1010.5" y="574.81" width="42.5" height="12.08" fill="#00BFFF" shape-rendering="crispEdges"/>
<rect x="1010.5" y="563.33" width="42.5" height="12.08" fill="#00CFFF" shape-rendering="crispEdges"/>
<rect x="1010.5" y="551.84" width="42.5" height="12.08" fill="#00DFFF" shape-rendering="crispEdges"/>
<rect x="1010.5" y="540.36" width="42.5" height="12.08" fill="#00EFFF" shape-rendering="crispEdges"/>
<rect x="1010.5" y="528.88" width="42.5" height="12.08" fill="#00FFFF" shape-rendering="crispEdges"/>
<rect x="1010.5" y="517.39" width="42.5" height="12.08" fill="#10FFEF" shape-rendering="crispEdges"/>
<rect x="1010.5" y="505.91" width="42.5" height="12.08" fill="#20FFDF" shape-rendering="crispEdges"/>
<rect x="1010.5" y="494.42" width="42.5" height="12.08" fill="#30FFCF" shape-rendering="crispEdges"/>
<rect x="1010.5" y="482.94" width="42.5" height="12.08" fill="#40FFBF" shape-rendering="crispEdges"/>
<rect x="1010.5" y="471.45" width="42.5" height="12.08" fill="#50FFAF" shape-rendering="crispEdges"/>
<rect x="1010.5" y="459.97" width="42.5" height="12.08" fill="#60FF9F" shape-rendering="crispEdges"/>
<rect x="1010.5" y="448.48" width="42.5" height="12.08" fill="#70FF8F" shape-rendering="crispEdges"/>
<rect x="1010.5" y="437.00" width="42.5" height="12.08" fill="#80FF80" shape-rendering="crispEdges"/>
<rect x="1010.5" y="425.52" width="42.5" height="12.08" fill="#8FFF70" shape-rendering="crispEdges"/>
<rect x="1010.5" y="414.03" width="42.5" height="12.08" fill="#9FFF60" shape-rendering="crispEdges"/>
<rect x="1010.5" y="402.55" width="42.5" height="12.08" fill="#AFFF50" shape-rendering="crispEdges"/>
<rect x="1010.5" y="391.06" width="42.5" height="12.08" fill="#BFFF40" shape-rendering="crispEdges"/>
<rect x="1010.5" y="379.58" width="42.5" height="12.08" fill="#CFFF30" shape-rendering="crispEdges"/>
<rect x="1010.5" y="368.09" width="42.5" height="12.08" fill="#DFFF20" shape-rendering="crispEdges"/>
<rect x="1010.5" y="356.61" width="42.5" height="12.08" fill="#EFFF10" shape-rendering="crispEdges"/>
<rect x="1010.5" y="345.12" width="42.5" height="12.08" fill="#FFFF00" shape-rendering="crispEdges"/>
<rect x="1010.5" y="333.64" width="42.5" height="12.08" fill="#FFEF00" shape-rendering="crispEdges"/>
<rect x="1010.5" y="322.16" width="42.5" height="12.08" fill="#FFDF00" shape-rendering="crispEdges"/>
<rect x="1010.5" y="310.67" width="42.5" height="12.08" fill="#FFCF00" shape-rendering="crispEdges"/>
<rect x="1010.5" y="299.19" width="42.5" height="12.08" fill="#FFBF00" shape-rendering="crispEdges"/>
<rect x="1010.5" y="287.70" width="42.5" height="12.08" fill="#FFAF00" shape-rendering="crispEdges"/>
<rect x="1010.5" y="276.22" width="42.5" height="12.08" fill="#FF9F00" shape-rendering="crispEdges"/>
<rect x="1010.5" y="264.73" width="42.5" height="12.08" fill="#FF8F00" shape-rendering="crispEdges"/>
<rect x="1010.5" y="253.25" width="42.5" height="12.08" fill="#FF8000" shape-rendering="crispEdges"/>
<rect x="1010.5" y="241.77" width="42.5" height="12.08" fill="#FF7000" shape-rendering="crispEdges"/>
<rect x="1010.5" y="230.28" width="42.5" height="12.08" fill="#FF6000" shape-rendering="crispEdges"/>
<rect x="1010.5" y="218.80" width="42.5" height="12.08" fill="#FF5000" shape-rendering="crispEdges"/>
<rect x="1010.5" y="207.31" width="42.5" height="12.08" fill="#FF4000" shape-rendering="crispEdges"/>
<rect x="1010.5" y="195.83" width="42.5" height="12.08" fill="#FF3000" shape-rendering="crispEdges"/>
<rect x="1010.5" y="184.34" width="42.5" height="12.08" fill="#FF2000" shape-rendering="crispEdges"/>
<rect x="1010.5" y="172.86" width="42.5" height="12.08" fill="#FF1000" shape-rendering="crispEdges"/>
<rect x="1010.5" y="161.38" width="42.5" height="12.08" fill="#FF0000" shape-rendering="crispEdges"/>
<rect x="1010.5" y="149.89" width="42.5" height="12.08" fill="#EF0000" shape-rendering="crispEdges"/>
<rect x="1010.5" y="138.41" width="42.5" height="12.08" fill="#DF0000" shape-rendering="crispEdges"/>
<rect x="1010.5" y="126.92" width="42.5" height="12.08" fill="#CF0000" shape-rendering="crispEdges"/>
<rect x="1010.5" y="115.44" width="42.5" height="12.08" fill="#BF0000" shape-rendering="crispEdges"/>
<rect x="1010.5" y="103.95" width="42.5" height="12.08" fill="#AF0000" shape-rendering="crispEdges"/>
<rect x="1010.5" y="92.47" width="42.5" height="12.08" fill="#9F0000" shape-rendering="crispEdges"/>
<rect x="1010.5" y="80.98" width="42.5" height="12.08" fill="#8F0000" shape-rendering="crispEdges"/>
<rect x="1010.5" y="69.50" width="42.5" height="12.08" fill="#800000" shape-rendering="crispEdges"/>
<rect x="1010.5" y="69.5" width="42.5" height="735" fill="none" stroke="#000" stroke-width="1.2"/>
<path d="M1010.5,761.3 h8 M1053,761.3 h-8" stroke="#000" stroke-width="1" fill="none"/>
<text x="1058.5" y="771.7">-0.4</text>
<path d="M1010.5,680.0 h8 M1053,680.0 h-8" stroke="#000" stroke-width="1" fill="none"/>
<text x="1058.5" y="690.4">-0.3</text>
<path d="M1010.5,598.8 h8 M1053,598.8 h-8" stroke="#000" stroke-width="1" fill="none"/>
<text x="1058.5" y="609.2">-0.2</text>
<path d="M1010.5,517.5 h8 M1053,517.5 h-8" stroke="#000" stroke-width="1" fill="none"/>
<text x="1058.5" y="527.9">-0.1</text>
<path d="M1010.5,436.3 h8 M1053,436.3 h-8" stroke="#000" stroke-width="1" fill="none"/>
<text x="1058.5" y="446.7">0</text>
<path d="M1010.5,355.1 h8 M1053,355.1 h-8" stroke="#000" stroke-width="1" fill="none"/>
<text x="1058.5" y="365.5">0.1</text>
<path d="M1010.5,273.8 h8 M1053,273.8 h-8" stroke="#000" stroke-width="1" fill="none"/>
<text x="1058.5" y="284.2">0.2</text>
<path d="M1010.5,192.6 h8 M1053,192.6 h-8" stroke="#000" stroke-width="1" fill="none"/>
<text x="1058.5" y="203.0">0.3</text>
<path d="M1010.5,111.3 h8 M1053,111.3 h-8" stroke="#000" stroke-width="1" fill="none"/>
<text x="1058.5" y="121.7">0.4</text>
<text x="156.5" y="833.8" text-anchor="middle">0</text>
<text x="293.5" y="833.8" text-anchor="middle">10</text>
<text x="430.5" y="833.8" text-anchor="middle">20</text>
<text x="567.5" y="833.8" text-anchor="middle">30</text>
<text x="704.5" y="833.8" text-anchor="middle">40</text>
<text x="841.5" y="833.8" text-anchor="middle">50</text>
<text x="978.5" y="833.8" text-anchor="middle">60</text>
<text x="150.3" y="812.6" text-anchor="end">15</text>
<text x="150.3" y="720.9" text-anchor="end">20</text>
<text x="150.3" y="629.2" text-anchor="end">25</text>
<text x="150.3" y="537.5" text-anchor="end">30</text>
<text x="150.3" y="445.9" text-anchor="end">35</text>
<text x="150.3" y="354.2" text-anchor="end">40</text>
<text x="150.3" y="262.5" text-anchor="end">45</text>
<text x="150.3" y="170.8" text-anchor="end">50</text>
<text x="150.3" y="79.1" text-anchor="end">55</text>
<text x="239.4" y="48.4" style="letter-spacing:0.63px">HYCOM expt_11.6 - 6 MONTHS MEAN SSH ANOMALY YR101.25</text>
<text x="483.6" y="864.7" style="letter-spacing:0.7px">LONGITUDE (E)</text>
<text transform="translate(111,509.2) rotate(-90)" style="letter-spacing:0.8px">LATITUDE (N)</text>
<text x="1103.4" y="458.8" text-anchor="middle">(M)</text>
</svg></body></html>
